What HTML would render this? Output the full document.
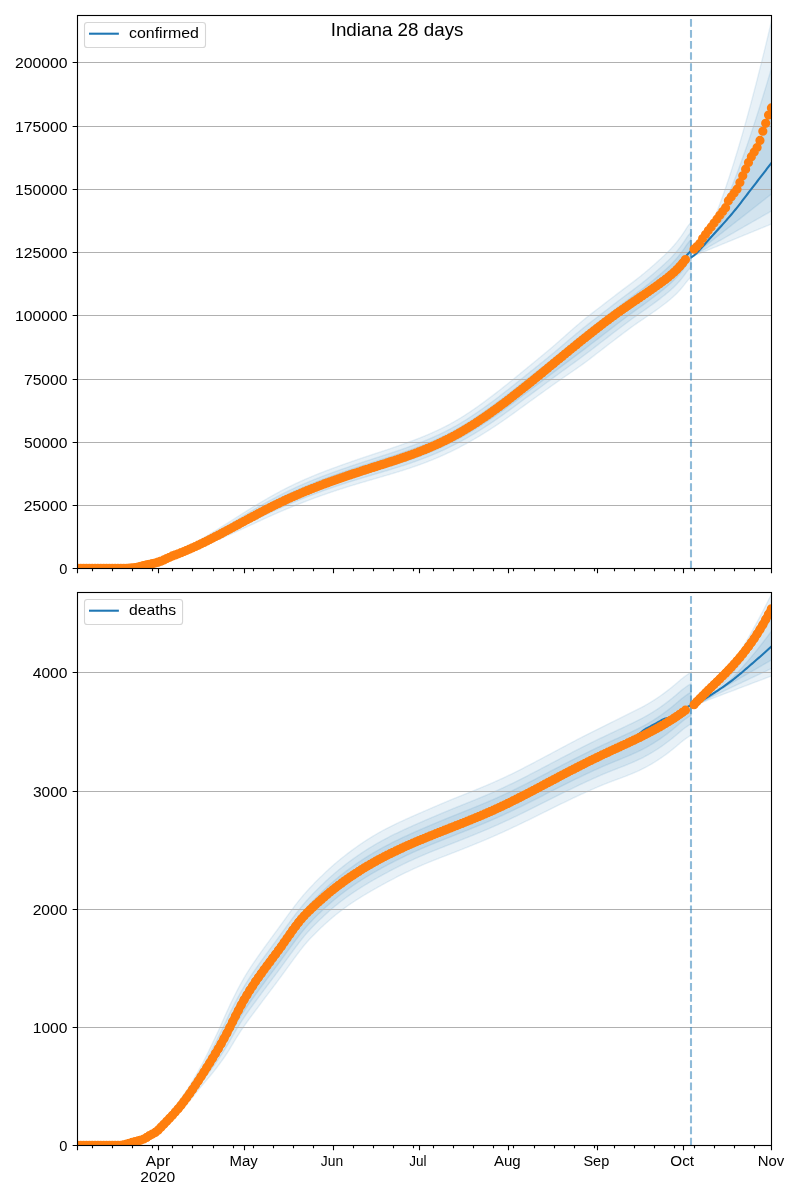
<!DOCTYPE html><html><head><meta charset="utf-8"><title>Indiana 28 days</title><style>html,body{margin:0;padding:0;background:#fff;}svg{display:block;will-change:transform;}text{font-family:"Liberation Sans",sans-serif;}</style></head><body><svg width="800" height="1200" viewBox="0 0 800 1200" font-family="Liberation Sans, sans-serif" fill="#000"><rect width="800" height="1200" fill="#fff"/><clipPath id="c0"><rect x="77.5" y="15.5" width="694.0" height="552.9"/></clipPath><g clip-path="url(#c0)"><path d="M77.5 568.09 L78.5 568.08 L79.5 568.07 L80.5 568.06 L81.5 568.05 L82.5 568.04 L83.5 568.03 L84.5 568.02 L85.5 568.01 L86.5 567.99 L87.5 567.98 L88.5 567.97 L89.5 567.96 L90.5 567.95 L91.5 567.94 L92.5 567.93 L93.5 567.92 L94.5 567.91 L95.5 567.9 L96.5 567.88 L97.5 567.87 L98.5 567.86 L99.5 567.85 L100.5 567.84 L101.5 567.83 L102.5 567.82 L103.5 567.81 L104.5 567.8 L105.5 567.78 L106.5 567.77 L107.5 567.76 L108.5 567.75 L109.5 567.74 L110.5 567.73 L111.5 567.72 L112.5 567.71 L113.5 567.7 L114.5 567.68 L115.5 567.67 L116.5 567.66 L117.5 567.65 L118.5 567.64 L119.5 567.63 L120.5 567.62 L121.5 567.6 L122.5 567.59 L123.5 567.56 L124.5 567.53 L125.5 567.5 L126.5 567.45 L127.5 567.4 L128.5 567.33 L129.5 567.26 L130.5 567.17 L131.5 567.06 L132.5 566.94 L133.5 566.8 L134.5 566.65 L135.5 566.47 L136.5 566.27 L137.5 566.07 L138.5 565.85 L139.5 565.61 L140.5 565.37 L141.5 565.12 L142.5 564.86 L143.5 564.6 L144.5 564.35 L145.5 564.1 L146.5 563.86 L147.5 563.63 L148.5 563.39 L149.5 563.16 L150.5 562.93 L151.5 562.69 L152.5 562.44 L153.5 562.19 L154.5 561.92 L155.5 561.63 L156.5 561.33 L157.5 561 L158.5 560.65 L159.5 560.27 L160.5 559.87 L161.5 559.44 L162.5 559 L163.5 558.54 L164.5 558.07 L165.5 557.58 L166.5 557.08 L167.5 556.58 L168.5 556.08 L169.5 555.59 L170.5 555.1 L171.5 554.63 L172.5 554.16 L173.5 553.7 L174.5 553.25 L175.5 552.8 L176.5 552.36 L177.5 551.91 L178.5 551.47 L179.5 551.03 L180.5 550.57 L181.5 550.11 L182.5 549.63 L183.5 549.14 L184.5 548.63 L185.5 548.11 L186.5 547.59 L187.5 547.05 L188.5 546.51 L189.5 545.96 L190.5 545.41 L191.5 544.85 L192.5 544.28 L193.5 543.71 L194.5 543.13 L195.5 542.55 L196.5 541.97 L197.5 541.39 L198.5 540.81 L199.5 540.23 L200.5 539.65 L201.5 539.06 L202.5 538.47 L203.5 537.88 L204.5 537.29 L205.5 536.69 L206.5 536.1 L207.5 535.49 L208.5 534.89 L209.5 534.28 L210.5 533.67 L211.5 533.06 L212.5 532.44 L213.5 531.83 L214.5 531.21 L215.5 530.59 L216.5 529.97 L217.5 529.34 L218.5 528.72 L219.5 528.09 L220.5 527.46 L221.5 526.84 L222.5 526.21 L223.5 525.58 L224.5 524.95 L225.5 524.32 L226.5 523.69 L227.5 523.06 L228.5 522.43 L229.5 521.79 L230.5 521.16 L231.5 520.53 L232.5 519.9 L233.5 519.27 L234.5 518.64 L235.5 518 L236.5 517.37 L237.5 516.73 L238.5 516.1 L239.5 515.47 L240.5 514.83 L241.5 514.2 L242.5 513.57 L243.5 512.94 L244.5 512.31 L245.5 511.68 L246.5 511.05 L247.5 510.43 L248.5 509.8 L249.5 509.18 L250.5 508.56 L251.5 507.94 L252.5 507.32 L253.5 506.71 L254.5 506.1 L255.5 505.49 L256.5 504.89 L257.5 504.29 L258.5 503.69 L259.5 503.09 L260.5 502.5 L261.5 501.91 L262.5 501.33 L263.5 500.74 L264.5 500.16 L265.5 499.58 L266.5 499 L267.5 498.43 L268.5 497.85 L269.5 497.28 L270.5 496.72 L271.5 496.15 L272.5 495.59 L273.5 495.03 L274.5 494.48 L275.5 493.93 L276.5 493.38 L277.5 492.84 L278.5 492.3 L279.5 491.76 L280.5 491.23 L281.5 490.7 L282.5 490.17 L283.5 489.65 L284.5 489.13 L285.5 488.62 L286.5 488.11 L287.5 487.61 L288.5 487.11 L289.5 486.61 L290.5 486.12 L291.5 485.63 L292.5 485.14 L293.5 484.66 L294.5 484.18 L295.5 483.71 L296.5 483.24 L297.5 482.77 L298.5 482.31 L299.5 481.85 L300.5 481.4 L301.5 480.95 L302.5 480.5 L303.5 480.06 L304.5 479.62 L305.5 479.18 L306.5 478.75 L307.5 478.32 L308.5 477.89 L309.5 477.46 L310.5 477.04 L311.5 476.62 L312.5 476.2 L313.5 475.79 L314.5 475.38 L315.5 474.97 L316.5 474.56 L317.5 474.16 L318.5 473.76 L319.5 473.36 L320.5 472.97 L321.5 472.57 L322.5 472.18 L323.5 471.79 L324.5 471.4 L325.5 471.02 L326.5 470.64 L327.5 470.26 L328.5 469.88 L329.5 469.5 L330.5 469.13 L331.5 468.75 L332.5 468.38 L333.5 468.01 L334.5 467.64 L335.5 467.28 L336.5 466.91 L337.5 466.55 L338.5 466.19 L339.5 465.83 L340.5 465.47 L341.5 465.11 L342.5 464.75 L343.5 464.4 L344.5 464.04 L345.5 463.69 L346.5 463.34 L347.5 462.99 L348.5 462.64 L349.5 462.29 L350.5 461.94 L351.5 461.59 L352.5 461.25 L353.5 460.9 L354.5 460.56 L355.5 460.22 L356.5 459.88 L357.5 459.53 L358.5 459.19 L359.5 458.86 L360.5 458.52 L361.5 458.18 L362.5 457.84 L363.5 457.51 L364.5 457.17 L365.5 456.84 L366.5 456.51 L367.5 456.17 L368.5 455.84 L369.5 455.51 L370.5 455.18 L371.5 454.85 L372.5 454.52 L373.5 454.19 L374.5 453.86 L375.5 453.53 L376.5 453.2 L377.5 452.87 L378.5 452.54 L379.5 452.21 L380.5 451.88 L381.5 451.55 L382.5 451.22 L383.5 450.88 L384.5 450.55 L385.5 450.22 L386.5 449.89 L387.5 449.55 L388.5 449.22 L389.5 448.88 L390.5 448.54 L391.5 448.21 L392.5 447.87 L393.5 447.53 L394.5 447.18 L395.5 446.84 L396.5 446.5 L397.5 446.15 L398.5 445.8 L399.5 445.45 L400.5 445.1 L401.5 444.75 L402.5 444.4 L403.5 444.04 L404.5 443.69 L405.5 443.33 L406.5 442.97 L407.5 442.6 L408.5 442.24 L409.5 441.87 L410.5 441.5 L411.5 441.13 L412.5 440.75 L413.5 440.38 L414.5 440 L415.5 439.61 L416.5 439.23 L417.5 438.84 L418.5 438.45 L419.5 438.05 L420.5 437.66 L421.5 437.26 L422.5 436.85 L423.5 436.44 L424.5 436.03 L425.5 435.62 L426.5 435.2 L427.5 434.77 L428.5 434.35 L429.5 433.92 L430.5 433.48 L431.5 433.04 L432.5 432.6 L433.5 432.15 L434.5 431.7 L435.5 431.24 L436.5 430.78 L437.5 430.31 L438.5 429.84 L439.5 429.36 L440.5 428.88 L441.5 428.39 L442.5 427.9 L443.5 427.4 L444.5 426.89 L445.5 426.38 L446.5 425.87 L447.5 425.35 L448.5 424.82 L449.5 424.29 L450.5 423.75 L451.5 423.21 L452.5 422.65 L453.5 422.09 L454.5 421.52 L455.5 420.95 L456.5 420.37 L457.5 419.78 L458.5 419.19 L459.5 418.58 L460.5 417.97 L461.5 417.36 L462.5 416.74 L463.5 416.11 L464.5 415.48 L465.5 414.84 L466.5 414.19 L467.5 413.54 L468.5 412.88 L469.5 412.21 L470.5 411.55 L471.5 410.87 L472.5 410.19 L473.5 409.51 L474.5 408.82 L475.5 408.12 L476.5 407.42 L477.5 406.72 L478.5 406.01 L479.5 405.29 L480.5 404.57 L481.5 403.85 L482.5 403.13 L483.5 402.39 L484.5 401.66 L485.5 400.92 L486.5 400.18 L487.5 399.43 L488.5 398.68 L489.5 397.93 L490.5 397.18 L491.5 396.42 L492.5 395.66 L493.5 394.89 L494.5 394.12 L495.5 393.35 L496.5 392.58 L497.5 391.81 L498.5 391.03 L499.5 390.25 L500.5 389.47 L501.5 388.68 L502.5 387.9 L503.5 387.11 L504.5 386.31 L505.5 385.52 L506.5 384.73 L507.5 383.93 L508.5 383.13 L509.5 382.32 L510.5 381.52 L511.5 380.71 L512.5 379.9 L513.5 379.09 L514.5 378.28 L515.5 377.47 L516.5 376.65 L517.5 375.83 L518.5 375.01 L519.5 374.19 L520.5 373.37 L521.5 372.55 L522.5 371.72 L523.5 370.9 L524.5 370.08 L525.5 369.26 L526.5 368.44 L527.5 367.62 L528.5 366.8 L529.5 365.98 L530.5 365.16 L531.5 364.34 L532.5 363.52 L533.5 362.7 L534.5 361.88 L535.5 361.06 L536.5 360.24 L537.5 359.42 L538.5 358.59 L539.5 357.77 L540.5 356.95 L541.5 356.12 L542.5 355.29 L543.5 354.47 L544.5 353.64 L545.5 352.81 L546.5 351.97 L547.5 351.14 L548.5 350.31 L549.5 349.47 L550.5 348.63 L551.5 347.78 L552.5 346.93 L553.5 346.08 L554.5 345.22 L555.5 344.35 L556.5 343.48 L557.5 342.6 L558.5 341.72 L559.5 340.84 L560.5 339.95 L561.5 339.06 L562.5 338.17 L563.5 337.29 L564.5 336.4 L565.5 335.51 L566.5 334.62 L567.5 333.74 L568.5 332.85 L569.5 331.97 L570.5 331.09 L571.5 330.21 L572.5 329.34 L573.5 328.46 L574.5 327.59 L575.5 326.73 L576.5 325.87 L577.5 325.01 L578.5 324.16 L579.5 323.31 L580.5 322.47 L581.5 321.63 L582.5 320.8 L583.5 319.98 L584.5 319.16 L585.5 318.35 L586.5 317.55 L587.5 316.75 L588.5 315.96 L589.5 315.18 L590.5 314.41 L591.5 313.64 L592.5 312.87 L593.5 312.1 L594.5 311.33 L595.5 310.56 L596.5 309.79 L597.5 309.02 L598.5 308.25 L599.5 307.48 L600.5 306.71 L601.5 305.94 L602.5 305.17 L603.5 304.4 L604.5 303.63 L605.5 302.85 L606.5 302.08 L607.5 301.31 L608.5 300.54 L609.5 299.77 L610.5 299 L611.5 298.24 L612.5 297.47 L613.5 296.7 L614.5 295.94 L615.5 295.17 L616.5 294.41 L617.5 293.65 L618.5 292.89 L619.5 292.13 L620.5 291.38 L621.5 290.63 L622.5 289.87 L623.5 289.12 L624.5 288.37 L625.5 287.63 L626.5 286.88 L627.5 286.14 L628.5 285.4 L629.5 284.65 L630.5 283.91 L631.5 283.16 L632.5 282.41 L633.5 281.65 L634.5 280.89 L635.5 280.11 L636.5 279.34 L637.5 278.55 L638.5 277.77 L639.5 276.97 L640.5 276.18 L641.5 275.37 L642.5 274.56 L643.5 273.74 L644.5 272.91 L645.5 272.08 L646.5 271.24 L647.5 270.39 L648.5 269.54 L649.5 268.68 L650.5 267.82 L651.5 266.95 L652.5 266.07 L653.5 265.19 L654.5 264.31 L655.5 263.42 L656.5 262.53 L657.5 261.63 L658.5 260.73 L659.5 259.83 L660.5 258.92 L661.5 258 L662.5 257.08 L663.5 256.14 L664.5 255.19 L665.5 254.23 L666.5 253.26 L667.5 252.27 L668.5 251.26 L669.5 250.24 L670.5 249.2 L671.5 248.13 L672.5 247.04 L673.5 245.92 L674.5 244.77 L675.5 243.59 L676.5 242.38 L677.5 241.14 L678.5 239.86 L679.5 238.54 L680.5 237.18 L681.5 235.78 L682.5 234.35 L683.5 232.86 L684.5 231.33 L685.5 229.76 L686.5 228.18 L687.5 226.71 L688.5 225.34 L689.5 224.08 L690.5 222.93 L691.18 221.99 L691.18 276.98 L690.5 277.74 L689.5 278.62 L688.5 279.62 L687.5 280.72 L686.5 281.94 L685.5 283.25 L684.5 284.57 L683.5 285.85 L682.5 287.08 L681.5 288.28 L680.5 289.43 L679.5 290.54 L678.5 291.62 L677.5 292.67 L676.5 293.68 L675.5 294.66 L674.5 295.62 L673.5 296.54 L672.5 297.45 L671.5 298.32 L670.5 299.18 L669.5 300.02 L668.5 300.84 L667.5 301.64 L666.5 302.43 L665.5 303.21 L664.5 303.99 L663.5 304.75 L662.5 305.51 L661.5 306.26 L660.5 307 L659.5 307.74 L658.5 308.48 L657.5 309.2 L656.5 309.92 L655.5 310.64 L654.5 311.34 L653.5 312.05 L652.5 312.74 L651.5 313.44 L650.5 314.13 L649.5 314.81 L648.5 315.5 L647.5 316.18 L646.5 316.86 L645.5 317.53 L644.5 318.21 L643.5 318.88 L642.5 319.56 L641.5 320.23 L640.5 320.91 L639.5 321.58 L638.5 322.26 L637.5 322.94 L636.5 323.63 L635.5 324.33 L634.5 325.03 L633.5 325.74 L632.5 326.46 L631.5 327.18 L630.5 327.91 L629.5 328.65 L628.5 329.4 L627.5 330.14 L626.5 330.88 L625.5 331.63 L624.5 332.37 L623.5 333.12 L622.5 333.87 L621.5 334.63 L620.5 335.38 L619.5 336.13 L618.5 336.89 L617.5 337.65 L616.5 338.41 L615.5 339.17 L614.5 339.94 L613.5 340.7 L612.5 341.47 L611.5 342.24 L610.5 343 L609.5 343.77 L608.5 344.54 L607.5 345.31 L606.5 346.08 L605.5 346.85 L604.5 347.63 L603.5 348.4 L602.5 349.17 L601.5 349.94 L600.5 350.71 L599.5 351.48 L598.5 352.25 L597.5 353.02 L596.5 353.79 L595.5 354.56 L594.5 355.33 L593.5 356.1 L592.5 356.87 L591.5 357.64 L590.5 358.41 L589.5 359.18 L588.5 359.95 L587.5 360.7 L586.5 361.45 L585.5 362.2 L584.5 362.93 L583.5 363.66 L582.5 364.39 L581.5 365.11 L580.5 365.82 L579.5 366.54 L578.5 367.24 L577.5 367.94 L576.5 368.64 L575.5 369.34 L574.5 370.03 L573.5 370.73 L572.5 371.42 L571.5 372.1 L570.5 372.79 L569.5 373.48 L568.5 374.16 L567.5 374.85 L566.5 375.53 L565.5 376.22 L564.5 376.9 L563.5 377.59 L562.5 378.28 L561.5 378.97 L560.5 379.66 L559.5 380.36 L558.5 381.06 L557.5 381.75 L556.5 382.45 L555.5 383.15 L554.5 383.86 L553.5 384.56 L552.5 385.27 L551.5 385.98 L550.5 386.69 L549.5 387.41 L548.5 388.13 L547.5 388.84 L546.5 389.56 L545.5 390.28 L544.5 391 L543.5 391.71 L542.5 392.43 L541.5 393.15 L540.5 393.87 L539.5 394.58 L538.5 395.3 L537.5 396.02 L536.5 396.74 L535.5 397.46 L534.5 398.18 L533.5 398.9 L532.5 399.62 L531.5 400.34 L530.5 401.06 L529.5 401.78 L528.5 402.51 L527.5 403.23 L526.5 403.95 L525.5 404.68 L524.5 405.4 L523.5 406.13 L522.5 406.86 L521.5 407.59 L520.5 408.31 L519.5 409.04 L518.5 409.77 L517.5 410.5 L516.5 411.22 L515.5 411.95 L514.5 412.67 L513.5 413.39 L512.5 414.11 L511.5 414.82 L510.5 415.53 L509.5 416.24 L508.5 416.95 L507.5 417.66 L506.5 418.36 L505.5 419.06 L504.5 419.76 L503.5 420.45 L502.5 421.14 L501.5 421.83 L500.5 422.52 L499.5 423.2 L498.5 423.88 L497.5 424.55 L496.5 425.22 L495.5 425.89 L494.5 426.55 L493.5 427.21 L492.5 427.86 L491.5 428.52 L490.5 429.16 L489.5 429.81 L488.5 430.45 L487.5 431.08 L486.5 431.72 L485.5 432.34 L484.5 432.97 L483.5 433.59 L482.5 434.2 L481.5 434.82 L480.5 435.43 L479.5 436.03 L478.5 436.63 L477.5 437.23 L476.5 437.82 L475.5 438.41 L474.5 438.99 L473.5 439.57 L472.5 440.15 L471.5 440.72 L470.5 441.29 L469.5 441.85 L468.5 442.41 L467.5 442.97 L466.5 443.52 L465.5 444.07 L464.5 444.61 L463.5 445.15 L462.5 445.69 L461.5 446.22 L460.5 446.74 L459.5 447.27 L458.5 447.78 L457.5 448.3 L456.5 448.81 L455.5 449.31 L454.5 449.82 L453.5 450.31 L452.5 450.81 L451.5 451.29 L450.5 451.78 L449.5 452.26 L448.5 452.74 L447.5 453.21 L446.5 453.68 L445.5 454.14 L444.5 454.6 L443.5 455.05 L442.5 455.5 L441.5 455.95 L440.5 456.39 L439.5 456.83 L438.5 457.26 L437.5 457.69 L436.5 458.11 L435.5 458.53 L434.5 458.95 L433.5 459.36 L432.5 459.77 L431.5 460.17 L430.5 460.58 L429.5 460.97 L428.5 461.37 L427.5 461.76 L426.5 462.14 L425.5 462.53 L424.5 462.91 L423.5 463.28 L422.5 463.66 L421.5 464.03 L420.5 464.39 L419.5 464.76 L418.5 465.12 L417.5 465.47 L416.5 465.83 L415.5 466.18 L414.5 466.53 L413.5 466.87 L412.5 467.21 L411.5 467.55 L410.5 467.89 L409.5 468.22 L408.5 468.56 L407.5 468.89 L406.5 469.21 L405.5 469.54 L404.5 469.86 L403.5 470.18 L402.5 470.5 L401.5 470.81 L400.5 471.12 L399.5 471.43 L398.5 471.74 L397.5 472.05 L396.5 472.36 L395.5 472.66 L394.5 472.96 L393.5 473.27 L392.5 473.57 L391.5 473.87 L390.5 474.16 L389.5 474.46 L388.5 474.76 L387.5 475.05 L386.5 475.35 L385.5 475.64 L384.5 475.93 L383.5 476.22 L382.5 476.52 L381.5 476.81 L380.5 477.1 L379.5 477.39 L378.5 477.68 L377.5 477.97 L376.5 478.26 L375.5 478.55 L374.5 478.84 L373.5 479.13 L372.5 479.42 L371.5 479.71 L370.5 480 L369.5 480.29 L368.5 480.58 L367.5 480.87 L366.5 481.17 L365.5 481.46 L364.5 481.75 L363.5 482.05 L362.5 482.34 L361.5 482.64 L360.5 482.94 L359.5 483.24 L358.5 483.53 L357.5 483.83 L356.5 484.14 L355.5 484.44 L354.5 484.74 L353.5 485.04 L352.5 485.35 L351.5 485.65 L350.5 485.96 L349.5 486.27 L348.5 486.58 L347.5 486.89 L346.5 487.2 L345.5 487.52 L344.5 487.83 L343.5 488.15 L342.5 488.47 L341.5 488.79 L340.5 489.11 L339.5 489.44 L338.5 489.76 L337.5 490.09 L336.5 490.42 L335.5 490.75 L334.5 491.08 L333.5 491.42 L332.5 491.75 L331.5 492.09 L330.5 492.43 L329.5 492.77 L328.5 493.11 L327.5 493.46 L326.5 493.8 L325.5 494.15 L324.5 494.5 L323.5 494.85 L322.5 495.2 L321.5 495.56 L320.5 495.91 L319.5 496.27 L318.5 496.63 L317.5 496.99 L316.5 497.36 L315.5 497.72 L314.5 498.09 L313.5 498.46 L312.5 498.83 L311.5 499.2 L310.5 499.58 L309.5 499.95 L308.5 500.33 L307.5 500.71 L306.5 501.1 L305.5 501.48 L304.5 501.87 L303.5 502.25 L302.5 502.64 L301.5 503.03 L300.5 503.43 L299.5 503.82 L298.5 504.22 L297.5 504.62 L296.5 505.02 L295.5 505.42 L294.5 505.82 L293.5 506.22 L292.5 506.63 L291.5 507.03 L290.5 507.44 L289.5 507.85 L288.5 508.26 L287.5 508.68 L286.5 509.09 L285.5 509.51 L284.5 509.93 L283.5 510.35 L282.5 510.77 L281.5 511.19 L280.5 511.62 L279.5 512.05 L278.5 512.48 L277.5 512.91 L276.5 513.35 L275.5 513.79 L274.5 514.23 L273.5 514.67 L272.5 515.11 L271.5 515.56 L270.5 516 L269.5 516.45 L268.5 516.9 L267.5 517.36 L266.5 517.81 L265.5 518.27 L264.5 518.72 L263.5 519.18 L262.5 519.64 L261.5 520.1 L260.5 520.57 L259.5 521.03 L258.5 521.49 L257.5 521.96 L256.5 522.42 L255.5 522.88 L254.5 523.34 L253.5 523.81 L252.5 524.27 L251.5 524.73 L250.5 525.18 L249.5 525.64 L248.5 526.1 L247.5 526.56 L246.5 527.02 L245.5 527.47 L244.5 527.93 L243.5 528.38 L242.5 528.84 L241.5 529.29 L240.5 529.75 L239.5 530.2 L238.5 530.65 L237.5 531.1 L236.5 531.56 L235.5 532.01 L234.5 532.46 L233.5 532.91 L232.5 533.36 L231.5 533.81 L230.5 534.26 L229.5 534.7 L228.5 535.15 L227.5 535.59 L226.5 536.04 L225.5 536.48 L224.5 536.91 L223.5 537.35 L222.5 537.78 L221.5 538.21 L220.5 538.64 L219.5 539.07 L218.5 539.5 L217.5 539.92 L216.5 540.34 L215.5 540.76 L214.5 541.17 L213.5 541.59 L212.5 542 L211.5 542.41 L210.5 542.81 L209.5 543.22 L208.5 543.62 L207.5 544.02 L206.5 544.42 L205.5 544.81 L204.5 545.2 L203.5 545.59 L202.5 545.98 L201.5 546.36 L200.5 546.75 L199.5 547.12 L198.5 547.5 L197.5 547.86 L196.5 548.22 L195.5 548.58 L194.5 548.93 L193.5 549.27 L192.5 549.61 L191.5 549.95 L190.5 550.28 L189.5 550.61 L188.5 550.94 L187.5 551.27 L186.5 551.6 L185.5 551.94 L184.5 552.27 L183.5 552.61 L182.5 552.94 L181.5 553.28 L180.5 553.63 L179.5 553.97 L178.5 554.32 L177.5 554.66 L176.5 555 L175.5 555.35 L174.5 555.7 L173.5 556.06 L172.5 556.43 L171.5 556.81 L170.5 557.19 L169.5 557.59 L168.5 558 L167.5 558.42 L166.5 558.85 L165.5 559.27 L164.5 559.69 L163.5 560.09 L162.5 560.49 L161.5 560.87 L160.5 561.23 L159.5 561.58 L158.5 561.91 L157.5 562.22 L156.5 562.5 L155.5 562.77 L154.5 563.02 L153.5 563.25 L152.5 563.48 L151.5 563.71 L150.5 563.93 L149.5 564.15 L148.5 564.38 L147.5 564.6 L146.5 564.82 L145.5 565.05 L144.5 565.29 L143.5 565.53 L142.5 565.78 L141.5 566.03 L140.5 566.27 L139.5 566.5 L138.5 566.73 L137.5 566.94 L136.5 567.14 L135.5 567.32 L134.5 567.49 L133.5 567.64 L132.5 567.77 L131.5 567.88 L130.5 567.98 L129.5 568.06 L128.5 568.13 L127.5 568.18 L126.5 568.23 L125.5 568.27 L124.5 568.3 L123.5 568.32 L122.5 568.34 L121.5 568.35 L120.5 568.35 L119.5 568.36 L118.5 568.36 L117.5 568.37 L116.5 568.37 L115.5 568.38 L114.5 568.39 L113.5 568.39 L112.5 568.4 L111.5 568.4 L110.5 568.4 L109.5 568.4 L108.5 568.4 L107.5 568.4 L106.5 568.4 L105.5 568.4 L104.5 568.4 L103.5 568.4 L102.5 568.4 L101.5 568.4 L100.5 568.4 L99.5 568.4 L98.5 568.4 L97.5 568.4 L96.5 568.4 L95.5 568.4 L94.5 568.4 L93.5 568.4 L92.5 568.4 L91.5 568.4 L90.5 568.4 L89.5 568.4 L88.5 568.4 L87.5 568.4 L86.5 568.4 L85.5 568.4 L84.5 568.4 L83.5 568.4 L82.5 568.4 L81.5 568.4 L80.5 568.4 L79.5 568.4 L78.5 568.4 L77.5 568.4 Z" fill="#1f77b4" fill-opacity="0.1" stroke="#1f77b4" stroke-opacity="0.1" stroke-width="1.39"/><path d="M77.5 568.2 L78.5 568.19 L79.5 568.18 L80.5 568.17 L81.5 568.16 L82.5 568.15 L83.5 568.14 L84.5 568.13 L85.5 568.11 L86.5 568.1 L87.5 568.09 L88.5 568.08 L89.5 568.07 L90.5 568.06 L91.5 568.05 L92.5 568.04 L93.5 568.03 L94.5 568.02 L95.5 568.01 L96.5 568 L97.5 567.99 L98.5 567.98 L99.5 567.97 L100.5 567.95 L101.5 567.94 L102.5 567.93 L103.5 567.92 L104.5 567.91 L105.5 567.9 L106.5 567.89 L107.5 567.88 L108.5 567.87 L109.5 567.86 L110.5 567.85 L111.5 567.84 L112.5 567.83 L113.5 567.82 L114.5 567.81 L115.5 567.8 L116.5 567.79 L117.5 567.78 L118.5 567.77 L119.5 567.76 L120.5 567.75 L121.5 567.74 L122.5 567.72 L123.5 567.7 L124.5 567.67 L125.5 567.64 L126.5 567.59 L127.5 567.54 L128.5 567.48 L129.5 567.4 L130.5 567.31 L131.5 567.21 L132.5 567.09 L133.5 566.95 L134.5 566.8 L135.5 566.62 L136.5 566.43 L137.5 566.22 L138.5 566 L139.5 565.77 L140.5 565.53 L141.5 565.28 L142.5 565.03 L143.5 564.77 L144.5 564.52 L145.5 564.27 L146.5 564.03 L147.5 563.8 L148.5 563.57 L149.5 563.34 L150.5 563.11 L151.5 562.87 L152.5 562.63 L153.5 562.38 L154.5 562.12 L155.5 561.84 L156.5 561.54 L157.5 561.22 L158.5 560.87 L159.5 560.5 L160.5 560.11 L161.5 559.7 L162.5 559.27 L163.5 558.82 L164.5 558.36 L165.5 557.89 L166.5 557.4 L167.5 556.91 L168.5 556.43 L169.5 555.95 L170.5 555.48 L171.5 555.02 L172.5 554.57 L173.5 554.13 L174.5 553.69 L175.5 553.26 L176.5 552.83 L177.5 552.41 L178.5 551.98 L179.5 551.56 L180.5 551.12 L181.5 550.68 L182.5 550.23 L183.5 549.76 L184.5 549.29 L185.5 548.8 L186.5 548.31 L187.5 547.81 L188.5 547.31 L189.5 546.8 L190.5 546.29 L191.5 545.77 L192.5 545.24 L193.5 544.71 L194.5 544.18 L195.5 543.64 L196.5 543.1 L197.5 542.55 L198.5 542.01 L199.5 541.47 L200.5 540.92 L201.5 540.38 L202.5 539.83 L203.5 539.27 L204.5 538.72 L205.5 538.16 L206.5 537.59 L207.5 537.03 L208.5 536.46 L209.5 535.89 L210.5 535.32 L211.5 534.74 L212.5 534.16 L213.5 533.58 L214.5 533 L215.5 532.42 L216.5 531.83 L217.5 531.25 L218.5 530.66 L219.5 530.07 L220.5 529.48 L221.5 528.88 L222.5 528.29 L223.5 527.7 L224.5 527.1 L225.5 526.51 L226.5 525.91 L227.5 525.31 L228.5 524.72 L229.5 524.12 L230.5 523.52 L231.5 522.92 L232.5 522.32 L233.5 521.72 L234.5 521.12 L235.5 520.52 L236.5 519.92 L237.5 519.32 L238.5 518.72 L239.5 518.12 L240.5 517.52 L241.5 516.92 L242.5 516.32 L243.5 515.72 L244.5 515.12 L245.5 514.52 L246.5 513.92 L247.5 513.33 L248.5 512.74 L249.5 512.14 L250.5 511.55 L251.5 510.96 L252.5 510.37 L253.5 509.79 L254.5 509.2 L255.5 508.62 L256.5 508.04 L257.5 507.47 L258.5 506.89 L259.5 506.32 L260.5 505.75 L261.5 505.19 L262.5 504.62 L263.5 504.06 L264.5 503.5 L265.5 502.94 L266.5 502.39 L267.5 501.83 L268.5 501.28 L269.5 500.73 L270.5 500.19 L271.5 499.64 L272.5 499.1 L273.5 498.57 L274.5 498.03 L275.5 497.5 L276.5 496.97 L277.5 496.45 L278.5 495.93 L279.5 495.41 L280.5 494.9 L281.5 494.39 L282.5 493.88 L283.5 493.38 L284.5 492.88 L285.5 492.38 L286.5 491.89 L287.5 491.4 L288.5 490.91 L289.5 490.43 L290.5 489.95 L291.5 489.48 L292.5 489.01 L293.5 488.54 L294.5 488.08 L295.5 487.62 L296.5 487.16 L297.5 486.71 L298.5 486.25 L299.5 485.81 L300.5 485.36 L301.5 484.92 L302.5 484.49 L303.5 484.05 L304.5 483.62 L305.5 483.19 L306.5 482.77 L307.5 482.35 L308.5 481.93 L309.5 481.51 L310.5 481.1 L311.5 480.68 L312.5 480.28 L313.5 479.87 L314.5 479.47 L315.5 479.07 L316.5 478.67 L317.5 478.27 L318.5 477.88 L319.5 477.49 L320.5 477.1 L321.5 476.71 L322.5 476.32 L323.5 475.94 L324.5 475.56 L325.5 475.18 L326.5 474.81 L327.5 474.43 L328.5 474.06 L329.5 473.69 L330.5 473.32 L331.5 472.95 L332.5 472.59 L333.5 472.22 L334.5 471.86 L335.5 471.5 L336.5 471.14 L337.5 470.79 L338.5 470.43 L339.5 470.08 L340.5 469.72 L341.5 469.37 L342.5 469.02 L343.5 468.67 L344.5 468.33 L345.5 467.98 L346.5 467.64 L347.5 467.29 L348.5 466.95 L349.5 466.61 L350.5 466.27 L351.5 465.93 L352.5 465.59 L353.5 465.25 L354.5 464.91 L355.5 464.58 L356.5 464.24 L357.5 463.91 L358.5 463.58 L359.5 463.24 L360.5 462.91 L361.5 462.58 L362.5 462.25 L363.5 461.93 L364.5 461.6 L365.5 461.27 L366.5 460.95 L367.5 460.62 L368.5 460.29 L369.5 459.97 L370.5 459.65 L371.5 459.32 L372.5 459 L373.5 458.68 L374.5 458.35 L375.5 458.03 L376.5 457.71 L377.5 457.39 L378.5 457.06 L379.5 456.74 L380.5 456.42 L381.5 456.09 L382.5 455.77 L383.5 455.45 L384.5 455.12 L385.5 454.79 L386.5 454.47 L387.5 454.14 L388.5 453.81 L389.5 453.49 L390.5 453.16 L391.5 452.82 L392.5 452.49 L393.5 452.16 L394.5 451.83 L395.5 451.49 L396.5 451.15 L397.5 450.81 L398.5 450.47 L399.5 450.13 L400.5 449.79 L401.5 449.44 L402.5 449.1 L403.5 448.75 L404.5 448.4 L405.5 448.04 L406.5 447.69 L407.5 447.33 L408.5 446.97 L409.5 446.61 L410.5 446.25 L411.5 445.88 L412.5 445.52 L413.5 445.15 L414.5 444.77 L415.5 444.4 L416.5 444.02 L417.5 443.63 L418.5 443.25 L419.5 442.86 L420.5 442.47 L421.5 442.07 L422.5 441.68 L423.5 441.27 L424.5 440.87 L425.5 440.46 L426.5 440.05 L427.5 439.63 L428.5 439.21 L429.5 438.79 L430.5 438.36 L431.5 437.92 L432.5 437.49 L433.5 437.05 L434.5 436.6 L435.5 436.15 L436.5 435.7 L437.5 435.24 L438.5 434.77 L439.5 434.3 L440.5 433.83 L441.5 433.35 L442.5 432.87 L443.5 432.38 L444.5 431.88 L445.5 431.38 L446.5 430.88 L447.5 430.36 L448.5 429.85 L449.5 429.32 L450.5 428.8 L451.5 428.26 L452.5 427.72 L453.5 427.17 L454.5 426.62 L455.5 426.06 L456.5 425.49 L457.5 424.91 L458.5 424.33 L459.5 423.75 L460.5 423.15 L461.5 422.55 L462.5 421.95 L463.5 421.34 L464.5 420.72 L465.5 420.1 L466.5 419.47 L467.5 418.83 L468.5 418.19 L469.5 417.55 L470.5 416.9 L471.5 416.24 L472.5 415.58 L473.5 414.92 L474.5 414.25 L475.5 413.57 L476.5 412.89 L477.5 412.21 L478.5 411.52 L479.5 410.83 L480.5 410.13 L481.5 409.43 L482.5 408.72 L483.5 408.01 L484.5 407.3 L485.5 406.58 L486.5 405.86 L487.5 405.13 L488.5 404.4 L489.5 403.67 L490.5 402.93 L491.5 402.2 L492.5 401.45 L493.5 400.71 L494.5 399.96 L495.5 399.21 L496.5 398.46 L497.5 397.7 L498.5 396.94 L499.5 396.18 L500.5 395.42 L501.5 394.65 L502.5 393.88 L503.5 393.11 L504.5 392.33 L505.5 391.56 L506.5 390.78 L507.5 390 L508.5 389.22 L509.5 388.43 L510.5 387.64 L511.5 386.85 L512.5 386.06 L513.5 385.27 L514.5 384.47 L515.5 383.67 L516.5 382.87 L517.5 382.07 L518.5 381.27 L519.5 380.46 L520.5 379.66 L521.5 378.85 L522.5 378.05 L523.5 377.24 L524.5 376.44 L525.5 375.64 L526.5 374.83 L527.5 374.03 L528.5 373.23 L529.5 372.43 L530.5 371.62 L531.5 370.82 L532.5 370.02 L533.5 369.22 L534.5 368.42 L535.5 367.61 L536.5 366.81 L537.5 366.01 L538.5 365.2 L539.5 364.4 L540.5 363.59 L541.5 362.79 L542.5 361.98 L543.5 361.17 L544.5 360.36 L545.5 359.55 L546.5 358.74 L547.5 357.93 L548.5 357.11 L549.5 356.3 L550.5 355.48 L551.5 354.66 L552.5 353.83 L553.5 353 L554.5 352.17 L555.5 351.33 L556.5 350.49 L557.5 349.65 L558.5 348.8 L559.5 347.95 L560.5 347.1 L561.5 346.25 L562.5 345.39 L563.5 344.54 L564.5 343.69 L565.5 342.84 L566.5 341.99 L567.5 341.14 L568.5 340.29 L569.5 339.44 L570.5 338.59 L571.5 337.75 L572.5 336.91 L573.5 336.07 L574.5 335.23 L575.5 334.4 L576.5 333.57 L577.5 332.74 L578.5 331.91 L579.5 331.09 L580.5 330.27 L581.5 329.46 L582.5 328.65 L583.5 327.84 L584.5 327.04 L585.5 326.24 L586.5 325.45 L587.5 324.66 L588.5 323.88 L589.5 323.1 L590.5 322.33 L591.5 321.56 L592.5 320.79 L593.5 320.02 L594.5 319.25 L595.5 318.48 L596.5 317.71 L597.5 316.94 L598.5 316.17 L599.5 315.4 L600.5 314.63 L601.5 313.86 L602.5 313.09 L603.5 312.32 L604.5 311.55 L605.5 310.77 L606.5 310 L607.5 309.23 L608.5 308.46 L609.5 307.69 L610.5 306.92 L611.5 306.16 L612.5 305.39 L613.5 304.62 L614.5 303.86 L615.5 303.09 L616.5 302.33 L617.5 301.57 L618.5 300.81 L619.5 300.05 L620.5 299.3 L621.5 298.55 L622.5 297.79 L623.5 297.04 L624.5 296.29 L625.5 295.55 L626.5 294.8 L627.5 294.06 L628.5 293.32 L629.5 292.57 L630.5 291.83 L631.5 291.09 L632.5 290.34 L633.5 289.59 L634.5 288.83 L635.5 288.07 L636.5 287.31 L637.5 286.54 L638.5 285.78 L639.5 285 L640.5 284.23 L641.5 283.45 L642.5 282.66 L643.5 281.87 L644.5 281.07 L645.5 280.26 L646.5 279.45 L647.5 278.64 L648.5 277.81 L649.5 276.99 L650.5 276.15 L651.5 275.32 L652.5 274.47 L653.5 273.63 L654.5 272.78 L655.5 271.92 L656.5 271.06 L657.5 270.19 L658.5 269.33 L659.5 268.45 L660.5 267.57 L661.5 266.69 L662.5 265.79 L663.5 264.89 L664.5 263.97 L665.5 263.05 L666.5 262.11 L667.5 261.16 L668.5 260.19 L669.5 259.2 L670.5 258.19 L671.5 257.17 L672.5 256.11 L673.5 255.03 L674.5 253.92 L675.5 252.78 L676.5 251.61 L677.5 250.41 L678.5 249.17 L679.5 247.9 L680.5 246.59 L681.5 245.23 L682.5 243.84 L683.5 242.4 L684.5 240.92 L685.5 239.39 L686.5 237.86 L687.5 236.43 L688.5 235.11 L689.5 233.9 L690.5 232.8 L691.18 231.89 L691.18 267.08 L690.5 267.88 L689.5 268.8 L688.5 269.85 L687.5 271 L686.5 272.26 L685.5 273.63 L684.5 274.99 L683.5 276.31 L682.5 277.59 L681.5 278.83 L680.5 280.02 L679.5 281.18 L678.5 282.3 L677.5 283.39 L676.5 284.45 L675.5 285.47 L674.5 286.47 L673.5 287.43 L672.5 288.37 L671.5 289.29 L670.5 290.18 L669.5 291.06 L668.5 291.91 L667.5 292.75 L666.5 293.58 L665.5 294.4 L664.5 295.2 L663.5 296 L662.5 296.79 L661.5 297.57 L660.5 298.35 L659.5 299.12 L658.5 299.88 L657.5 300.64 L656.5 301.39 L655.5 302.14 L654.5 302.88 L653.5 303.61 L652.5 304.34 L651.5 305.07 L650.5 305.79 L649.5 306.51 L648.5 307.23 L647.5 307.94 L646.5 308.65 L645.5 309.35 L644.5 310.06 L643.5 310.76 L642.5 311.46 L641.5 312.16 L640.5 312.85 L639.5 313.55 L638.5 314.25 L637.5 314.95 L636.5 315.66 L635.5 316.37 L634.5 317.09 L633.5 317.81 L632.5 318.53 L631.5 319.26 L630.5 319.99 L629.5 320.73 L628.5 321.48 L627.5 322.22 L626.5 322.96 L625.5 323.71 L624.5 324.45 L623.5 325.2 L622.5 325.95 L621.5 326.71 L620.5 327.46 L619.5 328.21 L618.5 328.97 L617.5 329.73 L616.5 330.49 L615.5 331.25 L614.5 332.02 L613.5 332.78 L612.5 333.55 L611.5 334.32 L610.5 335.08 L609.5 335.85 L608.5 336.62 L607.5 337.39 L606.5 338.16 L605.5 338.93 L604.5 339.71 L603.5 340.48 L602.5 341.25 L601.5 342.02 L600.5 342.79 L599.5 343.56 L598.5 344.33 L597.5 345.1 L596.5 345.87 L595.5 346.64 L594.5 347.41 L593.5 348.18 L592.5 348.95 L591.5 349.72 L590.5 350.49 L589.5 351.26 L588.5 352.03 L587.5 352.79 L586.5 353.55 L585.5 354.3 L584.5 355.05 L583.5 355.8 L582.5 356.54 L581.5 357.28 L580.5 358.02 L579.5 358.76 L578.5 359.49 L577.5 360.22 L576.5 360.94 L575.5 361.67 L574.5 362.4 L573.5 363.12 L572.5 363.84 L571.5 364.56 L570.5 365.28 L569.5 366 L568.5 366.72 L567.5 367.45 L566.5 368.17 L565.5 368.89 L564.5 369.61 L563.5 370.34 L562.5 371.06 L561.5 371.79 L560.5 372.52 L559.5 373.25 L558.5 373.98 L557.5 374.71 L556.5 375.44 L555.5 376.17 L554.5 376.9 L553.5 377.63 L552.5 378.37 L551.5 379.1 L550.5 379.84 L549.5 380.58 L548.5 381.32 L547.5 382.06 L546.5 382.8 L545.5 383.53 L544.5 384.27 L543.5 385.01 L542.5 385.75 L541.5 386.48 L540.5 387.22 L539.5 387.96 L538.5 388.69 L537.5 389.43 L536.5 390.17 L535.5 390.91 L534.5 391.64 L533.5 392.38 L532.5 393.12 L531.5 393.86 L530.5 394.6 L529.5 395.34 L528.5 396.08 L527.5 396.82 L526.5 397.56 L525.5 398.3 L524.5 399.05 L523.5 399.79 L522.5 400.53 L521.5 401.28 L520.5 402.02 L519.5 402.77 L518.5 403.52 L517.5 404.26 L516.5 405 L515.5 405.74 L514.5 406.48 L513.5 407.22 L512.5 407.95 L511.5 408.68 L510.5 409.41 L509.5 410.14 L508.5 410.86 L507.5 411.59 L506.5 412.31 L505.5 413.02 L504.5 413.74 L503.5 414.45 L502.5 415.16 L501.5 415.86 L500.5 416.57 L499.5 417.27 L498.5 417.96 L497.5 418.66 L496.5 419.35 L495.5 420.03 L494.5 420.71 L493.5 421.39 L492.5 422.07 L491.5 422.74 L490.5 423.41 L489.5 424.07 L488.5 424.73 L487.5 425.39 L486.5 426.04 L485.5 426.69 L484.5 427.33 L483.5 427.97 L482.5 428.61 L481.5 429.24 L480.5 429.87 L479.5 430.5 L478.5 431.12 L477.5 431.74 L476.5 432.35 L475.5 432.96 L474.5 433.56 L473.5 434.16 L472.5 434.76 L471.5 435.35 L470.5 435.94 L469.5 436.52 L468.5 437.1 L467.5 437.67 L466.5 438.24 L465.5 438.81 L464.5 439.37 L463.5 439.92 L462.5 440.48 L461.5 441.02 L460.5 441.57 L459.5 442.1 L458.5 442.64 L457.5 443.17 L456.5 443.69 L455.5 444.21 L454.5 444.72 L453.5 445.23 L452.5 445.74 L451.5 446.24 L450.5 446.73 L449.5 447.23 L448.5 447.71 L447.5 448.2 L446.5 448.67 L445.5 449.14 L444.5 449.61 L443.5 450.08 L442.5 450.53 L441.5 450.99 L440.5 451.44 L439.5 451.88 L438.5 452.32 L437.5 452.76 L436.5 453.19 L435.5 453.62 L434.5 454.04 L433.5 454.46 L432.5 454.88 L431.5 455.29 L430.5 455.7 L429.5 456.1 L428.5 456.5 L427.5 456.9 L426.5 457.29 L425.5 457.68 L424.5 458.07 L423.5 458.45 L422.5 458.83 L421.5 459.21 L420.5 459.58 L419.5 459.95 L418.5 460.32 L417.5 460.68 L416.5 461.04 L415.5 461.4 L414.5 461.75 L413.5 462.1 L412.5 462.45 L411.5 462.8 L410.5 463.14 L409.5 463.48 L408.5 463.82 L407.5 464.15 L406.5 464.49 L405.5 464.82 L404.5 465.15 L403.5 465.47 L402.5 465.8 L401.5 466.12 L400.5 466.44 L399.5 466.76 L398.5 467.07 L397.5 467.39 L396.5 467.7 L395.5 468.01 L394.5 468.32 L393.5 468.63 L392.5 468.94 L391.5 469.25 L390.5 469.55 L389.5 469.86 L388.5 470.16 L387.5 470.46 L386.5 470.76 L385.5 471.06 L384.5 471.36 L383.5 471.66 L382.5 471.96 L381.5 472.26 L380.5 472.56 L379.5 472.86 L378.5 473.15 L377.5 473.45 L376.5 473.75 L375.5 474.04 L374.5 474.34 L373.5 474.64 L372.5 474.94 L371.5 475.23 L370.5 475.53 L369.5 475.83 L368.5 476.13 L367.5 476.43 L366.5 476.73 L365.5 477.03 L364.5 477.33 L363.5 477.63 L362.5 477.93 L361.5 478.24 L360.5 478.54 L359.5 478.85 L358.5 479.15 L357.5 479.46 L356.5 479.77 L355.5 480.08 L354.5 480.39 L353.5 480.7 L352.5 481.01 L351.5 481.32 L350.5 481.64 L349.5 481.95 L348.5 482.27 L347.5 482.59 L346.5 482.91 L345.5 483.23 L344.5 483.55 L343.5 483.88 L342.5 484.2 L341.5 484.53 L340.5 484.86 L339.5 485.19 L338.5 485.52 L337.5 485.85 L336.5 486.19 L335.5 486.53 L334.5 486.86 L333.5 487.2 L332.5 487.55 L331.5 487.89 L330.5 488.23 L329.5 488.58 L328.5 488.93 L327.5 489.28 L326.5 489.63 L325.5 489.99 L324.5 490.34 L323.5 490.7 L322.5 491.06 L321.5 491.42 L320.5 491.78 L319.5 492.15 L318.5 492.52 L317.5 492.88 L316.5 493.25 L315.5 493.63 L314.5 494 L313.5 494.38 L312.5 494.76 L311.5 495.14 L310.5 495.52 L309.5 495.91 L308.5 496.29 L307.5 496.68 L306.5 497.07 L305.5 497.47 L304.5 497.86 L303.5 498.26 L302.5 498.66 L301.5 499.06 L300.5 499.46 L299.5 499.87 L298.5 500.28 L297.5 500.69 L296.5 501.1 L295.5 501.51 L294.5 501.93 L293.5 502.34 L292.5 502.76 L291.5 503.18 L290.5 503.6 L289.5 504.03 L288.5 504.45 L287.5 504.88 L286.5 505.31 L285.5 505.75 L284.5 506.18 L283.5 506.62 L282.5 507.06 L281.5 507.5 L280.5 507.95 L279.5 508.4 L278.5 508.85 L277.5 509.3 L276.5 509.75 L275.5 510.21 L274.5 510.67 L273.5 511.13 L272.5 511.6 L271.5 512.06 L270.5 512.53 L269.5 513 L268.5 513.47 L267.5 513.95 L266.5 514.42 L265.5 514.9 L264.5 515.38 L263.5 515.86 L262.5 516.35 L261.5 516.83 L260.5 517.32 L259.5 517.8 L258.5 518.29 L257.5 518.78 L256.5 519.27 L255.5 519.75 L254.5 520.24 L253.5 520.73 L252.5 521.22 L251.5 521.7 L250.5 522.19 L249.5 522.68 L248.5 523.17 L247.5 523.65 L246.5 524.14 L245.5 524.63 L244.5 525.12 L243.5 525.6 L242.5 526.09 L241.5 526.58 L240.5 527.06 L239.5 527.55 L238.5 528.03 L237.5 528.52 L236.5 529 L235.5 529.49 L234.5 529.97 L233.5 530.45 L232.5 530.94 L231.5 531.42 L230.5 531.9 L229.5 532.38 L228.5 532.86 L227.5 533.34 L226.5 533.81 L225.5 534.29 L224.5 534.76 L223.5 535.23 L222.5 535.7 L221.5 536.17 L220.5 536.63 L219.5 537.09 L218.5 537.56 L217.5 538.01 L216.5 538.47 L215.5 538.93 L214.5 539.38 L213.5 539.83 L212.5 540.28 L211.5 540.72 L210.5 541.17 L209.5 541.61 L208.5 542.05 L207.5 542.48 L206.5 542.92 L205.5 543.35 L204.5 543.78 L203.5 544.2 L202.5 544.63 L201.5 545.05 L200.5 545.47 L199.5 545.88 L198.5 546.29 L197.5 546.7 L196.5 547.1 L195.5 547.49 L194.5 547.88 L193.5 548.27 L192.5 548.65 L191.5 549.03 L190.5 549.4 L189.5 549.77 L188.5 550.14 L187.5 550.51 L186.5 550.88 L185.5 551.25 L184.5 551.61 L183.5 551.98 L182.5 552.35 L181.5 552.71 L180.5 553.08 L179.5 553.44 L178.5 553.81 L177.5 554.17 L176.5 554.53 L175.5 554.89 L174.5 555.26 L173.5 555.64 L172.5 556.02 L171.5 556.41 L170.5 556.82 L169.5 557.23 L168.5 557.66 L167.5 558.09 L166.5 558.53 L165.5 558.97 L164.5 559.4 L163.5 559.82 L162.5 560.22 L161.5 560.61 L160.5 560.99 L159.5 561.34 L158.5 561.68 L157.5 562 L156.5 562.29 L155.5 562.56 L154.5 562.82 L153.5 563.06 L152.5 563.3 L151.5 563.53 L150.5 563.75 L149.5 563.98 L148.5 564.2 L147.5 564.42 L146.5 564.65 L145.5 564.88 L144.5 565.12 L143.5 565.37 L142.5 565.61 L141.5 565.86 L140.5 566.11 L139.5 566.34 L138.5 566.57 L137.5 566.78 L136.5 566.98 L135.5 567.17 L134.5 567.34 L133.5 567.49 L132.5 567.62 L131.5 567.73 L130.5 567.83 L129.5 567.92 L128.5 567.99 L127.5 568.04 L126.5 568.09 L125.5 568.13 L124.5 568.16 L123.5 568.18 L122.5 568.2 L121.5 568.21 L120.5 568.22 L119.5 568.23 L118.5 568.23 L117.5 568.24 L116.5 568.25 L115.5 568.25 L114.5 568.26 L113.5 568.27 L112.5 568.27 L111.5 568.28 L110.5 568.29 L109.5 568.29 L108.5 568.3 L107.5 568.31 L106.5 568.32 L105.5 568.32 L104.5 568.33 L103.5 568.34 L102.5 568.35 L101.5 568.36 L100.5 568.36 L99.5 568.37 L98.5 568.38 L97.5 568.39 L96.5 568.4 L95.5 568.4 L94.5 568.4 L93.5 568.4 L92.5 568.4 L91.5 568.4 L90.5 568.4 L89.5 568.4 L88.5 568.4 L87.5 568.4 L86.5 568.4 L85.5 568.4 L84.5 568.4 L83.5 568.4 L82.5 568.4 L81.5 568.4 L80.5 568.4 L79.5 568.4 L78.5 568.4 L77.5 568.4 Z" fill="#1f77b4" fill-opacity="0.1" stroke="#1f77b4" stroke-opacity="0.1" stroke-width="1.39"/><path d="M77.5 568.28 L78.5 568.27 L79.5 568.26 L80.5 568.25 L81.5 568.24 L82.5 568.23 L83.5 568.22 L84.5 568.21 L85.5 568.2 L86.5 568.19 L87.5 568.17 L88.5 568.16 L89.5 568.15 L90.5 568.14 L91.5 568.13 L92.5 568.12 L93.5 568.11 L94.5 568.1 L95.5 568.09 L96.5 568.08 L97.5 568.07 L98.5 568.06 L99.5 568.05 L100.5 568.04 L101.5 568.03 L102.5 568.02 L103.5 568.01 L104.5 568 L105.5 567.99 L106.5 567.98 L107.5 567.97 L108.5 567.96 L109.5 567.95 L110.5 567.94 L111.5 567.93 L112.5 567.92 L113.5 567.92 L114.5 567.91 L115.5 567.9 L116.5 567.89 L117.5 567.88 L118.5 567.87 L119.5 567.86 L120.5 567.85 L121.5 567.84 L122.5 567.82 L123.5 567.8 L124.5 567.77 L125.5 567.74 L126.5 567.7 L127.5 567.65 L128.5 567.58 L129.5 567.51 L130.5 567.42 L131.5 567.32 L132.5 567.2 L133.5 567.07 L134.5 566.91 L135.5 566.74 L136.5 566.55 L137.5 566.34 L138.5 566.12 L139.5 565.89 L140.5 565.65 L141.5 565.41 L142.5 565.15 L143.5 564.9 L144.5 564.65 L145.5 564.4 L146.5 564.16 L147.5 563.93 L148.5 563.7 L149.5 563.47 L150.5 563.24 L151.5 563.01 L152.5 562.77 L153.5 562.52 L154.5 562.26 L155.5 561.99 L156.5 561.7 L157.5 561.38 L158.5 561.04 L159.5 560.68 L160.5 560.3 L161.5 559.89 L162.5 559.47 L163.5 559.03 L164.5 558.58 L165.5 558.11 L166.5 557.64 L167.5 557.16 L168.5 556.69 L169.5 556.22 L170.5 555.76 L171.5 555.31 L172.5 554.88 L173.5 554.45 L174.5 554.02 L175.5 553.6 L176.5 553.19 L177.5 552.78 L178.5 552.37 L179.5 551.95 L180.5 551.54 L181.5 551.11 L182.5 550.67 L183.5 550.23 L184.5 549.78 L185.5 549.32 L186.5 548.85 L187.5 548.38 L188.5 547.91 L189.5 547.43 L190.5 546.94 L191.5 546.45 L192.5 545.96 L193.5 545.46 L194.5 544.96 L195.5 544.45 L196.5 543.94 L197.5 543.43 L198.5 542.91 L199.5 542.4 L200.5 541.88 L201.5 541.36 L202.5 540.84 L203.5 540.31 L204.5 539.78 L205.5 539.25 L206.5 538.72 L207.5 538.18 L208.5 537.64 L209.5 537.1 L210.5 536.55 L211.5 536 L212.5 535.45 L213.5 534.9 L214.5 534.35 L215.5 533.79 L216.5 533.23 L217.5 532.67 L218.5 532.11 L219.5 531.55 L220.5 530.99 L221.5 530.42 L222.5 529.85 L223.5 529.29 L224.5 528.72 L225.5 528.15 L226.5 527.58 L227.5 527.01 L228.5 526.43 L229.5 525.86 L230.5 525.29 L231.5 524.71 L232.5 524.14 L233.5 523.57 L234.5 522.99 L235.5 522.41 L236.5 521.84 L237.5 521.26 L238.5 520.68 L239.5 520.11 L240.5 519.53 L241.5 518.95 L242.5 518.38 L243.5 517.8 L244.5 517.23 L245.5 516.65 L246.5 516.08 L247.5 515.51 L248.5 514.94 L249.5 514.37 L250.5 513.8 L251.5 513.23 L252.5 512.66 L253.5 512.1 L254.5 511.53 L255.5 510.97 L256.5 510.41 L257.5 509.85 L258.5 509.3 L259.5 508.74 L260.5 508.19 L261.5 507.64 L262.5 507.1 L263.5 506.55 L264.5 506.01 L265.5 505.47 L266.5 504.93 L267.5 504.39 L268.5 503.85 L269.5 503.32 L270.5 502.79 L271.5 502.26 L272.5 501.74 L273.5 501.22 L274.5 500.7 L275.5 500.18 L276.5 499.67 L277.5 499.16 L278.5 498.65 L279.5 498.15 L280.5 497.65 L281.5 497.15 L282.5 496.66 L283.5 496.17 L284.5 495.68 L285.5 495.2 L286.5 494.72 L287.5 494.24 L288.5 493.77 L289.5 493.3 L290.5 492.83 L291.5 492.37 L292.5 491.91 L293.5 491.45 L294.5 491 L295.5 490.55 L296.5 490.1 L297.5 489.65 L298.5 489.21 L299.5 488.77 L300.5 488.34 L301.5 487.91 L302.5 487.48 L303.5 487.05 L304.5 486.63 L305.5 486.2 L306.5 485.79 L307.5 485.37 L308.5 484.96 L309.5 484.55 L310.5 484.14 L311.5 483.73 L312.5 483.33 L313.5 482.93 L314.5 482.53 L315.5 482.14 L316.5 481.74 L317.5 481.35 L318.5 480.96 L319.5 480.58 L320.5 480.19 L321.5 479.81 L322.5 479.43 L323.5 479.05 L324.5 478.68 L325.5 478.31 L326.5 477.93 L327.5 477.56 L328.5 477.2 L329.5 476.83 L330.5 476.47 L331.5 476.1 L332.5 475.74 L333.5 475.38 L334.5 475.03 L335.5 474.67 L336.5 474.32 L337.5 473.97 L338.5 473.61 L339.5 473.26 L340.5 472.92 L341.5 472.57 L342.5 472.22 L343.5 471.88 L344.5 471.54 L345.5 471.2 L346.5 470.86 L347.5 470.52 L348.5 470.18 L349.5 469.84 L350.5 469.51 L351.5 469.17 L352.5 468.84 L353.5 468.51 L354.5 468.18 L355.5 467.85 L356.5 467.52 L357.5 467.19 L358.5 466.86 L359.5 466.54 L360.5 466.21 L361.5 465.89 L362.5 465.56 L363.5 465.24 L364.5 464.92 L365.5 464.6 L366.5 464.27 L367.5 463.95 L368.5 463.63 L369.5 463.32 L370.5 463 L371.5 462.68 L372.5 462.36 L373.5 462.04 L374.5 461.73 L375.5 461.41 L376.5 461.09 L377.5 460.77 L378.5 460.46 L379.5 460.14 L380.5 459.82 L381.5 459.5 L382.5 459.19 L383.5 458.87 L384.5 458.55 L385.5 458.23 L386.5 457.91 L387.5 457.58 L388.5 457.26 L389.5 456.94 L390.5 456.61 L391.5 456.29 L392.5 455.96 L393.5 455.63 L394.5 455.31 L395.5 454.97 L396.5 454.64 L397.5 454.31 L398.5 453.98 L399.5 453.64 L400.5 453.3 L401.5 452.96 L402.5 452.62 L403.5 452.28 L404.5 451.93 L405.5 451.58 L406.5 451.23 L407.5 450.88 L408.5 450.53 L409.5 450.17 L410.5 449.81 L411.5 449.45 L412.5 449.09 L413.5 448.72 L414.5 448.35 L415.5 447.98 L416.5 447.61 L417.5 447.23 L418.5 446.85 L419.5 446.47 L420.5 446.08 L421.5 445.69 L422.5 445.29 L423.5 444.9 L424.5 444.5 L425.5 444.09 L426.5 443.69 L427.5 443.27 L428.5 442.86 L429.5 442.44 L430.5 442.02 L431.5 441.59 L432.5 441.16 L433.5 440.72 L434.5 440.28 L435.5 439.84 L436.5 439.39 L437.5 438.93 L438.5 438.47 L439.5 438.01 L440.5 437.54 L441.5 437.07 L442.5 436.59 L443.5 436.11 L444.5 435.62 L445.5 435.13 L446.5 434.63 L447.5 434.13 L448.5 433.62 L449.5 433.1 L450.5 432.58 L451.5 432.05 L452.5 431.52 L453.5 430.98 L454.5 430.44 L455.5 429.88 L456.5 429.33 L457.5 428.76 L458.5 428.19 L459.5 427.62 L460.5 427.04 L461.5 426.45 L462.5 425.86 L463.5 425.26 L464.5 424.65 L465.5 424.04 L466.5 423.43 L467.5 422.81 L468.5 422.18 L469.5 421.55 L470.5 420.91 L471.5 420.27 L472.5 419.63 L473.5 418.98 L474.5 418.32 L475.5 417.66 L476.5 417 L477.5 416.33 L478.5 415.65 L479.5 414.97 L480.5 414.29 L481.5 413.61 L482.5 412.92 L483.5 412.22 L484.5 411.52 L485.5 410.82 L486.5 410.11 L487.5 409.4 L488.5 408.69 L489.5 407.97 L490.5 407.25 L491.5 406.53 L492.5 405.8 L493.5 405.07 L494.5 404.34 L495.5 403.6 L496.5 402.86 L497.5 402.12 L498.5 401.37 L499.5 400.63 L500.5 399.88 L501.5 399.12 L502.5 398.37 L503.5 397.61 L504.5 396.85 L505.5 396.09 L506.5 395.32 L507.5 394.55 L508.5 393.78 L509.5 393.01 L510.5 392.23 L511.5 391.46 L512.5 390.68 L513.5 389.9 L514.5 389.11 L515.5 388.33 L516.5 387.54 L517.5 386.75 L518.5 385.96 L519.5 385.17 L520.5 384.38 L521.5 383.58 L522.5 382.79 L523.5 382 L524.5 381.21 L525.5 380.42 L526.5 379.63 L527.5 378.84 L528.5 378.05 L529.5 377.26 L530.5 376.47 L531.5 375.68 L532.5 374.89 L533.5 374.1 L534.5 373.32 L535.5 372.53 L536.5 371.74 L537.5 370.95 L538.5 370.16 L539.5 369.37 L540.5 368.58 L541.5 367.78 L542.5 366.99 L543.5 366.2 L544.5 365.4 L545.5 364.61 L546.5 363.81 L547.5 363.02 L548.5 362.22 L549.5 361.42 L550.5 360.62 L551.5 359.82 L552.5 359.01 L553.5 358.2 L554.5 357.39 L555.5 356.57 L556.5 355.76 L557.5 354.94 L558.5 354.11 L559.5 353.29 L560.5 352.46 L561.5 351.63 L562.5 350.81 L563.5 349.98 L564.5 349.16 L565.5 348.33 L566.5 347.51 L567.5 346.69 L568.5 345.86 L569.5 345.04 L570.5 344.22 L571.5 343.41 L572.5 342.59 L573.5 341.78 L574.5 340.96 L575.5 340.15 L576.5 339.34 L577.5 338.54 L578.5 337.73 L579.5 336.93 L580.5 336.13 L581.5 335.33 L582.5 334.53 L583.5 333.74 L584.5 332.95 L585.5 332.16 L586.5 331.38 L587.5 330.6 L588.5 329.82 L589.5 329.04 L590.5 328.27 L591.5 327.5 L592.5 326.73 L593.5 325.96 L594.5 325.19 L595.5 324.42 L596.5 323.65 L597.5 322.88 L598.5 322.11 L599.5 321.34 L600.5 320.57 L601.5 319.8 L602.5 319.03 L603.5 318.26 L604.5 317.49 L605.5 316.71 L606.5 315.94 L607.5 315.17 L608.5 314.4 L609.5 313.63 L610.5 312.86 L611.5 312.1 L612.5 311.33 L613.5 310.56 L614.5 309.8 L615.5 309.03 L616.5 308.27 L617.5 307.51 L618.5 306.75 L619.5 305.99 L620.5 305.24 L621.5 304.49 L622.5 303.73 L623.5 302.98 L624.5 302.23 L625.5 301.49 L626.5 300.74 L627.5 300 L628.5 299.26 L629.5 298.51 L630.5 297.77 L631.5 297.03 L632.5 296.29 L633.5 295.54 L634.5 294.79 L635.5 294.04 L636.5 293.29 L637.5 292.54 L638.5 291.78 L639.5 291.03 L640.5 290.27 L641.5 289.5 L642.5 288.73 L643.5 287.96 L644.5 287.18 L645.5 286.4 L646.5 285.61 L647.5 284.82 L648.5 284.02 L649.5 283.21 L650.5 282.41 L651.5 281.59 L652.5 280.78 L653.5 279.95 L654.5 279.13 L655.5 278.29 L656.5 277.46 L657.5 276.62 L658.5 275.77 L659.5 274.92 L660.5 274.06 L661.5 273.2 L662.5 272.33 L663.5 271.45 L664.5 270.56 L665.5 269.66 L666.5 268.75 L667.5 267.82 L668.5 266.88 L669.5 265.92 L670.5 264.94 L671.5 263.94 L672.5 262.92 L673.5 261.87 L674.5 260.79 L675.5 259.68 L676.5 258.54 L677.5 257.37 L678.5 256.16 L679.5 254.92 L680.5 253.64 L681.5 252.32 L682.5 250.96 L683.5 249.55 L684.5 248.1 L685.5 246.61 L686.5 245.11 L687.5 243.72 L688.5 242.44 L689.5 241.26 L690.5 240.2 L691.18 239.31 L691.18 259.66 L690.5 260.48 L689.5 261.44 L688.5 262.52 L687.5 263.71 L686.5 265 L685.5 266.4 L684.5 267.8 L683.5 269.16 L682.5 270.47 L681.5 271.74 L680.5 272.97 L679.5 274.16 L678.5 275.32 L677.5 276.44 L676.5 277.52 L675.5 278.58 L674.5 279.6 L673.5 280.6 L672.5 281.57 L671.5 282.51 L670.5 283.44 L669.5 284.34 L668.5 285.22 L667.5 286.09 L666.5 286.94 L665.5 287.78 L664.5 288.62 L663.5 289.44 L662.5 290.25 L661.5 291.06 L660.5 291.86 L659.5 292.65 L658.5 293.44 L657.5 294.22 L656.5 294.99 L655.5 295.76 L654.5 296.53 L653.5 297.29 L652.5 298.04 L651.5 298.79 L650.5 299.54 L649.5 300.28 L648.5 301.02 L647.5 301.76 L646.5 302.49 L645.5 303.22 L644.5 303.94 L643.5 304.66 L642.5 305.38 L641.5 306.1 L640.5 306.82 L639.5 307.53 L638.5 308.24 L637.5 308.96 L636.5 309.68 L635.5 310.4 L634.5 311.13 L633.5 311.85 L632.5 312.58 L631.5 313.32 L630.5 314.05 L629.5 314.79 L628.5 315.54 L627.5 316.28 L626.5 317.02 L625.5 317.77 L624.5 318.51 L623.5 319.26 L622.5 320.01 L621.5 320.77 L620.5 321.52 L619.5 322.27 L618.5 323.03 L617.5 323.79 L616.5 324.55 L615.5 325.31 L614.5 326.08 L613.5 326.84 L612.5 327.61 L611.5 328.38 L610.5 329.14 L609.5 329.91 L608.5 330.68 L607.5 331.45 L606.5 332.22 L605.5 332.99 L604.5 333.77 L603.5 334.54 L602.5 335.31 L601.5 336.08 L600.5 336.85 L599.5 337.62 L598.5 338.39 L597.5 339.16 L596.5 339.93 L595.5 340.7 L594.5 341.47 L593.5 342.24 L592.5 343.01 L591.5 343.78 L590.5 344.55 L589.5 345.32 L588.5 346.09 L587.5 346.86 L586.5 347.62 L585.5 348.39 L584.5 349.15 L583.5 349.9 L582.5 350.66 L581.5 351.41 L580.5 352.17 L579.5 352.92 L578.5 353.67 L577.5 354.42 L576.5 355.17 L575.5 355.92 L574.5 356.67 L573.5 357.41 L572.5 358.16 L571.5 358.91 L570.5 359.65 L569.5 360.4 L568.5 361.15 L567.5 361.9 L566.5 362.64 L565.5 363.39 L564.5 364.14 L563.5 364.89 L562.5 365.65 L561.5 366.4 L560.5 367.15 L559.5 367.91 L558.5 368.67 L557.5 369.42 L556.5 370.18 L555.5 370.93 L554.5 371.68 L553.5 372.44 L552.5 373.19 L551.5 373.95 L550.5 374.7 L549.5 375.46 L548.5 376.21 L547.5 376.97 L546.5 377.72 L545.5 378.47 L544.5 379.23 L543.5 379.98 L542.5 380.73 L541.5 381.48 L540.5 382.24 L539.5 382.99 L538.5 383.74 L537.5 384.49 L536.5 385.24 L535.5 385.99 L534.5 386.74 L533.5 387.5 L532.5 388.25 L531.5 389 L530.5 389.75 L529.5 390.51 L528.5 391.26 L527.5 392.01 L526.5 392.77 L525.5 393.52 L524.5 394.28 L523.5 395.03 L522.5 395.79 L521.5 396.55 L520.5 397.31 L519.5 398.07 L518.5 398.82 L517.5 399.58 L516.5 400.33 L515.5 401.09 L514.5 401.84 L513.5 402.59 L512.5 403.33 L511.5 404.08 L510.5 404.82 L509.5 405.56 L508.5 406.3 L507.5 407.03 L506.5 407.77 L505.5 408.5 L504.5 409.22 L503.5 409.95 L502.5 410.67 L501.5 411.39 L500.5 412.11 L499.5 412.82 L498.5 413.53 L497.5 414.24 L496.5 414.94 L495.5 415.64 L494.5 416.34 L493.5 417.03 L492.5 417.72 L491.5 418.4 L490.5 419.09 L489.5 419.77 L488.5 420.44 L487.5 421.11 L486.5 421.78 L485.5 422.45 L484.5 423.11 L483.5 423.76 L482.5 424.41 L481.5 425.06 L480.5 425.71 L479.5 426.35 L478.5 426.98 L477.5 427.62 L476.5 428.24 L475.5 428.87 L474.5 429.49 L473.5 430.1 L472.5 430.71 L471.5 431.32 L470.5 431.92 L469.5 432.52 L468.5 433.11 L467.5 433.7 L466.5 434.28 L465.5 434.86 L464.5 435.43 L463.5 436 L462.5 436.57 L461.5 437.13 L460.5 437.68 L459.5 438.23 L458.5 438.78 L457.5 439.32 L456.5 439.85 L455.5 440.38 L454.5 440.9 L453.5 441.42 L452.5 441.94 L451.5 442.45 L450.5 442.95 L449.5 443.45 L448.5 443.94 L447.5 444.43 L446.5 444.92 L445.5 445.4 L444.5 445.87 L443.5 446.34 L442.5 446.81 L441.5 447.27 L440.5 447.72 L439.5 448.17 L438.5 448.62 L437.5 449.06 L436.5 449.5 L435.5 449.93 L434.5 450.36 L433.5 450.79 L432.5 451.21 L431.5 451.63 L430.5 452.04 L429.5 452.45 L428.5 452.86 L427.5 453.26 L426.5 453.66 L425.5 454.05 L424.5 454.44 L423.5 454.83 L422.5 455.21 L421.5 455.59 L420.5 455.97 L419.5 456.34 L418.5 456.72 L417.5 457.08 L416.5 457.45 L415.5 457.81 L414.5 458.17 L413.5 458.53 L412.5 458.88 L411.5 459.23 L410.5 459.58 L409.5 459.92 L408.5 460.27 L407.5 460.61 L406.5 460.94 L405.5 461.28 L404.5 461.61 L403.5 461.95 L402.5 462.28 L401.5 462.6 L400.5 462.93 L399.5 463.25 L398.5 463.57 L397.5 463.89 L396.5 464.21 L395.5 464.53 L394.5 464.84 L393.5 465.16 L392.5 465.47 L391.5 465.78 L390.5 466.09 L389.5 466.4 L388.5 466.71 L387.5 467.02 L386.5 467.33 L385.5 467.63 L384.5 467.94 L383.5 468.24 L382.5 468.55 L381.5 468.85 L380.5 469.15 L379.5 469.46 L378.5 469.76 L377.5 470.06 L376.5 470.36 L375.5 470.67 L374.5 470.97 L373.5 471.27 L372.5 471.57 L371.5 471.88 L370.5 472.18 L369.5 472.48 L368.5 472.79 L367.5 473.09 L366.5 473.4 L365.5 473.7 L364.5 474.01 L363.5 474.32 L362.5 474.63 L361.5 474.94 L360.5 475.25 L359.5 475.56 L358.5 475.87 L357.5 476.18 L356.5 476.49 L355.5 476.81 L354.5 477.12 L353.5 477.44 L352.5 477.76 L351.5 478.08 L350.5 478.4 L349.5 478.72 L348.5 479.04 L347.5 479.36 L346.5 479.69 L345.5 480.01 L344.5 480.34 L343.5 480.67 L342.5 481 L341.5 481.33 L340.5 481.67 L339.5 482 L338.5 482.34 L337.5 482.68 L336.5 483.02 L335.5 483.36 L334.5 483.7 L333.5 484.04 L332.5 484.39 L331.5 484.74 L330.5 485.09 L329.5 485.44 L328.5 485.79 L327.5 486.15 L326.5 486.51 L325.5 486.86 L324.5 487.22 L323.5 487.59 L322.5 487.95 L321.5 488.32 L320.5 488.69 L319.5 489.06 L318.5 489.43 L317.5 489.8 L316.5 490.18 L315.5 490.56 L314.5 490.94 L313.5 491.32 L312.5 491.7 L311.5 492.09 L310.5 492.48 L309.5 492.87 L308.5 493.26 L307.5 493.66 L306.5 494.06 L305.5 494.46 L304.5 494.86 L303.5 495.26 L302.5 495.67 L301.5 496.08 L300.5 496.49 L299.5 496.9 L298.5 497.32 L297.5 497.74 L296.5 498.16 L295.5 498.58 L294.5 499 L293.5 499.43 L292.5 499.86 L291.5 500.29 L290.5 500.72 L289.5 501.16 L288.5 501.6 L287.5 502.04 L286.5 502.48 L285.5 502.93 L284.5 503.38 L283.5 503.83 L282.5 504.28 L281.5 504.74 L280.5 505.2 L279.5 505.66 L278.5 506.12 L277.5 506.59 L276.5 507.06 L275.5 507.53 L274.5 508.01 L273.5 508.48 L272.5 508.96 L271.5 509.44 L270.5 509.93 L269.5 510.41 L268.5 510.9 L267.5 511.39 L266.5 511.88 L265.5 512.38 L264.5 512.88 L263.5 513.37 L262.5 513.87 L261.5 514.37 L260.5 514.88 L259.5 515.38 L258.5 515.89 L257.5 516.39 L256.5 516.9 L255.5 517.41 L254.5 517.91 L253.5 518.42 L252.5 518.93 L251.5 519.44 L250.5 519.95 L249.5 520.46 L248.5 520.97 L247.5 521.48 L246.5 521.99 L245.5 522.5 L244.5 523.01 L243.5 523.52 L242.5 524.03 L241.5 524.54 L240.5 525.05 L239.5 525.56 L238.5 526.07 L237.5 526.58 L236.5 527.09 L235.5 527.6 L234.5 528.1 L233.5 528.61 L232.5 529.12 L231.5 529.63 L230.5 530.13 L229.5 530.64 L228.5 531.14 L227.5 531.64 L226.5 532.15 L225.5 532.65 L224.5 533.14 L223.5 533.64 L222.5 534.14 L221.5 534.63 L220.5 535.12 L219.5 535.61 L218.5 536.1 L217.5 536.59 L216.5 537.07 L215.5 537.55 L214.5 538.03 L213.5 538.51 L212.5 538.99 L211.5 539.46 L210.5 539.93 L209.5 540.4 L208.5 540.87 L207.5 541.33 L206.5 541.79 L205.5 542.25 L204.5 542.71 L203.5 543.16 L202.5 543.61 L201.5 544.06 L200.5 544.51 L199.5 544.95 L198.5 545.39 L197.5 545.82 L196.5 546.25 L195.5 546.68 L194.5 547.1 L193.5 547.52 L192.5 547.93 L191.5 548.34 L190.5 548.75 L189.5 549.15 L188.5 549.55 L187.5 549.94 L186.5 550.34 L185.5 550.73 L184.5 551.12 L183.5 551.51 L182.5 551.9 L181.5 552.28 L180.5 552.67 L179.5 553.04 L178.5 553.42 L177.5 553.8 L176.5 554.17 L175.5 554.55 L174.5 554.93 L173.5 555.32 L172.5 555.72 L171.5 556.12 L170.5 556.54 L169.5 556.96 L168.5 557.4 L167.5 557.84 L166.5 558.29 L165.5 558.74 L164.5 559.18 L163.5 559.61 L162.5 560.02 L161.5 560.42 L160.5 560.8 L159.5 561.17 L158.5 561.51 L157.5 561.83 L156.5 562.13 L155.5 562.41 L154.5 562.67 L153.5 562.92 L152.5 563.16 L151.5 563.39 L150.5 563.62 L149.5 563.84 L148.5 564.07 L147.5 564.29 L146.5 564.52 L145.5 564.75 L144.5 564.99 L143.5 565.24 L142.5 565.49 L141.5 565.74 L140.5 565.99 L139.5 566.22 L138.5 566.45 L137.5 566.66 L136.5 566.86 L135.5 567.05 L134.5 567.22 L133.5 567.37 L132.5 567.51 L131.5 567.62 L130.5 567.72 L129.5 567.81 L128.5 567.88 L127.5 567.94 L126.5 567.99 L125.5 568.02 L124.5 568.06 L123.5 568.08 L122.5 568.1 L121.5 568.11 L120.5 568.12 L119.5 568.13 L118.5 568.14 L117.5 568.14 L116.5 568.15 L115.5 568.16 L114.5 568.16 L113.5 568.17 L112.5 568.18 L111.5 568.19 L110.5 568.2 L109.5 568.2 L108.5 568.21 L107.5 568.22 L106.5 568.23 L105.5 568.24 L104.5 568.24 L103.5 568.25 L102.5 568.26 L101.5 568.27 L100.5 568.28 L99.5 568.29 L98.5 568.3 L97.5 568.3 L96.5 568.31 L95.5 568.32 L94.5 568.33 L93.5 568.34 L92.5 568.35 L91.5 568.36 L90.5 568.37 L89.5 568.38 L88.5 568.39 L87.5 568.4 L86.5 568.4 L85.5 568.4 L84.5 568.4 L83.5 568.4 L82.5 568.4 L81.5 568.4 L80.5 568.4 L79.5 568.4 L78.5 568.4 L77.5 568.4 Z" fill="#1f77b4" fill-opacity="0.1" stroke="#1f77b4" stroke-opacity="0.1" stroke-width="1.39"/><path d="M691.18 257 L692.55 256.35 L693.93 255.22 L695.31 253.8 L696.69 252.15 L698.07 250.29 L699.45 248.26 L700.82 246.08 L702.2 243.74 L703.58 241.27 L704.96 238.68 L706.34 235.96 L707.72 233.13 L709.09 230.2 L710.47 227.16 L711.85 224.02 L713.23 220.78 L714.61 217.45 L715.99 214.04 L717.37 210.53 L718.74 206.94 L720.12 203.27 L721.5 199.52 L722.88 195.7 L724.26 191.8 L725.64 187.82 L727.01 183.77 L728.39 179.65 L729.77 175.46 L731.15 171.21 L732.53 166.89 L733.91 162.5 L735.28 158.05 L736.66 153.53 L738.04 148.95 L739.42 144.31 L740.8 139.62 L742.18 134.86 L743.55 130.04 L744.93 125.17 L746.31 120.24 L747.69 115.26 L749.07 110.22 L750.45 105.12 L751.82 99.97 L753.2 94.77 L754.58 89.52 L755.96 84.21 L757.34 78.86 L758.72 73.45 L760.09 67.99 L761.47 62.49 L762.85 56.93 L764.23 51.33 L765.61 45.68 L766.99 39.98 L768.36 34.24 L769.74 28.45 L771.12 22.61 L772.5 16.73 L772.5 223.59 L771.12 224.16 L769.74 224.72 L768.36 225.29 L766.99 225.85 L765.61 226.42 L764.23 226.99 L762.85 227.55 L761.47 228.12 L760.09 228.69 L758.72 229.25 L757.34 229.82 L755.96 230.38 L754.58 230.95 L753.2 231.52 L751.82 232.08 L750.45 232.65 L749.07 233.22 L747.69 233.78 L746.31 234.35 L744.93 234.91 L743.55 235.48 L742.18 236.05 L740.8 236.61 L739.42 237.18 L738.04 237.75 L736.66 238.31 L735.28 238.88 L733.91 239.45 L732.53 240.01 L731.15 240.58 L729.77 241.14 L728.39 241.71 L727.01 242.28 L725.64 242.84 L724.26 243.41 L722.88 243.98 L721.5 244.54 L720.12 245.11 L718.74 245.67 L717.37 246.24 L715.99 246.81 L714.61 247.37 L713.23 247.94 L711.85 248.51 L710.47 249.07 L709.09 249.64 L707.72 250.2 L706.34 250.77 L704.96 251.34 L703.58 251.9 L702.2 252.47 L700.82 253.04 L699.45 253.6 L698.07 254.17 L696.69 254.73 L695.31 255.3 L693.93 255.87 L692.55 256.43 L691.18 257 Z" fill="#1f77b4" fill-opacity="0.1" stroke="#1f77b4" stroke-opacity="0.1" stroke-width="1.39"/><path d="M691.18 257 L692.55 256.48 L693.93 255.58 L695.31 254.44 L696.69 253.11 L698.07 251.63 L699.45 250 L700.82 248.25 L702.2 246.38 L703.58 244.41 L704.96 242.33 L706.34 240.15 L707.72 237.89 L709.09 235.53 L710.47 233.1 L711.85 230.59 L713.23 227.99 L714.61 225.33 L715.99 222.59 L717.37 219.79 L718.74 216.91 L720.12 213.97 L721.5 210.97 L722.88 207.91 L724.26 204.78 L725.64 201.6 L727.01 198.36 L728.39 195.06 L729.77 191.7 L731.15 188.29 L732.53 184.83 L733.91 181.32 L735.28 177.75 L736.66 174.14 L738.04 170.47 L739.42 166.76 L740.8 162.99 L742.18 159.18 L743.55 155.33 L744.93 151.42 L746.31 147.48 L747.69 143.48 L749.07 139.45 L750.45 135.37 L751.82 131.25 L753.2 127.08 L754.58 122.87 L755.96 118.62 L757.34 114.33 L758.72 110.01 L760.09 105.64 L761.47 101.23 L762.85 96.78 L764.23 92.29 L765.61 87.77 L766.99 83.2 L768.36 78.6 L769.74 73.96 L771.12 69.29 L772.5 64.58 L772.5 210.43 L771.12 211.22 L769.74 212.01 L768.36 212.8 L766.99 213.58 L765.61 214.37 L764.23 215.16 L762.85 215.95 L761.47 216.74 L760.09 217.53 L758.72 218.32 L757.34 219.11 L755.96 219.9 L754.58 220.69 L753.2 221.48 L751.82 222.27 L750.45 223.06 L749.07 223.85 L747.69 224.64 L746.31 225.43 L744.93 226.21 L743.55 227 L742.18 227.79 L740.8 228.58 L739.42 229.37 L738.04 230.16 L736.66 230.95 L735.28 231.74 L733.91 232.53 L732.53 233.32 L731.15 234.11 L729.77 234.9 L728.39 235.69 L727.01 236.48 L725.64 237.27 L724.26 238.06 L722.88 238.84 L721.5 239.63 L720.12 240.42 L718.74 241.21 L717.37 242 L715.99 242.79 L714.61 243.58 L713.23 244.37 L711.85 245.16 L710.47 245.95 L709.09 246.74 L707.72 247.53 L706.34 248.32 L704.96 249.11 L703.58 249.9 L702.2 250.69 L700.82 251.47 L699.45 252.26 L698.07 253.05 L696.69 253.84 L695.31 254.63 L693.93 255.42 L692.55 256.21 L691.18 257 Z" fill="#1f77b4" fill-opacity="0.1" stroke="#1f77b4" stroke-opacity="0.1" stroke-width="1.39"/><path d="M691.18 257 L692.55 256.6 L693.93 255.89 L695.31 255.01 L696.69 253.98 L698.07 252.82 L699.45 251.56 L700.82 250.2 L702.2 248.74 L703.58 247.2 L704.96 245.59 L706.34 243.9 L707.72 242.13 L709.09 240.3 L710.47 238.41 L711.85 236.46 L713.23 234.44 L714.61 232.37 L715.99 230.24 L717.37 228.06 L718.74 225.82 L720.12 223.53 L721.5 221.2 L722.88 218.82 L724.26 216.39 L725.64 213.91 L727.01 211.39 L728.39 208.82 L729.77 206.21 L731.15 203.56 L732.53 200.87 L733.91 198.14 L735.28 195.36 L736.66 192.55 L738.04 189.7 L739.42 186.81 L740.8 183.88 L742.18 180.92 L743.55 177.92 L744.93 174.89 L746.31 171.82 L747.69 168.71 L749.07 165.57 L750.45 162.4 L751.82 159.19 L753.2 155.95 L754.58 152.68 L755.96 149.37 L757.34 146.04 L758.72 142.67 L760.09 139.27 L761.47 135.84 L762.85 132.38 L764.23 128.89 L765.61 125.37 L766.99 121.82 L768.36 118.25 L769.74 114.64 L771.12 111 L772.5 107.34 L772.5 193.22 L771.12 194.3 L769.74 195.38 L768.36 196.46 L766.99 197.54 L765.61 198.62 L764.23 199.7 L762.85 200.78 L761.47 201.86 L760.09 202.95 L758.72 204.03 L757.34 205.11 L755.96 206.19 L754.58 207.27 L753.2 208.35 L751.82 209.43 L750.45 210.51 L749.07 211.59 L747.69 212.68 L746.31 213.76 L744.93 214.84 L743.55 215.92 L742.18 217 L740.8 218.08 L739.42 219.16 L738.04 220.24 L736.66 221.32 L735.28 222.41 L733.91 223.49 L732.53 224.57 L731.15 225.65 L729.77 226.73 L728.39 227.81 L727.01 228.89 L725.64 229.97 L724.26 231.05 L722.88 232.13 L721.5 233.22 L720.12 234.3 L718.74 235.38 L717.37 236.46 L715.99 237.54 L714.61 238.62 L713.23 239.7 L711.85 240.78 L710.47 241.86 L709.09 242.95 L707.72 244.03 L706.34 245.11 L704.96 246.19 L703.58 247.27 L702.2 248.35 L700.82 249.43 L699.45 250.51 L698.07 251.59 L696.69 252.68 L695.31 253.76 L693.93 254.84 L692.55 255.92 L691.18 257 Z" fill="#1f77b4" fill-opacity="0.1" stroke="#1f77b4" stroke-opacity="0.1" stroke-width="1.39"/></g><path d="M77.5 568.5 H771.5" stroke="#b0b0b0" stroke-width="1.11"/><path d="M77.5 505.5 H771.5" stroke="#b0b0b0" stroke-width="1.11"/><path d="M77.5 442.5 H771.5" stroke="#b0b0b0" stroke-width="1.11"/><path d="M77.5 379.5 H771.5" stroke="#b0b0b0" stroke-width="1.11"/><path d="M77.5 315.5 H771.5" stroke="#b0b0b0" stroke-width="1.11"/><path d="M77.5 252.5 H771.5" stroke="#b0b0b0" stroke-width="1.11"/><path d="M77.5 189.5 H771.5" stroke="#b0b0b0" stroke-width="1.11"/><path d="M77.5 126.5 H771.5" stroke="#b0b0b0" stroke-width="1.11"/><path d="M77.5 62.5 H771.5" stroke="#b0b0b0" stroke-width="1.11"/><g clip-path="url(#c0)"><path d="M77.5 568.39 L78.5 568.38 L79.5 568.37 L80.5 568.36 L81.5 568.35 L82.5 568.34 L83.5 568.33 L84.5 568.32 L85.5 568.31 L86.5 568.3 L87.5 568.29 L88.5 568.28 L89.5 568.27 L90.5 568.26 L91.5 568.25 L92.5 568.24 L93.5 568.23 L94.5 568.22 L95.5 568.21 L96.5 568.2 L97.5 568.19 L98.5 568.18 L99.5 568.17 L100.5 568.16 L101.5 568.15 L102.5 568.14 L103.5 568.13 L104.5 568.12 L105.5 568.11 L106.5 568.1 L107.5 568.1 L108.5 568.09 L109.5 568.08 L110.5 568.07 L111.5 568.06 L112.5 568.05 L113.5 568.04 L114.5 568.04 L115.5 568.03 L116.5 568.02 L117.5 568.01 L118.5 568 L119.5 567.99 L120.5 567.99 L121.5 567.98 L122.5 567.96 L123.5 567.94 L124.5 567.91 L125.5 567.88 L126.5 567.84 L127.5 567.79 L128.5 567.73 L129.5 567.66 L130.5 567.57 L131.5 567.47 L132.5 567.36 L133.5 567.22 L134.5 567.07 L135.5 566.89 L136.5 566.71 L137.5 566.5 L138.5 566.29 L139.5 566.06 L140.5 565.82 L141.5 565.57 L142.5 565.32 L143.5 565.07 L144.5 564.82 L145.5 564.58 L146.5 564.34 L147.5 564.11 L148.5 563.88 L149.5 563.66 L150.5 563.43 L151.5 563.2 L152.5 562.96 L153.5 562.72 L154.5 562.47 L155.5 562.2 L156.5 561.91 L157.5 561.61 L158.5 561.28 L159.5 560.92 L160.5 560.55 L161.5 560.16 L162.5 559.75 L163.5 559.32 L164.5 558.88 L165.5 558.43 L166.5 557.97 L167.5 557.5 L168.5 557.04 L169.5 556.59 L170.5 556.15 L171.5 555.72 L172.5 555.3 L173.5 554.88 L174.5 554.48 L175.5 554.08 L176.5 553.68 L177.5 553.29 L178.5 552.89 L179.5 552.5 L180.5 552.1 L181.5 551.7 L182.5 551.29 L183.5 550.87 L184.5 550.45 L185.5 550.02 L186.5 549.6 L187.5 549.16 L188.5 548.73 L189.5 548.29 L190.5 547.84 L191.5 547.4 L192.5 546.95 L193.5 546.49 L194.5 546.03 L195.5 545.57 L196.5 545.1 L197.5 544.63 L198.5 544.15 L199.5 543.68 L200.5 543.2 L201.5 542.71 L202.5 542.23 L203.5 541.74 L204.5 541.25 L205.5 540.75 L206.5 540.26 L207.5 539.76 L208.5 539.25 L209.5 538.75 L210.5 538.24 L211.5 537.73 L212.5 537.22 L213.5 536.71 L214.5 536.19 L215.5 535.67 L216.5 535.15 L217.5 534.63 L218.5 534.11 L219.5 533.58 L220.5 533.05 L221.5 532.53 L222.5 532 L223.5 531.46 L224.5 530.93 L225.5 530.4 L226.5 529.86 L227.5 529.33 L228.5 528.79 L229.5 528.25 L230.5 527.71 L231.5 527.17 L232.5 526.63 L233.5 526.09 L234.5 525.55 L235.5 525 L236.5 524.46 L237.5 523.92 L238.5 523.38 L239.5 522.83 L240.5 522.29 L241.5 521.75 L242.5 521.2 L243.5 520.66 L244.5 520.12 L245.5 519.58 L246.5 519.03 L247.5 518.49 L248.5 517.95 L249.5 517.41 L250.5 516.87 L251.5 516.33 L252.5 515.8 L253.5 515.26 L254.5 514.72 L255.5 514.19 L256.5 513.65 L257.5 513.12 L258.5 512.59 L259.5 512.06 L260.5 511.54 L261.5 511.01 L262.5 510.48 L263.5 509.96 L264.5 509.44 L265.5 508.92 L266.5 508.41 L267.5 507.89 L268.5 507.38 L269.5 506.87 L270.5 506.36 L271.5 505.85 L272.5 505.35 L273.5 504.85 L274.5 504.35 L275.5 503.86 L276.5 503.36 L277.5 502.88 L278.5 502.39 L279.5 501.9 L280.5 501.42 L281.5 500.95 L282.5 500.47 L283.5 500 L284.5 499.53 L285.5 499.06 L286.5 498.6 L287.5 498.14 L288.5 497.68 L289.5 497.23 L290.5 496.78 L291.5 496.33 L292.5 495.88 L293.5 495.44 L294.5 495 L295.5 494.56 L296.5 494.13 L297.5 493.7 L298.5 493.27 L299.5 492.84 L300.5 492.41 L301.5 491.99 L302.5 491.57 L303.5 491.16 L304.5 490.74 L305.5 490.33 L306.5 489.92 L307.5 489.51 L308.5 489.11 L309.5 488.71 L310.5 488.31 L311.5 487.91 L312.5 487.52 L313.5 487.12 L314.5 486.73 L315.5 486.35 L316.5 485.96 L317.5 485.58 L318.5 485.2 L319.5 484.82 L320.5 484.44 L321.5 484.06 L322.5 483.69 L323.5 483.32 L324.5 482.95 L325.5 482.58 L326.5 482.22 L327.5 481.86 L328.5 481.49 L329.5 481.14 L330.5 480.78 L331.5 480.42 L332.5 480.07 L333.5 479.71 L334.5 479.36 L335.5 479.01 L336.5 478.67 L337.5 478.32 L338.5 477.98 L339.5 477.63 L340.5 477.29 L341.5 476.95 L342.5 476.61 L343.5 476.28 L344.5 475.94 L345.5 475.6 L346.5 475.27 L347.5 474.94 L348.5 474.61 L349.5 474.28 L350.5 473.95 L351.5 473.62 L352.5 473.3 L353.5 472.97 L354.5 472.65 L355.5 472.33 L356.5 472.01 L357.5 471.68 L358.5 471.36 L359.5 471.05 L360.5 470.73 L361.5 470.41 L362.5 470.09 L363.5 469.78 L364.5 469.46 L365.5 469.15 L366.5 468.84 L367.5 468.52 L368.5 468.21 L369.5 467.9 L370.5 467.59 L371.5 467.28 L372.5 466.97 L373.5 466.66 L374.5 466.35 L375.5 466.04 L376.5 465.73 L377.5 465.42 L378.5 465.11 L379.5 464.8 L380.5 464.49 L381.5 464.18 L382.5 463.87 L383.5 463.55 L384.5 463.24 L385.5 462.93 L386.5 462.62 L387.5 462.3 L388.5 461.99 L389.5 461.67 L390.5 461.35 L391.5 461.04 L392.5 460.72 L393.5 460.4 L394.5 460.07 L395.5 459.75 L396.5 459.43 L397.5 459.1 L398.5 458.77 L399.5 458.44 L400.5 458.11 L401.5 457.78 L402.5 457.45 L403.5 457.11 L404.5 456.77 L405.5 456.43 L406.5 456.09 L407.5 455.74 L408.5 455.4 L409.5 455.05 L410.5 454.7 L411.5 454.34 L412.5 453.98 L413.5 453.62 L414.5 453.26 L415.5 452.9 L416.5 452.53 L417.5 452.16 L418.5 451.78 L419.5 451.41 L420.5 451.02 L421.5 450.64 L422.5 450.25 L423.5 449.86 L424.5 449.47 L425.5 449.07 L426.5 448.67 L427.5 448.27 L428.5 447.86 L429.5 447.44 L430.5 447.03 L431.5 446.61 L432.5 446.18 L433.5 445.75 L434.5 445.32 L435.5 444.88 L436.5 444.44 L437.5 444 L438.5 443.55 L439.5 443.09 L440.5 442.63 L441.5 442.17 L442.5 441.7 L443.5 441.23 L444.5 440.75 L445.5 440.26 L446.5 439.77 L447.5 439.28 L448.5 438.78 L449.5 438.28 L450.5 437.77 L451.5 437.25 L452.5 436.73 L453.5 436.2 L454.5 435.67 L455.5 435.13 L456.5 434.59 L457.5 434.04 L458.5 433.48 L459.5 432.92 L460.5 432.36 L461.5 431.79 L462.5 431.21 L463.5 430.63 L464.5 430.04 L465.5 429.45 L466.5 428.85 L467.5 428.25 L468.5 427.65 L469.5 427.03 L470.5 426.42 L471.5 425.8 L472.5 425.17 L473.5 424.54 L474.5 423.9 L475.5 423.26 L476.5 422.62 L477.5 421.97 L478.5 421.32 L479.5 420.66 L480.5 420 L481.5 419.33 L482.5 418.66 L483.5 417.99 L484.5 417.31 L485.5 416.63 L486.5 415.95 L487.5 415.26 L488.5 414.57 L489.5 413.87 L490.5 413.17 L491.5 412.47 L492.5 411.76 L493.5 411.05 L494.5 410.34 L495.5 409.62 L496.5 408.9 L497.5 408.18 L498.5 407.45 L499.5 406.72 L500.5 405.99 L501.5 405.26 L502.5 404.52 L503.5 403.78 L504.5 403.04 L505.5 402.29 L506.5 401.54 L507.5 400.79 L508.5 400.04 L509.5 399.28 L510.5 398.53 L511.5 397.77 L512.5 397.01 L513.5 396.24 L514.5 395.48 L515.5 394.71 L516.5 393.94 L517.5 393.17 L518.5 392.39 L519.5 391.62 L520.5 390.84 L521.5 390.07 L522.5 389.29 L523.5 388.52 L524.5 387.75 L525.5 386.98 L526.5 386.21 L527.5 385.44 L528.5 384.67 L529.5 383.9 L530.5 383.13 L531.5 382.37 L532.5 381.6 L533.5 380.83 L534.5 380.07 L535.5 379.3 L536.5 378.53 L537.5 377.77 L538.5 377 L539.5 376.23 L540.5 375.46 L541.5 374.69 L542.5 373.92 L543.5 373.15 L544.5 372.38 L545.5 371.61 L546.5 370.83 L547.5 370.06 L548.5 369.28 L549.5 368.5 L550.5 367.72 L551.5 366.94 L552.5 366.16 L553.5 365.37 L554.5 364.58 L555.5 363.79 L556.5 363 L557.5 362.2 L558.5 361.41 L559.5 360.61 L560.5 359.8 L561.5 359 L562.5 358.2 L563.5 357.39 L564.5 356.59 L565.5 355.79 L566.5 354.99 L567.5 354.19 L568.5 353.39 L569.5 352.59 L570.5 351.79 L571.5 350.99 L572.5 350.19 L573.5 349.4 L574.5 348.6 L575.5 347.8 L576.5 347.01 L577.5 346.21 L578.5 345.42 L579.5 344.63 L580.5 343.83 L581.5 343.04 L582.5 342.25 L583.5 341.46 L584.5 340.67 L585.5 339.89 L586.5 339.1 L587.5 338.31 L588.5 337.53 L589.5 336.75 L590.5 335.96 L591.5 335.18 L592.5 334.4 L593.5 333.62 L594.5 332.85 L595.5 332.07 L596.5 331.29 L597.5 330.52 L598.5 329.75 L599.5 328.98 L600.5 328.21 L601.5 327.44 L602.5 326.67 L603.5 325.9 L604.5 325.12 L605.5 324.35 L606.5 323.58 L607.5 322.81 L608.5 322.04 L609.5 321.27 L610.5 320.5 L611.5 319.73 L612.5 318.96 L613.5 318.19 L614.5 317.42 L615.5 316.66 L616.5 315.9 L617.5 315.13 L618.5 314.37 L619.5 313.62 L620.5 312.86 L621.5 312.1 L622.5 311.35 L623.5 310.6 L624.5 309.85 L625.5 309.1 L626.5 308.36 L627.5 307.61 L628.5 306.87 L629.5 306.13 L630.5 305.39 L631.5 304.65 L632.5 303.91 L633.5 303.18 L634.5 302.44 L635.5 301.71 L636.5 300.97 L637.5 300.24 L638.5 299.51 L639.5 298.78 L640.5 298.04 L641.5 297.31 L642.5 296.58 L643.5 295.84 L644.5 295.11 L645.5 294.37 L646.5 293.63 L647.5 292.88 L648.5 292.13 L649.5 291.39 L650.5 290.63 L651.5 289.88 L652.5 289.11 L653.5 288.35 L654.5 287.58 L655.5 286.81 L656.5 286.03 L657.5 285.24 L658.5 284.45 L659.5 283.65 L660.5 282.85 L661.5 282.04 L662.5 281.22 L663.5 280.39 L664.5 279.55 L665.5 278.7 L666.5 277.83 L667.5 276.95 L668.5 276.05 L669.5 275.13 L670.5 274.19 L671.5 273.21 L672.5 272.19 L673.5 271.13 L674.5 270.05 L675.5 268.92 L676.5 267.77 L677.5 266.59 L678.5 265.38 L679.5 264.14 L680.5 262.88 L681.5 261.59 L682.5 260.25 L683.5 258.88 L684.5 257.79 L685.5 256.7 L686.5 255.61 L687.5 254.51 L688.5 253.42 L689.5 252.33 L690.5 251.24 L691.18 250.5" fill="none" stroke="#1f77b4" stroke-width="2.08" stroke-linejoin="round" stroke-linecap="butt"/><path d="M691.18 257.52 L692.55 256.53 L693.93 255.47 L695.31 254.27 L696.69 252.97 L698.07 251.59 L699.45 250.14 L700.82 248.65 L702.2 247.11 L703.58 245.54 L704.96 243.97 L706.34 242.39 L707.72 240.83 L709.09 239.31 L710.47 237.8 L711.85 236.29 L713.23 234.79 L714.61 233.28 L715.99 231.77 L717.37 230.26 L718.74 228.75 L720.12 227.23 L721.5 225.7 L722.88 224.17 L724.26 222.62 L725.64 221.07 L727.01 219.5 L728.39 217.92 L729.77 216.32 L731.15 214.71 L732.53 213.08 L733.91 211.44 L735.28 209.77 L736.66 208.07 L738.04 206.33 L739.42 204.57 L740.8 202.79 L742.18 200.99 L743.55 199.18 L744.93 197.37 L746.31 195.56 L747.69 193.75 L749.07 191.96 L750.45 190.18 L751.82 188.39 L753.2 186.61 L754.58 184.83 L755.96 183.04 L757.34 181.25 L758.72 179.47 L760.09 177.68 L761.47 175.89 L762.85 174.1 L764.23 172.31 L765.61 170.52 L766.99 168.73 L768.36 166.93 L769.74 165.14 L771.12 163.34 L772.5 161.55" fill="none" stroke="#1f77b4" stroke-width="2.08" stroke-linejoin="round"/><path d="M691 568.4 V17.7" stroke="#1f77b4" stroke-opacity="0.5" stroke-width="2.08" stroke-dasharray="7.74 3.315"/><path d="M74.99 568.4 L77.85 568.4 L80.72 568.4 L83.58 568.4 L86.45 568.4 L89.32 568.4 L92.18 568.4 L95.05 568.4 L97.91 568.4 L100.78 568.4 L103.65 568.4 L106.51 568.4 L109.38 568.4 L112.24 568.4 L115.11 568.4 L117.98 568.4 L120.84 568.4 L123.71 568.4 L126.57 568.37 L129.44 568.2 L132.31 567.96 L135.17 567.59 L138.04 567.03 L140.9 566.28 L143.77 565.57 L146.64 564.86 L149.5 564.25 L152.37 563.69 L155.23 563.01 L158.1 562.19 L160.97 561.2 L163.83 559.93 L166.7 558.58 L169.56 557.24 L172.43 555.97 L175.3 554.89 L178.16 553.84 L181.03 552.7 L183.89 551.5 L186.76 550.3 L189.63 549.08 L192.49 547.8 L195.36 546.48 L198.22 545.15 L201.09 543.78 L203.96 542.39 L206.82 540.98 L209.69 539.55 L212.55 538.1 L215.42 536.62 L218.29 535.13 L221.15 533.63 L224.02 532.12 L226.88 530.59 L229.75 529.05 L232.62 527.51 L235.48 525.96 L238.35 524.41 L241.21 522.86 L244.08 521.3 L246.95 519.75 L249.81 518.21 L252.68 516.67 L255.54 515.13 L258.41 513.61 L261.28 512.1 L264.14 510.6 L267.01 509.12 L269.87 507.66 L272.74 506.21 L275.61 504.78 L278.47 503.38 L281.34 502 L284.2 500.65 L287.07 499.32 L289.94 498.02 L292.8 496.74 L295.67 495.48 L298.53 494.24 L301.4 493.02 L304.27 491.82 L307.13 490.65 L310 489.49 L312.86 488.35 L315.73 487.23 L318.6 486.12 L321.46 485.03 L324.33 483.96 L327.19 482.9 L330.06 481.86 L332.93 480.82 L335.79 479.81 L338.66 478.8 L341.52 477.81 L344.39 476.82 L347.26 475.85 L350.12 474.89 L352.99 473.93 L355.85 472.99 L358.72 472.05 L361.59 471.12 L364.45 470.19 L367.32 469.27 L370.18 468.35 L373.05 467.44 L375.92 466.53 L378.78 465.62 L381.65 464.71 L384.51 463.79 L387.38 462.87 L390.25 461.94 L393.11 461 L395.98 460.05 L398.84 459.09 L401.71 458.12 L404.58 457.13 L407.44 456.12 L410.31 455.1 L413.17 454.05 L416.04 452.98 L418.91 451.89 L421.77 450.77 L424.64 449.63 L427.5 448.46 L430.37 447.25 L433.24 446.02 L436.1 444.74 L438.97 443.44 L441.83 442.1 L444.7 440.71 L447.57 439.29 L450.43 437.82 L453.3 436.31 L456.16 434.76 L459.03 433.16 L461.9 431.51 L464.76 429.83 L467.63 428.1 L470.49 426.32 L473.36 424.52 L476.23 422.67 L479.09 420.79 L481.96 418.87 L484.82 416.92 L487.69 414.93 L490.56 412.92 L493.42 410.87 L496.29 408.8 L499.15 406.7 L502.02 404.57 L504.89 402.42 L507.75 400.25 L510.62 398.06 L513.48 395.84 L516.35 393.61 L519.22 391.36 L522.08 389.09 L524.95 386.81 L527.81 384.51 L530.68 382.2 L533.55 379.89 L536.41 377.56 L539.28 375.22 L542.14 372.88 L545.01 370.53 L547.88 368.18 L550.74 365.82 L553.61 363.46 L556.47 361.1 L559.34 358.75 L562.21 356.39 L565.07 354.04 L567.94 351.69 L570.8 349.34 L573.67 347.01 L576.54 344.68 L579.4 342.36 L582.27 340.05 L585.13 337.76 L588 335.47 L590.87 333.2 L593.73 330.95 L596.6 328.71 L599.46 326.49 L602.33 324.29 L605.2 322.11 L608.06 319.96 L610.93 317.82 L613.79 315.71 L616.66 313.62 L619.53 311.57 L622.39 309.53 L625.26 307.53 L628.12 305.54 L630.99 303.57 L633.86 301.6 L636.72 299.65 L639.59 297.69 L642.45 295.74 L645.32 293.77 L648.19 291.8 L651.05 289.8 L653.92 287.79 L656.78 285.75 L659.65 283.68 L662.52 281.58 L665.38 279.43 L668.25 277.19 L671.11 274.82 L673.98 272.28 L676.85 269.52 L679.71 266.52 L682.58 263.22 L685.44 259.58 " stroke="#ff7f0e" stroke-width="8.2" stroke-linejoin="round" fill="none"/><path d="M74.99 568.4h0M77.85 568.4h0M80.72 568.4h0M83.58 568.4h0M86.45 568.4h0M89.32 568.4h0M92.18 568.4h0M95.05 568.4h0M97.91 568.4h0M100.78 568.4h0M103.65 568.4h0M106.51 568.4h0M109.38 568.4h0M112.24 568.4h0M115.11 568.4h0M117.98 568.4h0M120.84 568.4h0M123.71 568.4h0M126.57 568.37h0M129.44 568.2h0M132.31 567.96h0M135.17 567.59h0M138.04 567.03h0M140.9 566.28h0M143.77 565.57h0M146.64 564.86h0M149.5 564.25h0M152.37 563.69h0M155.23 563.01h0M158.1 562.19h0M160.97 561.2h0M163.83 559.93h0M166.7 558.58h0M169.56 557.24h0M172.43 555.97h0M175.3 554.89h0M178.16 553.84h0M181.03 552.7h0M183.89 551.5h0M186.76 550.3h0M189.63 549.08h0M192.49 547.8h0M195.36 546.48h0M198.22 545.15h0M201.09 543.78h0M203.96 542.39h0M206.82 540.98h0M209.69 539.55h0M212.55 538.1h0M215.42 536.62h0M218.29 535.13h0M221.15 533.63h0M224.02 532.12h0M226.88 530.59h0M229.75 529.05h0M232.62 527.51h0M235.48 525.96h0M238.35 524.41h0M241.21 522.86h0M244.08 521.3h0M246.95 519.75h0M249.81 518.21h0M252.68 516.67h0M255.54 515.13h0M258.41 513.61h0M261.28 512.1h0M264.14 510.6h0M267.01 509.12h0M269.87 507.66h0M272.74 506.21h0M275.61 504.78h0M278.47 503.38h0M281.34 502h0M284.2 500.65h0M287.07 499.32h0M289.94 498.02h0M292.8 496.74h0M295.67 495.48h0M298.53 494.24h0M301.4 493.02h0M304.27 491.82h0M307.13 490.65h0M310 489.49h0M312.86 488.35h0M315.73 487.23h0M318.6 486.12h0M321.46 485.03h0M324.33 483.96h0M327.19 482.9h0M330.06 481.86h0M332.93 480.82h0M335.79 479.81h0M338.66 478.8h0M341.52 477.81h0M344.39 476.82h0M347.26 475.85h0M350.12 474.89h0M352.99 473.93h0M355.85 472.99h0M358.72 472.05h0M361.59 471.12h0M364.45 470.19h0M367.32 469.27h0M370.18 468.35h0M373.05 467.44h0M375.92 466.53h0M378.78 465.62h0M381.65 464.71h0M384.51 463.79h0M387.38 462.87h0M390.25 461.94h0M393.11 461h0M395.98 460.05h0M398.84 459.09h0M401.71 458.12h0M404.58 457.13h0M407.44 456.12h0M410.31 455.1h0M413.17 454.05h0M416.04 452.98h0M418.91 451.89h0M421.77 450.77h0M424.64 449.63h0M427.5 448.46h0M430.37 447.25h0M433.24 446.02h0M436.1 444.74h0M438.97 443.44h0M441.83 442.1h0M444.7 440.71h0M447.57 439.29h0M450.43 437.82h0M453.3 436.31h0M456.16 434.76h0M459.03 433.16h0M461.9 431.51h0M464.76 429.83h0M467.63 428.1h0M470.49 426.32h0M473.36 424.52h0M476.23 422.67h0M479.09 420.79h0M481.96 418.87h0M484.82 416.92h0M487.69 414.93h0M490.56 412.92h0M493.42 410.87h0M496.29 408.8h0M499.15 406.7h0M502.02 404.57h0M504.89 402.42h0M507.75 400.25h0M510.62 398.06h0M513.48 395.84h0M516.35 393.61h0M519.22 391.36h0M522.08 389.09h0M524.95 386.81h0M527.81 384.51h0M530.68 382.2h0M533.55 379.89h0M536.41 377.56h0M539.28 375.22h0M542.14 372.88h0M545.01 370.53h0M547.88 368.18h0M550.74 365.82h0M553.61 363.46h0M556.47 361.1h0M559.34 358.75h0M562.21 356.39h0M565.07 354.04h0M567.94 351.69h0M570.8 349.34h0M573.67 347.01h0M576.54 344.68h0M579.4 342.36h0M582.27 340.05h0M585.13 337.76h0M588 335.47h0M590.87 333.2h0M593.73 330.95h0M596.6 328.71h0M599.46 326.49h0M602.33 324.29h0M605.2 322.11h0M608.06 319.96h0M610.93 317.82h0M613.79 315.71h0M616.66 313.62h0M619.53 311.57h0M622.39 309.53h0M625.26 307.53h0M628.12 305.54h0M630.99 303.57h0M633.86 301.6h0M636.72 299.65h0M639.59 297.69h0M642.45 295.74h0M645.32 293.77h0M648.19 291.8h0M651.05 289.8h0M653.92 287.79h0M656.78 285.75h0M659.65 283.68h0M662.52 281.58h0M665.38 279.43h0M668.25 277.19h0M671.11 274.82h0M673.98 272.28h0M676.85 269.52h0M679.71 266.52h0M682.58 263.22h0M685.44 259.58h0M694.04 249.2h0M696.91 246.5h0M699.77 243.5h0M702.64 238.5h0M705.51 234.5h0M708.37 230.6h0M711.24 226.9h0M714.1 223h0M716.97 219.2h0M719.84 215.3h0M722.7 211.5h0M725.57 207.7h0M728.43 200.7h0M731.3 196.8h0M734.17 192.9h0M737.03 189.2h0M739.9 182.5h0M742.76 175.8h0M745.63 169.2h0M748.5 162.5h0M751.36 156.7h0M754.23 152h0M757.09 147.5h0M759.96 140.4h0M762.83 131.25h0M765.69 123.3h0M768.56 115h0M771.42 107.9h0" stroke="#ff7f0e" stroke-width="9.2" stroke-linecap="round" fill="none"/></g><rect x="77.5" y="15.5" width="694" height="553" fill="none" stroke="#000" stroke-width="1.11" stroke-linejoin="miter"/><path d="M72.64 568.5H77.5M72.64 505.5H77.5M72.64 442.5H77.5M72.64 379.5H77.5M72.64 315.5H77.5M72.64 252.5H77.5M72.64 189.5H77.5M72.64 126.5H77.5M72.64 62.5H77.5M158.5 568.5v4.86M244.5 568.5v4.86M333.5 568.5v4.86M419.5 568.5v4.86M508.5 568.5v4.86M597.5 568.5v4.86M683.5 568.5v4.86M771.5 568.5v4.86M77.5 568.5v4.86M92.5 568.5v2.78M112.5 568.5v2.78M132.5 568.5v2.78M152.5 568.5v2.78M172.5 568.5v2.78M192.5 568.5v2.78M213.5 568.5v2.78M233.5 568.5v2.78M253.5 568.5v2.78M273.5 568.5v2.78M293.5 568.5v2.78M313.5 568.5v2.78M333.5 568.5v2.78M353.5 568.5v2.78M373.5 568.5v2.78M393.5 568.5v2.78M413.5 568.5v2.78M433.5 568.5v2.78M453.5 568.5v2.78M473.5 568.5v2.78M493.5 568.5v2.78M513.5 568.5v2.78M534.5 568.5v2.78M554.5 568.5v2.78M574.5 568.5v2.78M594.5 568.5v2.78M614.5 568.5v2.78M634.5 568.5v2.78M654.5 568.5v2.78M674.5 568.5v2.78M694.5 568.5v2.78M714.5 568.5v2.78M734.5 568.5v2.78M754.5 568.5v2.78" stroke="#000" stroke-width="1.11" fill="none"/><text x="59.29" y="573.8" font-size="14.65" textLength="8.14" lengthAdjust="spacingAndGlyphs">0</text><text x="23.82" y="510.8" font-size="14.65" textLength="43.65" lengthAdjust="spacingAndGlyphs">25000</text><text x="24.04" y="447.8" font-size="14.65" textLength="43.42" lengthAdjust="spacingAndGlyphs">50000</text><text x="23.93" y="384.8" font-size="14.65" textLength="43.54" lengthAdjust="spacingAndGlyphs">75000</text><text x="15.09" y="320.8" font-size="14.65" textLength="52.38" lengthAdjust="spacingAndGlyphs">100000</text><text x="15.09" y="257.8" font-size="14.65" textLength="52.38" lengthAdjust="spacingAndGlyphs">125000</text><text x="15.09" y="194.8" font-size="14.65" textLength="52.38" lengthAdjust="spacingAndGlyphs">150000</text><text x="15.09" y="131.8" font-size="14.65" textLength="52.38" lengthAdjust="spacingAndGlyphs">175000</text><text x="14.99" y="67.8" font-size="14.65" textLength="52.49" lengthAdjust="spacingAndGlyphs">200000</text><rect x="84.5" y="22.5" width="121" height="25" rx="2.8" ry="2.8" fill="#fff" fill-opacity="0.8" stroke="#cccccc" stroke-opacity="0.8" stroke-width="1.11"/><path d="M90.06 33.7H117.84" stroke="#1f77b4" stroke-width="2.08" stroke-linecap="square"/><text x="128.99" y="37.9" font-size="14.65" textLength="69.96" lengthAdjust="spacingAndGlyphs">confirmed</text><clipPath id="c1"><rect x="77.5" y="592.5" width="694.0" height="552.9000000000001"/></clipPath><g clip-path="url(#c1)"><path d="M77.5 1145.2 L78.5 1145.2 L79.5 1145.2 L80.5 1145.2 L81.5 1145.2 L82.5 1145.2 L83.5 1145.2 L84.5 1145.19 L85.5 1145.19 L86.5 1145.19 L87.5 1145.19 L88.5 1145.19 L89.5 1145.19 L90.5 1145.18 L91.5 1145.18 L92.5 1145.18 L93.5 1145.17 L94.5 1145.17 L95.5 1145.17 L96.5 1145.16 L97.5 1145.16 L98.5 1145.15 L99.5 1145.15 L100.5 1145.15 L101.5 1145.14 L102.5 1145.14 L103.5 1145.13 L104.5 1145.12 L105.5 1145.12 L106.5 1145.11 L107.5 1145.11 L108.5 1145.1 L109.5 1145.09 L110.5 1145.07 L111.5 1145.04 L112.5 1145.01 L113.5 1144.96 L114.5 1144.91 L115.5 1144.84 L116.5 1144.76 L117.5 1144.67 L118.5 1144.56 L119.5 1144.44 L120.5 1144.31 L121.5 1144.17 L122.5 1144.02 L123.5 1143.85 L124.5 1143.68 L125.5 1143.5 L126.5 1143.31 L127.5 1143.1 L128.5 1142.88 L129.5 1142.65 L130.5 1142.4 L131.5 1142.12 L132.5 1141.82 L133.5 1141.49 L134.5 1141.12 L135.5 1140.74 L136.5 1140.32 L137.5 1139.89 L138.5 1139.43 L139.5 1138.96 L140.5 1138.47 L141.5 1137.98 L142.5 1137.47 L143.5 1136.95 L144.5 1136.41 L145.5 1135.84 L146.5 1135.25 L147.5 1134.63 L148.5 1133.97 L149.5 1133.29 L150.5 1132.58 L151.5 1131.84 L152.5 1131.06 L153.5 1130.26 L154.5 1129.43 L155.5 1128.56 L156.5 1127.67 L157.5 1126.75 L158.5 1125.81 L159.5 1124.85 L160.5 1123.87 L161.5 1122.87 L162.5 1121.84 L163.5 1120.79 L164.5 1119.72 L165.5 1118.62 L166.5 1117.49 L167.5 1116.33 L168.5 1115.14 L169.5 1113.93 L170.5 1112.7 L171.5 1111.46 L172.5 1110.2 L173.5 1108.92 L174.5 1107.63 L175.5 1106.32 L176.5 1105 L177.5 1103.65 L178.5 1102.29 L179.5 1100.91 L180.5 1099.51 L181.5 1098.09 L182.5 1096.65 L183.5 1095.19 L184.5 1093.7 L185.5 1092.2 L186.5 1090.67 L187.5 1089.12 L188.5 1087.55 L189.5 1085.96 L190.5 1084.35 L191.5 1082.72 L192.5 1081.06 L193.5 1079.38 L194.5 1077.69 L195.5 1075.97 L196.5 1074.24 L197.5 1072.48 L198.5 1070.71 L199.5 1068.92 L200.5 1067.11 L201.5 1065.26 L202.5 1063.38 L203.5 1061.45 L204.5 1059.5 L205.5 1057.52 L206.5 1055.51 L207.5 1053.48 L208.5 1051.43 L209.5 1049.37 L210.5 1047.3 L211.5 1045.22 L212.5 1043.14 L213.5 1041.05 L214.5 1038.96 L215.5 1036.87 L216.5 1034.76 L217.5 1032.61 L218.5 1030.44 L219.5 1028.24 L220.5 1026.03 L221.5 1023.8 L222.5 1021.56 L223.5 1019.32 L224.5 1017.08 L225.5 1014.84 L226.5 1012.61 L227.5 1010.4 L228.5 1008.21 L229.5 1006.05 L230.5 1003.92 L231.5 1001.82 L232.5 999.76 L233.5 997.71 L234.5 995.7 L235.5 993.71 L236.5 991.75 L237.5 989.82 L238.5 987.91 L239.5 986.04 L240.5 984.2 L241.5 982.39 L242.5 980.61 L243.5 978.86 L244.5 977.15 L245.5 975.46 L246.5 973.81 L247.5 972.18 L248.5 970.59 L249.5 969.01 L250.5 967.47 L251.5 965.94 L252.5 964.44 L253.5 962.96 L254.5 961.49 L255.5 960.04 L256.5 958.59 L257.5 957.16 L258.5 955.73 L259.5 954.3 L260.5 952.87 L261.5 951.46 L262.5 950.05 L263.5 948.66 L264.5 947.27 L265.5 945.89 L266.5 944.52 L267.5 943.15 L268.5 941.79 L269.5 940.42 L270.5 939.06 L271.5 937.7 L272.5 936.34 L273.5 934.98 L274.5 933.61 L275.5 932.25 L276.5 930.88 L277.5 929.5 L278.5 928.13 L279.5 926.75 L280.5 925.37 L281.5 923.99 L282.5 922.6 L283.5 921.21 L284.5 919.83 L285.5 918.44 L286.5 917.06 L287.5 915.68 L288.5 914.3 L289.5 912.93 L290.5 911.57 L291.5 910.22 L292.5 908.88 L293.5 907.55 L294.5 906.23 L295.5 904.92 L296.5 903.63 L297.5 902.36 L298.5 901.1 L299.5 899.86 L300.5 898.63 L301.5 897.42 L302.5 896.23 L303.5 895.05 L304.5 893.89 L305.5 892.75 L306.5 891.62 L307.5 890.51 L308.5 889.41 L309.5 888.33 L310.5 887.27 L311.5 886.21 L312.5 885.16 L313.5 884.13 L314.5 883.1 L315.5 882.09 L316.5 881.08 L317.5 880.08 L318.5 879.08 L319.5 878.1 L320.5 877.11 L321.5 876.14 L322.5 875.17 L323.5 874.21 L324.5 873.25 L325.5 872.3 L326.5 871.36 L327.5 870.42 L328.5 869.5 L329.5 868.58 L330.5 867.67 L331.5 866.77 L332.5 865.88 L333.5 865 L334.5 864.12 L335.5 863.26 L336.5 862.41 L337.5 861.57 L338.5 860.74 L339.5 859.92 L340.5 859.11 L341.5 858.31 L342.5 857.52 L343.5 856.73 L344.5 855.94 L345.5 855.16 L346.5 854.39 L347.5 853.62 L348.5 852.86 L349.5 852.11 L350.5 851.36 L351.5 850.61 L352.5 849.88 L353.5 849.14 L354.5 848.42 L355.5 847.7 L356.5 846.99 L357.5 846.28 L358.5 845.58 L359.5 844.88 L360.5 844.19 L361.5 843.51 L362.5 842.84 L363.5 842.17 L364.5 841.5 L365.5 840.85 L366.5 840.2 L367.5 839.55 L368.5 838.92 L369.5 838.29 L370.5 837.66 L371.5 837.04 L372.5 836.43 L373.5 835.83 L374.5 835.23 L375.5 834.64 L376.5 834.06 L377.5 833.48 L378.5 832.91 L379.5 832.35 L380.5 831.8 L381.5 831.25 L382.5 830.7 L383.5 830.16 L384.5 829.63 L385.5 829.1 L386.5 828.58 L387.5 828.06 L388.5 827.55 L389.5 827.04 L390.5 826.54 L391.5 826.04 L392.5 825.55 L393.5 825.05 L394.5 824.57 L395.5 824.08 L396.5 823.6 L397.5 823.13 L398.5 822.66 L399.5 822.19 L400.5 821.72 L401.5 821.26 L402.5 820.8 L403.5 820.34 L404.5 819.88 L405.5 819.43 L406.5 818.98 L407.5 818.53 L408.5 818.08 L409.5 817.64 L410.5 817.19 L411.5 816.75 L412.5 816.31 L413.5 815.87 L414.5 815.43 L415.5 815 L416.5 814.56 L417.5 814.12 L418.5 813.69 L419.5 813.25 L420.5 812.82 L421.5 812.38 L422.5 811.95 L423.5 811.51 L424.5 811.08 L425.5 810.64 L426.5 810.21 L427.5 809.77 L428.5 809.34 L429.5 808.91 L430.5 808.47 L431.5 808.04 L432.5 807.61 L433.5 807.18 L434.5 806.75 L435.5 806.32 L436.5 805.89 L437.5 805.46 L438.5 805.04 L439.5 804.61 L440.5 804.19 L441.5 803.76 L442.5 803.34 L443.5 802.92 L444.5 802.49 L445.5 802.07 L446.5 801.66 L447.5 801.24 L448.5 800.82 L449.5 800.41 L450.5 799.99 L451.5 799.58 L452.5 799.17 L453.5 798.76 L454.5 798.35 L455.5 797.94 L456.5 797.54 L457.5 797.13 L458.5 796.73 L459.5 796.33 L460.5 795.93 L461.5 795.54 L462.5 795.14 L463.5 794.74 L464.5 794.34 L465.5 793.94 L466.5 793.54 L467.5 793.14 L468.5 792.74 L469.5 792.34 L470.5 791.93 L471.5 791.53 L472.5 791.13 L473.5 790.72 L474.5 790.32 L475.5 789.91 L476.5 789.5 L477.5 789.09 L478.5 788.68 L479.5 788.27 L480.5 787.86 L481.5 787.44 L482.5 787.03 L483.5 786.61 L484.5 786.19 L485.5 785.77 L486.5 785.35 L487.5 784.92 L488.5 784.5 L489.5 784.07 L490.5 783.64 L491.5 783.2 L492.5 782.77 L493.5 782.33 L494.5 781.89 L495.5 781.45 L496.5 781.01 L497.5 780.56 L498.5 780.11 L499.5 779.66 L500.5 779.21 L501.5 778.75 L502.5 778.3 L503.5 777.83 L504.5 777.37 L505.5 776.9 L506.5 776.43 L507.5 775.95 L508.5 775.47 L509.5 774.99 L510.5 774.51 L511.5 774.02 L512.5 773.53 L513.5 773.04 L514.5 772.55 L515.5 772.05 L516.5 771.55 L517.5 771.05 L518.5 770.55 L519.5 770.05 L520.5 769.54 L521.5 769.03 L522.5 768.52 L523.5 768.01 L524.5 767.49 L525.5 766.98 L526.5 766.46 L527.5 765.94 L528.5 765.42 L529.5 764.9 L530.5 764.37 L531.5 763.85 L532.5 763.33 L533.5 762.8 L534.5 762.27 L535.5 761.75 L536.5 761.22 L537.5 760.69 L538.5 760.16 L539.5 759.63 L540.5 759.1 L541.5 758.57 L542.5 758.04 L543.5 757.5 L544.5 756.97 L545.5 756.44 L546.5 755.91 L547.5 755.37 L548.5 754.84 L549.5 754.3 L550.5 753.77 L551.5 753.24 L552.5 752.7 L553.5 752.17 L554.5 751.64 L555.5 751.1 L556.5 750.57 L557.5 750.03 L558.5 749.5 L559.5 748.97 L560.5 748.44 L561.5 747.9 L562.5 747.37 L563.5 746.84 L564.5 746.31 L565.5 745.78 L566.5 745.25 L567.5 744.72 L568.5 744.19 L569.5 743.66 L570.5 743.14 L571.5 742.61 L572.5 742.08 L573.5 741.56 L574.5 741.04 L575.5 740.51 L576.5 739.99 L577.5 739.47 L578.5 738.95 L579.5 738.43 L580.5 737.91 L581.5 737.39 L582.5 736.87 L583.5 736.36 L584.5 735.84 L585.5 735.33 L586.5 734.82 L587.5 734.31 L588.5 733.8 L589.5 733.29 L590.5 732.78 L591.5 732.27 L592.5 731.77 L593.5 731.27 L594.5 730.76 L595.5 730.26 L596.5 729.77 L597.5 729.27 L598.5 728.77 L599.5 728.28 L600.5 727.78 L601.5 727.29 L602.5 726.8 L603.5 726.3 L604.5 725.81 L605.5 725.32 L606.5 724.82 L607.5 724.33 L608.5 723.84 L609.5 723.35 L610.5 722.85 L611.5 722.36 L612.5 721.87 L613.5 721.38 L614.5 720.88 L615.5 720.39 L616.5 719.9 L617.5 719.4 L618.5 718.91 L619.5 718.42 L620.5 717.92 L621.5 717.43 L622.5 716.94 L623.5 716.44 L624.5 715.95 L625.5 715.45 L626.5 714.95 L627.5 714.46 L628.5 713.96 L629.5 713.46 L630.5 712.96 L631.5 712.46 L632.5 711.96 L633.5 711.46 L634.5 710.95 L635.5 710.45 L636.5 709.94 L637.5 709.44 L638.5 708.93 L639.5 708.42 L640.5 707.91 L641.5 707.39 L642.5 706.86 L643.5 706.32 L644.5 705.77 L645.5 705.22 L646.5 704.65 L647.5 704.08 L648.5 703.49 L649.5 702.9 L650.5 702.3 L651.5 701.68 L652.5 701.06 L653.5 700.43 L654.5 699.79 L655.5 699.14 L656.5 698.48 L657.5 697.81 L658.5 697.14 L659.5 696.45 L660.5 695.75 L661.5 695.04 L662.5 694.33 L663.5 693.6 L664.5 692.86 L665.5 692.12 L666.5 691.36 L667.5 690.6 L668.5 689.83 L669.5 689.04 L670.5 688.25 L671.5 687.44 L672.5 686.63 L673.5 685.81 L674.5 684.97 L675.5 684.13 L676.5 683.28 L677.5 682.41 L678.5 681.54 L679.5 680.67 L680.5 679.82 L681.5 678.99 L682.5 678.18 L683.5 677.4 L684.5 676.64 L685.5 675.91 L686.5 675.2 L687.5 674.51 L688.5 673.85 L689.5 673.21 L690.5 672.6 L691.18 672.08 L691.18 735.08 L690.5 735.6 L689.5 736.21 L688.5 736.84 L687.5 737.5 L686.5 738.18 L685.5 738.89 L684.5 739.62 L683.5 740.37 L682.5 741.15 L681.5 741.95 L680.5 742.77 L679.5 743.61 L678.5 744.47 L677.5 745.33 L676.5 746.18 L675.5 747.02 L674.5 747.85 L673.5 748.66 L672.5 749.47 L671.5 750.27 L670.5 751.06 L669.5 751.83 L668.5 752.6 L667.5 753.35 L666.5 754.1 L665.5 754.83 L664.5 755.56 L663.5 756.27 L662.5 756.97 L661.5 757.67 L660.5 758.35 L659.5 759.02 L658.5 759.69 L657.5 760.34 L656.5 760.98 L655.5 761.61 L654.5 762.24 L653.5 762.85 L652.5 763.45 L651.5 764.05 L650.5 764.63 L649.5 765.2 L648.5 765.77 L647.5 766.32 L646.5 766.86 L645.5 767.4 L644.5 767.92 L643.5 768.44 L642.5 768.94 L641.5 769.44 L640.5 769.92 L639.5 770.4 L638.5 770.87 L637.5 771.33 L636.5 771.78 L635.5 772.22 L634.5 772.65 L633.5 773.08 L632.5 773.5 L631.5 773.91 L630.5 774.32 L629.5 774.72 L628.5 775.12 L627.5 775.51 L626.5 775.9 L625.5 776.28 L624.5 776.66 L623.5 777.04 L622.5 777.42 L621.5 777.79 L620.5 778.16 L619.5 778.53 L618.5 778.9 L617.5 779.26 L616.5 779.63 L615.5 780 L614.5 780.37 L613.5 780.74 L612.5 781.11 L611.5 781.48 L610.5 781.86 L609.5 782.23 L608.5 782.61 L607.5 783 L606.5 783.39 L605.5 783.78 L604.5 784.18 L603.5 784.58 L602.5 784.99 L601.5 785.4 L600.5 785.82 L599.5 786.24 L598.5 786.67 L597.5 787.1 L596.5 787.53 L595.5 787.96 L594.5 788.4 L593.5 788.84 L592.5 789.28 L591.5 789.72 L590.5 790.16 L589.5 790.61 L588.5 791.05 L587.5 791.5 L586.5 791.95 L585.5 792.41 L584.5 792.86 L583.5 793.32 L582.5 793.78 L581.5 794.24 L580.5 794.7 L579.5 795.16 L578.5 795.62 L577.5 796.09 L576.5 796.56 L575.5 797.03 L574.5 797.5 L573.5 797.97 L572.5 798.44 L571.5 798.92 L570.5 799.4 L569.5 799.87 L568.5 800.35 L567.5 800.83 L566.5 801.31 L565.5 801.8 L564.5 802.28 L563.5 802.76 L562.5 803.25 L561.5 803.74 L560.5 804.22 L559.5 804.71 L558.5 805.2 L557.5 805.69 L556.5 806.18 L555.5 806.67 L554.5 807.17 L553.5 807.66 L552.5 808.15 L551.5 808.65 L550.5 809.14 L549.5 809.64 L548.5 810.14 L547.5 810.63 L546.5 811.13 L545.5 811.63 L544.5 812.12 L543.5 812.62 L542.5 813.12 L541.5 813.62 L540.5 814.11 L539.5 814.61 L538.5 815.11 L537.5 815.6 L536.5 816.1 L535.5 816.59 L534.5 817.09 L533.5 817.58 L532.5 818.07 L531.5 818.56 L530.5 819.05 L529.5 819.54 L528.5 820.03 L527.5 820.51 L526.5 821 L525.5 821.48 L524.5 821.97 L523.5 822.45 L522.5 822.93 L521.5 823.41 L520.5 823.89 L519.5 824.37 L518.5 824.84 L517.5 825.32 L516.5 825.79 L515.5 826.27 L514.5 826.74 L513.5 827.21 L512.5 827.68 L511.5 828.15 L510.5 828.61 L509.5 829.08 L508.5 829.54 L507.5 830.01 L506.5 830.47 L505.5 830.93 L504.5 831.39 L503.5 831.85 L502.5 832.3 L501.5 832.76 L500.5 833.21 L499.5 833.66 L498.5 834.11 L497.5 834.56 L496.5 835.01 L495.5 835.45 L494.5 835.89 L493.5 836.33 L492.5 836.77 L491.5 837.2 L490.5 837.64 L489.5 838.07 L488.5 838.5 L487.5 838.92 L486.5 839.35 L485.5 839.77 L484.5 840.19 L483.5 840.61 L482.5 841.03 L481.5 841.44 L480.5 841.86 L479.5 842.27 L478.5 842.68 L477.5 843.09 L476.5 843.5 L475.5 843.91 L474.5 844.32 L473.5 844.72 L472.5 845.13 L471.5 845.53 L470.5 845.93 L469.5 846.34 L468.5 846.74 L467.5 847.14 L466.5 847.54 L465.5 847.94 L464.5 848.34 L463.5 848.74 L462.5 849.14 L461.5 849.54 L460.5 849.93 L459.5 850.33 L458.5 850.73 L457.5 851.12 L456.5 851.52 L455.5 851.91 L454.5 852.3 L453.5 852.69 L452.5 853.08 L451.5 853.46 L450.5 853.85 L449.5 854.23 L448.5 854.62 L447.5 855.01 L446.5 855.39 L445.5 855.78 L444.5 856.16 L443.5 856.55 L442.5 856.93 L441.5 857.32 L440.5 857.7 L439.5 858.09 L438.5 858.48 L437.5 858.87 L436.5 859.26 L435.5 859.65 L434.5 860.05 L433.5 860.45 L432.5 860.84 L431.5 861.24 L430.5 861.64 L429.5 862.05 L428.5 862.46 L427.5 862.87 L426.5 863.28 L425.5 863.69 L424.5 864.11 L423.5 864.53 L422.5 864.96 L421.5 865.38 L420.5 865.82 L419.5 866.25 L418.5 866.69 L417.5 867.13 L416.5 867.58 L415.5 868.03 L414.5 868.48 L413.5 868.94 L412.5 869.4 L411.5 869.87 L410.5 870.34 L409.5 870.81 L408.5 871.28 L407.5 871.76 L406.5 872.24 L405.5 872.73 L404.5 873.22 L403.5 873.71 L402.5 874.2 L401.5 874.7 L400.5 875.2 L399.5 875.71 L398.5 876.21 L397.5 876.72 L396.5 877.23 L395.5 877.75 L394.5 878.27 L393.5 878.79 L392.5 879.31 L391.5 879.84 L390.5 880.37 L389.5 880.9 L388.5 881.43 L387.5 881.97 L386.5 882.51 L385.5 883.05 L384.5 883.6 L383.5 884.14 L382.5 884.69 L381.5 885.24 L380.5 885.8 L379.5 886.35 L378.5 886.91 L377.5 887.47 L376.5 888.03 L375.5 888.59 L374.5 889.16 L373.5 889.72 L372.5 890.29 L371.5 890.87 L370.5 891.45 L369.5 892.03 L368.5 892.61 L367.5 893.2 L366.5 893.79 L365.5 894.38 L364.5 894.98 L363.5 895.59 L362.5 896.19 L361.5 896.81 L360.5 897.43 L359.5 898.05 L358.5 898.68 L357.5 899.31 L356.5 899.95 L355.5 900.6 L354.5 901.25 L353.5 901.91 L352.5 902.57 L351.5 903.25 L350.5 903.93 L349.5 904.61 L348.5 905.3 L347.5 906 L346.5 906.71 L345.5 907.43 L344.5 908.15 L343.5 908.89 L342.5 909.63 L341.5 910.38 L340.5 911.13 L339.5 911.9 L338.5 912.68 L337.5 913.47 L336.5 914.26 L335.5 915.07 L334.5 915.89 L333.5 916.72 L332.5 917.55 L331.5 918.4 L330.5 919.26 L329.5 920.12 L328.5 921 L327.5 921.88 L326.5 922.77 L325.5 923.67 L324.5 924.58 L323.5 925.5 L322.5 926.42 L321.5 927.36 L320.5 928.3 L319.5 929.25 L318.5 930.21 L317.5 931.18 L316.5 932.16 L315.5 933.14 L314.5 934.14 L313.5 935.15 L312.5 936.18 L311.5 937.21 L310.5 938.27 L309.5 939.33 L308.5 940.43 L307.5 941.55 L306.5 942.7 L305.5 943.88 L304.5 945.07 L303.5 946.3 L302.5 947.54 L301.5 948.81 L300.5 950.09 L299.5 951.39 L298.5 952.71 L297.5 954.04 L296.5 955.38 L295.5 956.74 L294.5 958.1 L293.5 959.46 L292.5 960.83 L291.5 962.2 L290.5 963.57 L289.5 964.93 L288.5 966.3 L287.5 967.67 L286.5 969.04 L285.5 970.41 L284.5 971.79 L283.5 973.16 L282.5 974.53 L281.5 975.89 L280.5 977.25 L279.5 978.61 L278.5 979.96 L277.5 981.31 L276.5 982.65 L275.5 983.98 L274.5 985.32 L273.5 986.64 L272.5 987.97 L271.5 989.29 L270.5 990.61 L269.5 991.92 L268.5 993.24 L267.5 994.56 L266.5 995.88 L265.5 997.2 L264.5 998.53 L263.5 999.86 L262.5 1001.2 L261.5 1002.55 L260.5 1003.9 L259.5 1005.27 L258.5 1006.62 L257.5 1007.96 L256.5 1009.29 L255.5 1010.62 L254.5 1011.94 L253.5 1013.26 L252.5 1014.59 L251.5 1015.92 L250.5 1017.26 L249.5 1018.61 L248.5 1019.97 L247.5 1021.34 L246.5 1022.73 L245.5 1024.14 L244.5 1025.57 L243.5 1027.02 L242.5 1028.49 L241.5 1029.98 L240.5 1031.49 L239.5 1033.02 L238.5 1034.57 L237.5 1036.15 L236.5 1037.75 L235.5 1039.36 L234.5 1041 L233.5 1042.65 L232.5 1044.32 L231.5 1046.02 L230.5 1047.72 L229.5 1049.38 L228.5 1051 L227.5 1052.57 L226.5 1054.11 L225.5 1055.61 L224.5 1057.08 L223.5 1058.51 L222.5 1059.92 L221.5 1061.3 L220.5 1062.66 L219.5 1064 L218.5 1065.33 L217.5 1066.65 L216.5 1067.96 L215.5 1069.27 L214.5 1070.57 L213.5 1071.85 L212.5 1073.1 L211.5 1074.32 L210.5 1075.52 L209.5 1076.71 L208.5 1077.89 L207.5 1079.06 L206.5 1080.22 L205.5 1081.39 L204.5 1082.57 L203.5 1083.75 L202.5 1084.95 L201.5 1086.16 L200.5 1087.4 L199.5 1088.65 L198.5 1089.91 L197.5 1091.16 L196.5 1092.41 L195.5 1093.66 L194.5 1094.9 L193.5 1096.13 L192.5 1097.36 L191.5 1098.57 L190.5 1099.78 L189.5 1100.98 L188.5 1102.17 L187.5 1103.35 L186.5 1104.51 L185.5 1105.67 L184.5 1106.81 L183.5 1107.93 L182.5 1109.05 L181.5 1110.15 L180.5 1111.23 L179.5 1112.31 L178.5 1113.37 L177.5 1114.42 L176.5 1115.45 L175.5 1116.47 L174.5 1117.48 L173.5 1118.48 L172.5 1119.46 L171.5 1120.44 L170.5 1121.41 L169.5 1122.36 L168.5 1123.3 L167.5 1124.22 L166.5 1125.12 L165.5 1125.99 L164.5 1126.84 L163.5 1127.67 L162.5 1128.48 L161.5 1129.26 L160.5 1130.03 L159.5 1130.79 L158.5 1131.53 L157.5 1132.25 L156.5 1132.95 L155.5 1133.64 L154.5 1134.29 L153.5 1134.93 L152.5 1135.54 L151.5 1136.12 L150.5 1136.67 L149.5 1137.2 L148.5 1137.69 L147.5 1138.16 L146.5 1138.58 L145.5 1138.98 L144.5 1139.35 L143.5 1139.7 L142.5 1140.03 L141.5 1140.35 L140.5 1140.67 L139.5 1140.98 L138.5 1141.28 L137.5 1141.58 L136.5 1141.88 L135.5 1142.16 L134.5 1142.43 L133.5 1142.7 L132.5 1142.94 L131.5 1143.18 L130.5 1143.41 L129.5 1143.63 L128.5 1143.84 L127.5 1144.04 L126.5 1144.22 L125.5 1144.4 L124.5 1144.56 L123.5 1144.71 L122.5 1144.85 L121.5 1144.98 L120.5 1145.1 L119.5 1145.21 L118.5 1145.31 L117.5 1145.4 L116.5 1145.4 L115.5 1145.4 L114.5 1145.4 L113.5 1145.4 L112.5 1145.4 L111.5 1145.4 L110.5 1145.4 L109.5 1145.4 L108.5 1145.4 L107.5 1145.4 L106.5 1145.4 L105.5 1145.4 L104.5 1145.4 L103.5 1145.4 L102.5 1145.4 L101.5 1145.4 L100.5 1145.4 L99.5 1145.4 L98.5 1145.4 L97.5 1145.4 L96.5 1145.4 L95.5 1145.4 L94.5 1145.4 L93.5 1145.4 L92.5 1145.4 L91.5 1145.4 L90.5 1145.4 L89.5 1145.4 L88.5 1145.4 L87.5 1145.4 L86.5 1145.4 L85.5 1145.4 L84.5 1145.4 L83.5 1145.4 L82.5 1145.4 L81.5 1145.4 L80.5 1145.4 L79.5 1145.4 L78.5 1145.4 L77.5 1145.4 Z" fill="#1f77b4" fill-opacity="0.1" stroke="#1f77b4" stroke-opacity="0.1" stroke-width="1.39"/><path d="M77.5 1145.27 L78.5 1145.27 L79.5 1145.27 L80.5 1145.27 L81.5 1145.27 L82.5 1145.27 L83.5 1145.27 L84.5 1145.27 L85.5 1145.27 L86.5 1145.27 L87.5 1145.27 L88.5 1145.26 L89.5 1145.26 L90.5 1145.26 L91.5 1145.26 L92.5 1145.26 L93.5 1145.26 L94.5 1145.25 L95.5 1145.25 L96.5 1145.25 L97.5 1145.25 L98.5 1145.24 L99.5 1145.24 L100.5 1145.24 L101.5 1145.23 L102.5 1145.23 L103.5 1145.23 L104.5 1145.22 L105.5 1145.22 L106.5 1145.22 L107.5 1145.21 L108.5 1145.21 L109.5 1145.2 L110.5 1145.18 L111.5 1145.16 L112.5 1145.13 L113.5 1145.09 L114.5 1145.03 L115.5 1144.97 L116.5 1144.89 L117.5 1144.8 L118.5 1144.69 L119.5 1144.58 L120.5 1144.45 L121.5 1144.31 L122.5 1144.17 L123.5 1144.01 L124.5 1143.84 L125.5 1143.66 L126.5 1143.47 L127.5 1143.27 L128.5 1143.05 L129.5 1142.82 L130.5 1142.58 L131.5 1142.31 L132.5 1142.02 L133.5 1141.7 L134.5 1141.36 L135.5 1140.99 L136.5 1140.6 L137.5 1140.19 L138.5 1139.76 L139.5 1139.32 L140.5 1138.87 L141.5 1138.41 L142.5 1137.93 L143.5 1137.44 L144.5 1136.94 L145.5 1136.41 L146.5 1135.85 L147.5 1135.26 L148.5 1134.64 L149.5 1133.99 L150.5 1133.32 L151.5 1132.61 L152.5 1131.87 L153.5 1131.1 L154.5 1130.3 L155.5 1129.48 L156.5 1128.62 L157.5 1127.74 L158.5 1126.84 L159.5 1125.92 L160.5 1124.98 L161.5 1124.02 L162.5 1123.04 L163.5 1122.03 L164.5 1121 L165.5 1119.94 L166.5 1118.86 L167.5 1117.75 L168.5 1116.61 L169.5 1115.45 L170.5 1114.27 L171.5 1113.08 L172.5 1111.87 L173.5 1110.64 L174.5 1109.4 L175.5 1108.15 L176.5 1106.88 L177.5 1105.59 L178.5 1104.28 L179.5 1102.96 L180.5 1101.62 L181.5 1100.26 L182.5 1098.88 L183.5 1097.48 L184.5 1096.06 L185.5 1094.62 L186.5 1093.16 L187.5 1091.68 L188.5 1090.19 L189.5 1088.67 L190.5 1087.13 L191.5 1085.57 L192.5 1083.99 L193.5 1082.4 L194.5 1080.78 L195.5 1079.15 L196.5 1077.51 L197.5 1075.85 L198.5 1074.17 L199.5 1072.48 L200.5 1070.77 L201.5 1069.03 L202.5 1067.26 L203.5 1065.47 L204.5 1063.65 L205.5 1061.81 L206.5 1059.96 L207.5 1058.08 L208.5 1056.2 L209.5 1054.3 L210.5 1052.38 L211.5 1050.46 L212.5 1048.53 L213.5 1046.59 L214.5 1044.65 L215.5 1042.71 L216.5 1040.73 L217.5 1038.74 L218.5 1036.72 L219.5 1034.68 L220.5 1032.62 L221.5 1030.55 L222.5 1028.47 L223.5 1026.37 L224.5 1024.28 L225.5 1022.18 L226.5 1020.08 L227.5 1017.99 L228.5 1015.91 L229.5 1013.85 L230.5 1011.8 L231.5 1009.78 L232.5 1007.78 L233.5 1005.8 L234.5 1003.85 L235.5 1001.93 L236.5 1000.03 L237.5 998.16 L238.5 996.31 L239.5 994.5 L240.5 992.71 L241.5 990.95 L242.5 989.23 L243.5 987.53 L244.5 985.86 L245.5 984.23 L246.5 982.62 L247.5 981.03 L248.5 979.47 L249.5 977.94 L250.5 976.43 L251.5 974.94 L252.5 973.47 L253.5 972.01 L254.5 970.57 L255.5 969.14 L256.5 967.72 L257.5 966.3 L258.5 964.89 L259.5 963.47 L260.5 962.06 L261.5 960.65 L262.5 959.26 L263.5 957.88 L264.5 956.5 L265.5 955.13 L266.5 953.77 L267.5 952.41 L268.5 951.05 L269.5 949.69 L270.5 948.34 L271.5 946.99 L272.5 945.63 L273.5 944.28 L274.5 942.92 L275.5 941.56 L276.5 940.2 L277.5 938.83 L278.5 937.46 L279.5 936.09 L280.5 934.71 L281.5 933.33 L282.5 931.95 L283.5 930.56 L284.5 929.18 L285.5 927.8 L286.5 926.41 L287.5 925.03 L288.5 923.66 L289.5 922.29 L290.5 920.93 L291.5 919.58 L292.5 918.23 L293.5 916.89 L294.5 915.56 L295.5 914.25 L296.5 912.95 L297.5 911.66 L298.5 910.39 L299.5 909.13 L300.5 907.89 L301.5 906.67 L302.5 905.46 L303.5 904.27 L304.5 903.1 L305.5 901.95 L306.5 900.81 L307.5 899.7 L308.5 898.6 L309.5 897.51 L310.5 896.45 L311.5 895.39 L312.5 894.35 L313.5 893.31 L314.5 892.29 L315.5 891.28 L316.5 890.27 L317.5 889.28 L318.5 888.29 L319.5 887.3 L320.5 886.33 L321.5 885.36 L322.5 884.39 L323.5 883.44 L324.5 882.49 L325.5 881.55 L326.5 880.61 L327.5 879.68 L328.5 878.77 L329.5 877.86 L330.5 876.95 L331.5 876.06 L332.5 875.18 L333.5 874.31 L334.5 873.44 L335.5 872.59 L336.5 871.74 L337.5 870.91 L338.5 870.09 L339.5 869.28 L340.5 868.48 L341.5 867.68 L342.5 866.9 L343.5 866.12 L344.5 865.34 L345.5 864.57 L346.5 863.81 L347.5 863.05 L348.5 862.3 L349.5 861.56 L350.5 860.82 L351.5 860.09 L352.5 859.36 L353.5 858.64 L354.5 857.93 L355.5 857.22 L356.5 856.52 L357.5 855.82 L358.5 855.14 L359.5 854.45 L360.5 853.78 L361.5 853.11 L362.5 852.44 L363.5 851.78 L364.5 851.13 L365.5 850.48 L366.5 849.84 L367.5 849.21 L368.5 848.58 L369.5 847.96 L370.5 847.34 L371.5 846.73 L372.5 846.13 L373.5 845.53 L374.5 844.94 L375.5 844.35 L376.5 843.77 L377.5 843.2 L378.5 842.63 L379.5 842.07 L380.5 841.52 L381.5 840.97 L382.5 840.42 L383.5 839.88 L384.5 839.35 L385.5 838.81 L386.5 838.29 L387.5 837.77 L388.5 837.25 L389.5 836.74 L390.5 836.23 L391.5 835.72 L392.5 835.22 L393.5 834.73 L394.5 834.23 L395.5 833.74 L396.5 833.26 L397.5 832.78 L398.5 832.3 L399.5 831.82 L400.5 831.35 L401.5 830.88 L402.5 830.41 L403.5 829.95 L404.5 829.48 L405.5 829.02 L406.5 828.57 L407.5 828.11 L408.5 827.66 L409.5 827.21 L410.5 826.76 L411.5 826.31 L412.5 825.87 L413.5 825.42 L414.5 824.98 L415.5 824.54 L416.5 824.1 L417.5 823.66 L418.5 823.23 L419.5 822.79 L420.5 822.36 L421.5 821.92 L422.5 821.49 L423.5 821.05 L424.5 820.62 L425.5 820.19 L426.5 819.76 L427.5 819.33 L428.5 818.9 L429.5 818.47 L430.5 818.04 L431.5 817.62 L432.5 817.19 L433.5 816.77 L434.5 816.34 L435.5 815.92 L436.5 815.5 L437.5 815.08 L438.5 814.66 L439.5 814.24 L440.5 813.82 L441.5 813.4 L442.5 812.98 L443.5 812.57 L444.5 812.15 L445.5 811.74 L446.5 811.33 L447.5 810.92 L448.5 810.5 L449.5 810.09 L450.5 809.69 L451.5 809.28 L452.5 808.87 L453.5 808.47 L454.5 808.06 L455.5 807.66 L456.5 807.25 L457.5 806.85 L458.5 806.45 L459.5 806.05 L460.5 805.65 L461.5 805.26 L462.5 804.86 L463.5 804.46 L464.5 804.06 L465.5 803.66 L466.5 803.26 L467.5 802.86 L468.5 802.46 L469.5 802.06 L470.5 801.65 L471.5 801.25 L472.5 800.85 L473.5 800.44 L474.5 800.04 L475.5 799.63 L476.5 799.22 L477.5 798.81 L478.5 798.4 L479.5 797.99 L480.5 797.58 L481.5 797.16 L482.5 796.75 L483.5 796.33 L484.5 795.91 L485.5 795.49 L486.5 795.07 L487.5 794.64 L488.5 794.22 L489.5 793.79 L490.5 793.36 L491.5 792.92 L492.5 792.49 L493.5 792.05 L494.5 791.61 L495.5 791.17 L496.5 790.73 L497.5 790.28 L498.5 789.83 L499.5 789.38 L500.5 788.93 L501.5 788.48 L502.5 788.02 L503.5 787.56 L504.5 787.09 L505.5 786.62 L506.5 786.15 L507.5 785.68 L508.5 785.21 L509.5 784.73 L510.5 784.25 L511.5 783.77 L512.5 783.28 L513.5 782.79 L514.5 782.3 L515.5 781.81 L516.5 781.32 L517.5 780.82 L518.5 780.32 L519.5 779.82 L520.5 779.32 L521.5 778.82 L522.5 778.31 L523.5 777.81 L524.5 777.3 L525.5 776.79 L526.5 776.28 L527.5 775.76 L528.5 775.25 L529.5 774.73 L530.5 774.22 L531.5 773.7 L532.5 773.18 L533.5 772.66 L534.5 772.14 L535.5 771.62 L536.5 771.1 L537.5 770.57 L538.5 770.05 L539.5 769.53 L540.5 769 L541.5 768.48 L542.5 767.95 L543.5 767.42 L544.5 766.9 L545.5 766.37 L546.5 765.85 L547.5 765.32 L548.5 764.79 L549.5 764.26 L550.5 763.74 L551.5 763.21 L552.5 762.68 L553.5 762.16 L554.5 761.63 L555.5 761.1 L556.5 760.58 L557.5 760.05 L558.5 759.53 L559.5 759 L560.5 758.48 L561.5 757.95 L562.5 757.43 L563.5 756.91 L564.5 756.38 L565.5 755.86 L566.5 755.34 L567.5 754.82 L568.5 754.3 L569.5 753.78 L570.5 753.26 L571.5 752.75 L572.5 752.23 L573.5 751.71 L574.5 751.2 L575.5 750.68 L576.5 750.17 L577.5 749.66 L578.5 749.15 L579.5 748.64 L580.5 748.13 L581.5 747.62 L582.5 747.12 L583.5 746.61 L584.5 746.11 L585.5 745.6 L586.5 745.1 L587.5 744.6 L588.5 744.1 L589.5 743.6 L590.5 743.11 L591.5 742.61 L592.5 742.12 L593.5 741.63 L594.5 741.14 L595.5 740.65 L596.5 740.16 L597.5 739.68 L598.5 739.19 L599.5 738.71 L600.5 738.23 L601.5 737.75 L602.5 737.27 L603.5 736.79 L604.5 736.32 L605.5 735.84 L606.5 735.37 L607.5 734.89 L608.5 734.42 L609.5 733.95 L610.5 733.47 L611.5 733 L612.5 732.53 L613.5 732.06 L614.5 731.59 L615.5 731.12 L616.5 730.65 L617.5 730.18 L618.5 729.71 L619.5 729.24 L620.5 728.77 L621.5 728.3 L622.5 727.82 L623.5 727.35 L624.5 726.88 L625.5 726.4 L626.5 725.92 L627.5 725.45 L628.5 724.97 L629.5 724.49 L630.5 724.01 L631.5 723.52 L632.5 723.04 L633.5 722.55 L634.5 722.06 L635.5 721.57 L636.5 721.07 L637.5 720.58 L638.5 720.08 L639.5 719.58 L640.5 719.07 L641.5 718.56 L642.5 718.03 L643.5 717.5 L644.5 716.96 L645.5 716.41 L646.5 715.85 L647.5 715.28 L648.5 714.7 L649.5 714.11 L650.5 713.52 L651.5 712.91 L652.5 712.29 L653.5 711.67 L654.5 711.03 L655.5 710.39 L656.5 709.73 L657.5 709.07 L658.5 708.39 L659.5 707.71 L660.5 707.02 L661.5 706.32 L662.5 705.6 L663.5 704.88 L664.5 704.15 L665.5 703.41 L666.5 702.66 L667.5 701.9 L668.5 701.12 L669.5 700.34 L670.5 699.55 L671.5 698.75 L672.5 697.94 L673.5 697.12 L674.5 696.29 L675.5 695.45 L676.5 694.6 L677.5 693.74 L678.5 692.87 L679.5 692 L680.5 691.15 L681.5 690.32 L682.5 689.52 L683.5 688.74 L684.5 687.98 L685.5 687.24 L686.5 686.53 L687.5 685.85 L688.5 685.19 L689.5 684.55 L690.5 683.94 L691.18 683.42 L691.18 723.74 L690.5 724.26 L689.5 724.87 L688.5 725.5 L687.5 726.16 L686.5 726.85 L685.5 727.55 L684.5 728.29 L683.5 729.04 L682.5 729.82 L681.5 730.61 L680.5 731.43 L679.5 732.28 L678.5 733.14 L677.5 734 L676.5 734.86 L675.5 735.7 L674.5 736.53 L673.5 737.35 L672.5 738.16 L671.5 738.96 L670.5 739.75 L669.5 740.53 L668.5 741.3 L667.5 742.06 L666.5 742.81 L665.5 743.54 L664.5 744.27 L663.5 744.99 L662.5 745.7 L661.5 746.4 L660.5 747.08 L659.5 747.76 L658.5 748.43 L657.5 749.08 L656.5 749.73 L655.5 750.37 L654.5 751 L653.5 751.61 L652.5 752.22 L651.5 752.82 L650.5 753.41 L649.5 753.99 L648.5 754.56 L647.5 755.12 L646.5 755.67 L645.5 756.2 L644.5 756.74 L643.5 757.26 L642.5 757.77 L641.5 758.27 L640.5 758.76 L639.5 759.24 L638.5 759.72 L637.5 760.19 L636.5 760.65 L635.5 761.1 L634.5 761.55 L633.5 761.99 L632.5 762.42 L631.5 762.85 L630.5 763.28 L629.5 763.7 L628.5 764.11 L627.5 764.52 L626.5 764.93 L625.5 765.33 L624.5 765.74 L623.5 766.13 L622.5 766.53 L621.5 766.92 L620.5 767.32 L619.5 767.71 L618.5 768.1 L617.5 768.49 L616.5 768.88 L615.5 769.27 L614.5 769.66 L613.5 770.05 L612.5 770.44 L611.5 770.84 L610.5 771.24 L609.5 771.63 L608.5 772.04 L607.5 772.44 L606.5 772.85 L605.5 773.26 L604.5 773.67 L603.5 774.09 L602.5 774.51 L601.5 774.94 L600.5 775.37 L599.5 775.81 L598.5 776.25 L597.5 776.69 L596.5 777.13 L595.5 777.58 L594.5 778.02 L593.5 778.47 L592.5 778.92 L591.5 779.38 L590.5 779.83 L589.5 780.29 L588.5 780.75 L587.5 781.21 L586.5 781.67 L585.5 782.13 L584.5 782.6 L583.5 783.06 L582.5 783.53 L581.5 784 L580.5 784.47 L579.5 784.95 L578.5 785.42 L577.5 785.9 L576.5 786.38 L575.5 786.85 L574.5 787.34 L573.5 787.82 L572.5 788.3 L571.5 788.78 L570.5 789.27 L569.5 789.76 L568.5 790.24 L567.5 790.73 L566.5 791.22 L565.5 791.71 L564.5 792.2 L563.5 792.7 L562.5 793.19 L561.5 793.69 L560.5 794.18 L559.5 794.68 L558.5 795.18 L557.5 795.67 L556.5 796.17 L555.5 796.67 L554.5 797.17 L553.5 797.67 L552.5 798.17 L551.5 798.67 L550.5 799.18 L549.5 799.68 L548.5 800.18 L547.5 800.69 L546.5 801.19 L545.5 801.69 L544.5 802.2 L543.5 802.7 L542.5 803.2 L541.5 803.71 L540.5 804.21 L539.5 804.71 L538.5 805.22 L537.5 805.72 L536.5 806.22 L535.5 806.72 L534.5 807.22 L533.5 807.72 L532.5 808.22 L531.5 808.71 L530.5 809.21 L529.5 809.7 L528.5 810.2 L527.5 810.69 L526.5 811.18 L525.5 811.67 L524.5 812.16 L523.5 812.65 L522.5 813.14 L521.5 813.62 L520.5 814.11 L519.5 814.59 L518.5 815.07 L517.5 815.55 L516.5 816.03 L515.5 816.51 L514.5 816.99 L513.5 817.46 L512.5 817.93 L511.5 818.41 L510.5 818.88 L509.5 819.34 L508.5 819.81 L507.5 820.28 L506.5 820.74 L505.5 821.2 L504.5 821.66 L503.5 822.12 L502.5 822.58 L501.5 823.04 L500.5 823.49 L499.5 823.94 L498.5 824.39 L497.5 824.84 L496.5 825.29 L495.5 825.73 L494.5 826.17 L493.5 826.61 L492.5 827.05 L491.5 827.48 L490.5 827.92 L489.5 828.35 L488.5 828.78 L487.5 829.2 L486.5 829.63 L485.5 830.05 L484.5 830.47 L483.5 830.89 L482.5 831.31 L481.5 831.72 L480.5 832.14 L479.5 832.55 L478.5 832.96 L477.5 833.37 L476.5 833.78 L475.5 834.19 L474.5 834.6 L473.5 835 L472.5 835.41 L471.5 835.81 L470.5 836.21 L469.5 836.62 L468.5 837.02 L467.5 837.42 L466.5 837.82 L465.5 838.22 L464.5 838.62 L463.5 839.02 L462.5 839.42 L461.5 839.82 L460.5 840.21 L459.5 840.61 L458.5 841.01 L457.5 841.41 L456.5 841.8 L455.5 842.19 L454.5 842.59 L453.5 842.98 L452.5 843.37 L451.5 843.76 L450.5 844.15 L449.5 844.55 L448.5 844.94 L447.5 845.33 L446.5 845.72 L445.5 846.11 L444.5 846.5 L443.5 846.89 L442.5 847.28 L441.5 847.68 L440.5 848.07 L439.5 848.47 L438.5 848.86 L437.5 849.26 L436.5 849.66 L435.5 850.05 L434.5 850.46 L433.5 850.86 L432.5 851.26 L431.5 851.67 L430.5 852.07 L429.5 852.48 L428.5 852.89 L427.5 853.31 L426.5 853.72 L425.5 854.14 L424.5 854.56 L423.5 854.99 L422.5 855.41 L421.5 855.84 L420.5 856.28 L419.5 856.71 L418.5 857.15 L417.5 857.59 L416.5 858.04 L415.5 858.48 L414.5 858.94 L413.5 859.39 L412.5 859.85 L411.5 860.31 L410.5 860.77 L409.5 861.24 L408.5 861.71 L407.5 862.18 L406.5 862.66 L405.5 863.14 L404.5 863.62 L403.5 864.1 L402.5 864.59 L401.5 865.08 L400.5 865.58 L399.5 866.07 L398.5 866.57 L397.5 867.08 L396.5 867.58 L395.5 868.09 L394.5 868.6 L393.5 869.12 L392.5 869.63 L391.5 870.16 L390.5 870.68 L389.5 871.21 L388.5 871.74 L387.5 872.27 L386.5 872.8 L385.5 873.34 L384.5 873.88 L383.5 874.43 L382.5 874.97 L381.5 875.52 L380.5 876.08 L379.5 876.63 L378.5 877.19 L377.5 877.75 L376.5 878.31 L375.5 878.88 L374.5 879.45 L373.5 880.02 L372.5 880.6 L371.5 881.18 L370.5 881.76 L369.5 882.35 L368.5 882.94 L367.5 883.54 L366.5 884.14 L365.5 884.75 L364.5 885.36 L363.5 885.97 L362.5 886.59 L361.5 887.21 L360.5 887.84 L359.5 888.48 L358.5 889.12 L357.5 889.77 L356.5 890.42 L355.5 891.08 L354.5 891.74 L353.5 892.41 L352.5 893.09 L351.5 893.77 L350.5 894.46 L349.5 895.16 L348.5 895.86 L347.5 896.58 L346.5 897.29 L345.5 898.02 L344.5 898.76 L343.5 899.5 L342.5 900.25 L341.5 901 L340.5 901.77 L339.5 902.54 L338.5 903.33 L337.5 904.12 L336.5 904.93 L335.5 905.75 L334.5 906.57 L333.5 907.41 L332.5 908.25 L331.5 909.11 L330.5 909.97 L329.5 910.84 L328.5 911.73 L327.5 912.62 L326.5 913.52 L325.5 914.42 L324.5 915.34 L323.5 916.27 L322.5 917.2 L321.5 918.14 L320.5 919.09 L319.5 920.04 L318.5 921.01 L317.5 921.98 L316.5 922.96 L315.5 923.95 L314.5 924.96 L313.5 925.97 L312.5 926.99 L311.5 928.03 L310.5 929.09 L309.5 930.15 L308.5 931.25 L307.5 932.36 L306.5 933.51 L305.5 934.67 L304.5 935.86 L303.5 937.07 L302.5 938.31 L301.5 939.56 L300.5 940.83 L299.5 942.12 L298.5 943.42 L297.5 944.74 L296.5 946.07 L295.5 947.41 L294.5 948.76 L293.5 950.12 L292.5 951.48 L291.5 952.85 L290.5 954.21 L289.5 955.57 L288.5 956.94 L287.5 958.31 L286.5 959.68 L285.5 961.06 L284.5 962.43 L283.5 963.81 L282.5 965.18 L281.5 966.55 L280.5 967.91 L279.5 969.27 L278.5 970.63 L277.5 971.98 L276.5 973.33 L275.5 974.67 L274.5 976.01 L273.5 977.34 L272.5 978.67 L271.5 980 L270.5 981.33 L269.5 982.65 L268.5 983.98 L267.5 985.3 L266.5 986.63 L265.5 987.96 L264.5 989.3 L263.5 990.64 L262.5 991.99 L261.5 993.35 L260.5 994.72 L259.5 996.09 L258.5 997.46 L257.5 998.82 L256.5 1000.17 L255.5 1001.51 L254.5 1002.86 L253.5 1004.21 L252.5 1005.56 L251.5 1006.92 L250.5 1008.3 L249.5 1009.68 L248.5 1011.08 L247.5 1012.49 L246.5 1013.93 L245.5 1015.38 L244.5 1016.85 L243.5 1018.35 L242.5 1019.87 L241.5 1021.41 L240.5 1022.98 L239.5 1024.56 L238.5 1026.18 L237.5 1027.81 L236.5 1029.47 L235.5 1031.15 L234.5 1032.84 L233.5 1034.56 L232.5 1036.3 L231.5 1038.06 L230.5 1039.83 L229.5 1041.58 L228.5 1043.3 L227.5 1044.98 L226.5 1046.64 L225.5 1048.27 L224.5 1049.88 L223.5 1051.46 L222.5 1053.02 L221.5 1054.55 L220.5 1056.07 L219.5 1057.57 L218.5 1059.05 L217.5 1060.52 L216.5 1061.98 L215.5 1063.44 L214.5 1064.88 L213.5 1066.3 L212.5 1067.7 L211.5 1069.08 L210.5 1070.44 L209.5 1071.79 L208.5 1073.13 L207.5 1074.45 L206.5 1075.78 L205.5 1077.1 L204.5 1078.42 L203.5 1079.74 L202.5 1081.07 L201.5 1082.4 L200.5 1083.75 L199.5 1085.1 L198.5 1086.45 L197.5 1087.8 L196.5 1089.14 L195.5 1090.47 L194.5 1091.8 L193.5 1093.11 L192.5 1094.42 L191.5 1095.72 L190.5 1097.01 L189.5 1098.28 L188.5 1099.54 L187.5 1100.79 L186.5 1102.02 L185.5 1103.24 L184.5 1104.45 L183.5 1105.64 L182.5 1106.81 L181.5 1107.98 L180.5 1109.12 L179.5 1110.26 L178.5 1111.37 L177.5 1112.48 L176.5 1113.57 L175.5 1114.65 L174.5 1115.71 L173.5 1116.76 L172.5 1117.8 L171.5 1118.82 L170.5 1119.84 L169.5 1120.84 L168.5 1121.83 L167.5 1122.8 L166.5 1123.74 L165.5 1124.66 L164.5 1125.56 L163.5 1126.43 L162.5 1127.28 L161.5 1128.11 L160.5 1128.92 L159.5 1129.72 L158.5 1130.5 L157.5 1131.26 L156.5 1132 L155.5 1132.72 L154.5 1133.42 L153.5 1134.09 L152.5 1134.73 L151.5 1135.35 L150.5 1135.93 L149.5 1136.49 L148.5 1137.02 L147.5 1137.52 L146.5 1137.98 L145.5 1138.42 L144.5 1138.82 L143.5 1139.2 L142.5 1139.57 L141.5 1139.92 L140.5 1140.27 L139.5 1140.61 L138.5 1140.95 L137.5 1141.28 L136.5 1141.6 L135.5 1141.9 L134.5 1142.2 L133.5 1142.48 L132.5 1142.74 L131.5 1142.99 L130.5 1143.23 L129.5 1143.46 L128.5 1143.67 L127.5 1143.87 L126.5 1144.06 L125.5 1144.24 L124.5 1144.4 L123.5 1144.55 L122.5 1144.7 L121.5 1144.83 L120.5 1144.96 L119.5 1145.07 L118.5 1145.18 L117.5 1145.27 L116.5 1145.35 L115.5 1145.4 L114.5 1145.4 L113.5 1145.4 L112.5 1145.4 L111.5 1145.4 L110.5 1145.4 L109.5 1145.4 L108.5 1145.4 L107.5 1145.4 L106.5 1145.4 L105.5 1145.4 L104.5 1145.4 L103.5 1145.4 L102.5 1145.4 L101.5 1145.4 L100.5 1145.4 L99.5 1145.4 L98.5 1145.4 L97.5 1145.4 L96.5 1145.4 L95.5 1145.4 L94.5 1145.4 L93.5 1145.4 L92.5 1145.4 L91.5 1145.4 L90.5 1145.4 L89.5 1145.4 L88.5 1145.4 L87.5 1145.4 L86.5 1145.4 L85.5 1145.4 L84.5 1145.4 L83.5 1145.4 L82.5 1145.4 L81.5 1145.4 L80.5 1145.4 L79.5 1145.4 L78.5 1145.4 L77.5 1145.4 Z" fill="#1f77b4" fill-opacity="0.1" stroke="#1f77b4" stroke-opacity="0.1" stroke-width="1.39"/><path d="M77.5 1145.33 L78.5 1145.33 L79.5 1145.33 L80.5 1145.33 L81.5 1145.33 L82.5 1145.32 L83.5 1145.32 L84.5 1145.32 L85.5 1145.32 L86.5 1145.32 L87.5 1145.32 L88.5 1145.32 L89.5 1145.32 L90.5 1145.32 L91.5 1145.32 L92.5 1145.32 L93.5 1145.32 L94.5 1145.32 L95.5 1145.31 L96.5 1145.31 L97.5 1145.31 L98.5 1145.31 L99.5 1145.31 L100.5 1145.31 L101.5 1145.3 L102.5 1145.3 L103.5 1145.3 L104.5 1145.3 L105.5 1145.3 L106.5 1145.29 L107.5 1145.29 L108.5 1145.29 L109.5 1145.28 L110.5 1145.27 L111.5 1145.25 L112.5 1145.22 L113.5 1145.18 L114.5 1145.13 L115.5 1145.06 L116.5 1144.99 L117.5 1144.9 L118.5 1144.8 L119.5 1144.68 L120.5 1144.56 L121.5 1144.42 L122.5 1144.28 L123.5 1144.12 L124.5 1143.96 L125.5 1143.78 L126.5 1143.6 L127.5 1143.4 L128.5 1143.18 L129.5 1142.96 L130.5 1142.72 L131.5 1142.46 L132.5 1142.17 L133.5 1141.87 L134.5 1141.54 L135.5 1141.18 L136.5 1140.81 L137.5 1140.42 L138.5 1140.01 L139.5 1139.59 L140.5 1139.16 L141.5 1138.73 L142.5 1138.28 L143.5 1137.82 L144.5 1137.34 L145.5 1136.83 L146.5 1136.3 L147.5 1135.74 L148.5 1135.15 L149.5 1134.52 L150.5 1133.87 L151.5 1133.19 L152.5 1132.47 L153.5 1131.73 L154.5 1130.96 L155.5 1130.16 L156.5 1129.33 L157.5 1128.48 L158.5 1127.61 L159.5 1126.72 L160.5 1125.81 L161.5 1124.88 L162.5 1123.93 L163.5 1122.96 L164.5 1121.96 L165.5 1120.94 L166.5 1119.89 L167.5 1118.81 L168.5 1117.71 L169.5 1116.59 L170.5 1115.45 L171.5 1114.29 L172.5 1113.12 L173.5 1111.93 L174.5 1110.73 L175.5 1109.52 L176.5 1108.29 L177.5 1107.04 L178.5 1105.78 L179.5 1104.5 L180.5 1103.2 L181.5 1101.89 L182.5 1100.55 L183.5 1099.2 L184.5 1097.83 L185.5 1096.44 L186.5 1095.03 L187.5 1093.6 L188.5 1092.16 L189.5 1090.69 L190.5 1089.21 L191.5 1087.71 L192.5 1086.19 L193.5 1084.66 L194.5 1083.11 L195.5 1081.54 L196.5 1079.96 L197.5 1078.37 L198.5 1076.76 L199.5 1075.14 L200.5 1073.5 L201.5 1071.85 L202.5 1070.17 L203.5 1068.48 L204.5 1066.77 L205.5 1065.04 L206.5 1063.29 L207.5 1061.54 L208.5 1059.77 L209.5 1057.99 L210.5 1056.19 L211.5 1054.39 L212.5 1052.58 L213.5 1050.75 L214.5 1048.92 L215.5 1047.08 L216.5 1045.22 L217.5 1043.33 L218.5 1041.43 L219.5 1039.51 L220.5 1037.57 L221.5 1035.61 L222.5 1033.64 L223.5 1031.67 L224.5 1029.68 L225.5 1027.68 L226.5 1025.69 L227.5 1023.69 L228.5 1021.69 L229.5 1019.7 L230.5 1017.71 L231.5 1015.74 L232.5 1013.8 L233.5 1011.87 L234.5 1009.97 L235.5 1008.09 L236.5 1006.24 L237.5 1004.41 L238.5 1002.61 L239.5 1000.84 L240.5 999.09 L241.5 997.38 L242.5 995.69 L243.5 994.03 L244.5 992.4 L245.5 990.8 L246.5 989.22 L247.5 987.67 L248.5 986.14 L249.5 984.64 L250.5 983.15 L251.5 981.69 L252.5 980.24 L253.5 978.8 L254.5 977.38 L255.5 975.97 L256.5 974.56 L257.5 973.16 L258.5 971.76 L259.5 970.35 L260.5 968.95 L261.5 967.55 L262.5 966.16 L263.5 964.79 L264.5 963.42 L265.5 962.06 L266.5 960.7 L267.5 959.34 L268.5 957.99 L269.5 956.65 L270.5 955.3 L271.5 953.95 L272.5 952.6 L273.5 951.25 L274.5 949.9 L275.5 948.54 L276.5 947.18 L277.5 945.82 L278.5 944.46 L279.5 943.09 L280.5 941.71 L281.5 940.34 L282.5 938.96 L283.5 937.58 L284.5 936.19 L285.5 934.81 L286.5 933.43 L287.5 932.05 L288.5 930.68 L289.5 929.31 L290.5 927.95 L291.5 926.59 L292.5 925.24 L293.5 923.9 L294.5 922.57 L295.5 921.24 L296.5 919.93 L297.5 918.64 L298.5 917.36 L299.5 916.09 L300.5 914.84 L301.5 913.61 L302.5 912.39 L303.5 911.19 L304.5 910.01 L305.5 908.85 L306.5 907.71 L307.5 906.59 L308.5 905.48 L309.5 904.4 L310.5 903.33 L311.5 902.28 L312.5 901.23 L313.5 900.2 L314.5 899.18 L315.5 898.17 L316.5 897.17 L317.5 896.18 L318.5 895.19 L319.5 894.21 L320.5 893.24 L321.5 892.27 L322.5 891.31 L323.5 890.36 L324.5 889.42 L325.5 888.48 L326.5 887.55 L327.5 886.63 L328.5 885.72 L329.5 884.81 L330.5 883.92 L331.5 883.03 L332.5 882.16 L333.5 881.29 L334.5 880.43 L335.5 879.58 L336.5 878.74 L337.5 877.92 L338.5 877.1 L339.5 876.29 L340.5 875.5 L341.5 874.71 L342.5 873.93 L343.5 873.16 L344.5 872.39 L345.5 871.63 L346.5 870.87 L347.5 870.12 L348.5 869.38 L349.5 868.65 L350.5 867.92 L351.5 867.19 L352.5 866.48 L353.5 865.77 L354.5 865.06 L355.5 864.36 L356.5 863.67 L357.5 862.98 L358.5 862.3 L359.5 861.63 L360.5 860.96 L361.5 860.3 L362.5 859.64 L363.5 858.99 L364.5 858.35 L365.5 857.71 L366.5 857.08 L367.5 856.45 L368.5 855.83 L369.5 855.21 L370.5 854.6 L371.5 854 L372.5 853.4 L373.5 852.81 L374.5 852.22 L375.5 851.64 L376.5 851.06 L377.5 850.49 L378.5 849.92 L379.5 849.36 L380.5 848.81 L381.5 848.26 L382.5 847.71 L383.5 847.17 L384.5 846.63 L385.5 846.1 L386.5 845.57 L387.5 845.04 L388.5 844.52 L389.5 844.01 L390.5 843.5 L391.5 842.99 L392.5 842.48 L393.5 841.98 L394.5 841.48 L395.5 840.99 L396.5 840.5 L397.5 840.01 L398.5 839.53 L399.5 839.05 L400.5 838.57 L401.5 838.09 L402.5 837.62 L403.5 837.15 L404.5 836.68 L405.5 836.22 L406.5 835.76 L407.5 835.3 L408.5 834.84 L409.5 834.39 L410.5 833.93 L411.5 833.48 L412.5 833.04 L413.5 832.59 L414.5 832.14 L415.5 831.7 L416.5 831.26 L417.5 830.82 L418.5 830.38 L419.5 829.95 L420.5 829.51 L421.5 829.08 L422.5 828.64 L423.5 828.21 L424.5 827.78 L425.5 827.35 L426.5 826.92 L427.5 826.5 L428.5 826.07 L429.5 825.65 L430.5 825.22 L431.5 824.8 L432.5 824.38 L433.5 823.96 L434.5 823.54 L435.5 823.12 L436.5 822.7 L437.5 822.29 L438.5 821.87 L439.5 821.46 L440.5 821.04 L441.5 820.63 L442.5 820.22 L443.5 819.81 L444.5 819.4 L445.5 818.99 L446.5 818.58 L447.5 818.17 L448.5 817.77 L449.5 817.36 L450.5 816.96 L451.5 816.55 L452.5 816.15 L453.5 815.75 L454.5 815.34 L455.5 814.94 L456.5 814.54 L457.5 814.14 L458.5 813.74 L459.5 813.34 L460.5 812.94 L461.5 812.55 L462.5 812.15 L463.5 811.75 L464.5 811.35 L465.5 810.95 L466.5 810.55 L467.5 810.15 L468.5 809.75 L469.5 809.35 L470.5 808.94 L471.5 808.54 L472.5 808.14 L473.5 807.73 L474.5 807.33 L475.5 806.92 L476.5 806.51 L477.5 806.1 L478.5 805.69 L479.5 805.28 L480.5 804.87 L481.5 804.45 L482.5 804.04 L483.5 803.62 L484.5 803.2 L485.5 802.78 L486.5 802.36 L487.5 801.93 L488.5 801.51 L489.5 801.08 L490.5 800.65 L491.5 800.21 L492.5 799.78 L493.5 799.34 L494.5 798.9 L495.5 798.46 L496.5 798.02 L497.5 797.57 L498.5 797.12 L499.5 796.67 L500.5 796.22 L501.5 795.77 L502.5 795.31 L503.5 794.85 L504.5 794.38 L505.5 793.92 L506.5 793.45 L507.5 792.98 L508.5 792.51 L509.5 792.03 L510.5 791.55 L511.5 791.07 L512.5 790.59 L513.5 790.11 L514.5 789.62 L515.5 789.13 L516.5 788.64 L517.5 788.15 L518.5 787.65 L519.5 787.16 L520.5 786.66 L521.5 786.16 L522.5 785.66 L523.5 785.16 L524.5 784.65 L525.5 784.15 L526.5 783.64 L527.5 783.13 L528.5 782.62 L529.5 782.11 L530.5 781.6 L531.5 781.08 L532.5 780.57 L533.5 780.06 L534.5 779.54 L535.5 779.02 L536.5 778.5 L537.5 777.99 L538.5 777.47 L539.5 776.95 L540.5 776.43 L541.5 775.91 L542.5 775.39 L543.5 774.87 L544.5 774.34 L545.5 773.82 L546.5 773.3 L547.5 772.78 L548.5 772.26 L549.5 771.74 L550.5 771.21 L551.5 770.69 L552.5 770.17 L553.5 769.65 L554.5 769.13 L555.5 768.61 L556.5 768.09 L557.5 767.57 L558.5 767.05 L559.5 766.53 L560.5 766.01 L561.5 765.49 L562.5 764.97 L563.5 764.46 L564.5 763.94 L565.5 763.42 L566.5 762.91 L567.5 762.4 L568.5 761.88 L569.5 761.37 L570.5 760.86 L571.5 760.35 L572.5 759.84 L573.5 759.33 L574.5 758.82 L575.5 758.31 L576.5 757.81 L577.5 757.3 L578.5 756.8 L579.5 756.3 L580.5 755.8 L581.5 755.3 L582.5 754.8 L583.5 754.3 L584.5 753.8 L585.5 753.31 L586.5 752.81 L587.5 752.32 L588.5 751.83 L589.5 751.34 L590.5 750.85 L591.5 750.37 L592.5 749.88 L593.5 749.4 L594.5 748.92 L595.5 748.44 L596.5 747.96 L597.5 747.48 L598.5 747.01 L599.5 746.54 L600.5 746.06 L601.5 745.59 L602.5 745.13 L603.5 744.66 L604.5 744.2 L605.5 743.73 L606.5 743.27 L607.5 742.81 L608.5 742.35 L609.5 741.9 L610.5 741.44 L611.5 740.98 L612.5 740.53 L613.5 740.07 L614.5 739.62 L615.5 739.17 L616.5 738.71 L617.5 738.26 L618.5 737.81 L619.5 737.35 L620.5 736.9 L621.5 736.44 L622.5 735.99 L623.5 735.53 L624.5 735.07 L625.5 734.61 L626.5 734.15 L627.5 733.69 L628.5 733.22 L629.5 732.76 L630.5 732.29 L631.5 731.82 L632.5 731.34 L633.5 730.87 L634.5 730.39 L635.5 729.91 L636.5 729.42 L637.5 728.93 L638.5 728.44 L639.5 727.94 L640.5 727.44 L641.5 726.93 L642.5 726.42 L643.5 725.89 L644.5 725.35 L645.5 724.8 L646.5 724.25 L647.5 723.68 L648.5 723.11 L649.5 722.52 L650.5 721.93 L651.5 721.33 L652.5 720.72 L653.5 720.09 L654.5 719.46 L655.5 718.82 L656.5 718.17 L657.5 717.51 L658.5 716.84 L659.5 716.16 L660.5 715.47 L661.5 714.77 L662.5 714.06 L663.5 713.34 L664.5 712.61 L665.5 711.87 L666.5 711.13 L667.5 710.37 L668.5 709.6 L669.5 708.82 L670.5 708.03 L671.5 707.23 L672.5 706.43 L673.5 705.61 L674.5 704.78 L675.5 703.94 L676.5 703.09 L677.5 702.23 L678.5 701.36 L679.5 700.49 L680.5 699.65 L681.5 698.82 L682.5 698.02 L683.5 697.24 L684.5 696.48 L685.5 695.75 L686.5 695.04 L687.5 694.35 L688.5 693.69 L689.5 693.05 L690.5 692.44 L691.18 691.93 L691.18 715.24 L690.5 715.75 L689.5 716.36 L688.5 717 L687.5 717.66 L686.5 718.34 L685.5 719.05 L684.5 719.78 L683.5 720.54 L682.5 721.32 L681.5 722.11 L680.5 722.94 L679.5 723.78 L678.5 724.65 L677.5 725.51 L676.5 726.36 L675.5 727.21 L674.5 728.04 L673.5 728.86 L672.5 729.68 L671.5 730.48 L670.5 731.27 L669.5 732.05 L668.5 732.82 L667.5 733.59 L666.5 734.34 L665.5 735.08 L664.5 735.81 L663.5 736.53 L662.5 737.24 L661.5 737.94 L660.5 738.63 L659.5 739.31 L658.5 739.98 L657.5 740.64 L656.5 741.29 L655.5 741.94 L654.5 742.57 L653.5 743.19 L652.5 743.8 L651.5 744.4 L650.5 744.99 L649.5 745.58 L648.5 746.15 L647.5 746.71 L646.5 747.27 L645.5 747.81 L644.5 748.35 L643.5 748.87 L642.5 749.39 L641.5 749.89 L640.5 750.39 L639.5 750.88 L638.5 751.36 L637.5 751.83 L636.5 752.3 L635.5 752.76 L634.5 753.22 L633.5 753.67 L632.5 754.11 L631.5 754.56 L630.5 754.99 L629.5 755.43 L628.5 755.85 L627.5 756.28 L626.5 756.7 L625.5 757.12 L624.5 757.54 L623.5 757.95 L622.5 758.37 L621.5 758.78 L620.5 759.19 L619.5 759.59 L618.5 760 L617.5 760.41 L616.5 760.82 L615.5 761.22 L614.5 761.63 L613.5 762.04 L612.5 762.45 L611.5 762.86 L610.5 763.27 L609.5 763.68 L608.5 764.1 L607.5 764.52 L606.5 764.94 L605.5 765.36 L604.5 765.79 L603.5 766.22 L602.5 766.66 L601.5 767.09 L600.5 767.54 L599.5 767.98 L598.5 768.43 L597.5 768.88 L596.5 769.33 L595.5 769.79 L594.5 770.24 L593.5 770.7 L592.5 771.16 L591.5 771.62 L590.5 772.09 L589.5 772.55 L588.5 773.02 L587.5 773.49 L586.5 773.96 L585.5 774.43 L584.5 774.9 L583.5 775.37 L582.5 775.85 L581.5 776.33 L580.5 776.81 L579.5 777.29 L578.5 777.77 L577.5 778.25 L576.5 778.74 L575.5 779.23 L574.5 779.71 L573.5 780.2 L572.5 780.69 L571.5 781.18 L570.5 781.67 L569.5 782.17 L568.5 782.66 L567.5 783.16 L566.5 783.65 L565.5 784.15 L564.5 784.65 L563.5 785.15 L562.5 785.65 L561.5 786.15 L560.5 786.65 L559.5 787.15 L558.5 787.66 L557.5 788.16 L556.5 788.66 L555.5 789.17 L554.5 789.67 L553.5 790.18 L552.5 790.69 L551.5 791.19 L550.5 791.7 L549.5 792.21 L548.5 792.72 L547.5 793.23 L546.5 793.73 L545.5 794.24 L544.5 794.75 L543.5 795.26 L542.5 795.77 L541.5 796.28 L540.5 796.78 L539.5 797.29 L538.5 797.8 L537.5 798.31 L536.5 798.81 L535.5 799.32 L534.5 799.82 L533.5 800.32 L532.5 800.83 L531.5 801.33 L530.5 801.83 L529.5 802.33 L528.5 802.83 L527.5 803.32 L526.5 803.82 L525.5 804.31 L524.5 804.81 L523.5 805.3 L522.5 805.79 L521.5 806.28 L520.5 806.77 L519.5 807.26 L518.5 807.74 L517.5 808.23 L516.5 808.71 L515.5 809.19 L514.5 809.67 L513.5 810.15 L512.5 810.62 L511.5 811.1 L510.5 811.57 L509.5 812.04 L508.5 812.51 L507.5 812.98 L506.5 813.45 L505.5 813.91 L504.5 814.37 L503.5 814.83 L502.5 815.29 L501.5 815.75 L500.5 816.2 L499.5 816.65 L498.5 817.1 L497.5 817.55 L496.5 818 L495.5 818.44 L494.5 818.88 L493.5 819.32 L492.5 819.76 L491.5 820.19 L490.5 820.63 L489.5 821.06 L488.5 821.49 L487.5 821.91 L486.5 822.34 L485.5 822.76 L484.5 823.18 L483.5 823.6 L482.5 824.02 L481.5 824.43 L480.5 824.85 L479.5 825.26 L478.5 825.67 L477.5 826.08 L476.5 826.49 L475.5 826.9 L474.5 827.31 L473.5 827.71 L472.5 828.12 L471.5 828.52 L470.5 828.92 L469.5 829.33 L468.5 829.73 L467.5 830.13 L466.5 830.53 L465.5 830.93 L464.5 831.33 L463.5 831.73 L462.5 832.13 L461.5 832.53 L460.5 832.92 L459.5 833.32 L458.5 833.72 L457.5 834.12 L456.5 834.51 L455.5 834.91 L454.5 835.3 L453.5 835.7 L452.5 836.09 L451.5 836.49 L450.5 836.88 L449.5 837.28 L448.5 837.67 L447.5 838.07 L446.5 838.46 L445.5 838.86 L444.5 839.26 L443.5 839.65 L442.5 840.05 L441.5 840.45 L440.5 840.85 L439.5 841.25 L438.5 841.65 L437.5 842.05 L436.5 842.45 L435.5 842.85 L434.5 843.26 L433.5 843.67 L432.5 844.07 L431.5 844.48 L430.5 844.9 L429.5 845.31 L428.5 845.72 L427.5 846.14 L426.5 846.56 L425.5 846.98 L424.5 847.4 L423.5 847.83 L422.5 848.26 L421.5 848.69 L420.5 849.12 L419.5 849.56 L418.5 849.99 L417.5 850.44 L416.5 850.88 L415.5 851.32 L414.5 851.77 L413.5 852.23 L412.5 852.68 L411.5 853.14 L410.5 853.6 L409.5 854.06 L408.5 854.53 L407.5 854.99 L406.5 855.47 L405.5 855.94 L404.5 856.42 L403.5 856.9 L402.5 857.38 L401.5 857.87 L400.5 858.36 L399.5 858.85 L398.5 859.34 L397.5 859.84 L396.5 860.34 L395.5 860.85 L394.5 861.35 L393.5 861.86 L392.5 862.38 L391.5 862.89 L390.5 863.41 L389.5 863.94 L388.5 864.46 L387.5 864.99 L386.5 865.52 L385.5 866.06 L384.5 866.6 L383.5 867.14 L382.5 867.69 L381.5 868.23 L380.5 868.79 L379.5 869.34 L378.5 869.9 L377.5 870.46 L376.5 871.03 L375.5 871.6 L374.5 872.17 L373.5 872.75 L372.5 873.33 L371.5 873.91 L370.5 874.5 L369.5 875.1 L368.5 875.7 L367.5 876.3 L366.5 876.91 L365.5 877.52 L364.5 878.14 L363.5 878.76 L362.5 879.39 L361.5 880.02 L360.5 880.66 L359.5 881.3 L358.5 881.95 L357.5 882.61 L356.5 883.27 L355.5 883.94 L354.5 884.61 L353.5 885.29 L352.5 885.97 L351.5 886.67 L350.5 887.37 L349.5 888.07 L348.5 888.78 L347.5 889.5 L346.5 890.23 L345.5 890.97 L344.5 891.71 L343.5 892.46 L342.5 893.21 L341.5 893.98 L340.5 894.75 L339.5 895.53 L338.5 896.32 L337.5 897.12 L336.5 897.93 L335.5 898.75 L334.5 899.58 L333.5 900.42 L332.5 901.28 L331.5 902.14 L330.5 903.01 L329.5 903.89 L328.5 904.77 L327.5 905.67 L326.5 906.58 L325.5 907.49 L324.5 908.41 L323.5 909.34 L322.5 910.28 L321.5 911.22 L320.5 912.18 L319.5 913.14 L318.5 914.11 L317.5 915.08 L316.5 916.07 L315.5 917.06 L314.5 918.07 L313.5 919.08 L312.5 920.11 L311.5 921.15 L310.5 922.2 L309.5 923.27 L308.5 924.36 L307.5 925.47 L306.5 926.61 L305.5 927.77 L304.5 928.95 L303.5 930.15 L302.5 931.38 L301.5 932.62 L300.5 933.88 L299.5 935.16 L298.5 936.45 L297.5 937.76 L296.5 939.08 L295.5 940.42 L294.5 941.76 L293.5 943.11 L292.5 944.47 L291.5 945.83 L290.5 947.19 L289.5 948.55 L288.5 949.92 L287.5 951.29 L286.5 952.67 L285.5 954.04 L284.5 955.42 L283.5 956.8 L282.5 958.17 L281.5 959.54 L280.5 960.91 L279.5 962.27 L278.5 963.63 L277.5 964.99 L276.5 966.34 L275.5 967.69 L274.5 969.03 L273.5 970.37 L272.5 971.7 L271.5 973.04 L270.5 974.37 L269.5 975.7 L268.5 977.03 L267.5 978.36 L266.5 979.7 L265.5 981.04 L264.5 982.38 L263.5 983.73 L262.5 985.09 L261.5 986.45 L260.5 987.83 L259.5 989.21 L258.5 990.59 L257.5 991.96 L256.5 993.32 L255.5 994.69 L254.5 996.05 L253.5 997.42 L252.5 998.79 L251.5 1000.18 L250.5 1001.57 L249.5 1002.99 L248.5 1004.41 L247.5 1005.86 L246.5 1007.32 L245.5 1008.81 L244.5 1010.32 L243.5 1011.85 L242.5 1013.41 L241.5 1014.99 L240.5 1016.59 L239.5 1018.22 L238.5 1019.88 L237.5 1021.55 L236.5 1023.26 L235.5 1024.98 L234.5 1026.73 L233.5 1028.5 L232.5 1030.29 L231.5 1032.1 L230.5 1033.92 L229.5 1035.73 L228.5 1037.52 L227.5 1039.29 L226.5 1041.04 L225.5 1042.77 L224.5 1044.48 L223.5 1046.17 L222.5 1047.84 L221.5 1049.49 L220.5 1051.12 L219.5 1052.74 L218.5 1054.34 L217.5 1055.93 L216.5 1057.5 L215.5 1059.06 L214.5 1060.62 L213.5 1062.15 L212.5 1063.66 L211.5 1065.15 L210.5 1066.63 L209.5 1068.1 L208.5 1069.55 L207.5 1071 L206.5 1072.44 L205.5 1073.87 L204.5 1075.3 L203.5 1076.73 L202.5 1078.15 L201.5 1079.58 L200.5 1081.01 L199.5 1082.44 L198.5 1083.86 L197.5 1085.28 L196.5 1086.69 L195.5 1088.08 L194.5 1089.47 L193.5 1090.85 L192.5 1092.22 L191.5 1093.58 L190.5 1094.92 L189.5 1096.25 L188.5 1097.57 L187.5 1098.87 L186.5 1100.15 L185.5 1101.42 L184.5 1102.68 L183.5 1103.92 L182.5 1105.14 L181.5 1106.35 L180.5 1107.54 L179.5 1108.72 L178.5 1109.88 L177.5 1111.03 L176.5 1112.16 L175.5 1113.28 L174.5 1114.38 L173.5 1115.47 L172.5 1116.55 L171.5 1117.61 L170.5 1118.66 L169.5 1119.71 L168.5 1120.73 L167.5 1121.73 L166.5 1122.71 L165.5 1123.67 L164.5 1124.6 L163.5 1125.5 L162.5 1126.39 L161.5 1127.25 L160.5 1128.09 L159.5 1128.92 L158.5 1129.73 L157.5 1130.52 L156.5 1131.29 L155.5 1132.04 L154.5 1132.76 L153.5 1133.46 L152.5 1134.13 L151.5 1134.77 L150.5 1135.38 L149.5 1135.97 L148.5 1136.52 L147.5 1137.04 L146.5 1137.53 L145.5 1137.99 L144.5 1138.42 L143.5 1138.83 L142.5 1139.22 L141.5 1139.6 L140.5 1139.98 L139.5 1140.34 L138.5 1140.7 L137.5 1141.05 L136.5 1141.39 L135.5 1141.71 L134.5 1142.02 L133.5 1142.31 L132.5 1142.59 L131.5 1142.85 L130.5 1143.09 L129.5 1143.32 L128.5 1143.54 L127.5 1143.74 L126.5 1143.93 L125.5 1144.11 L124.5 1144.28 L123.5 1144.44 L122.5 1144.59 L121.5 1144.72 L120.5 1144.85 L119.5 1144.97 L118.5 1145.08 L117.5 1145.17 L116.5 1145.26 L115.5 1145.32 L114.5 1145.38 L113.5 1145.4 L112.5 1145.4 L111.5 1145.4 L110.5 1145.4 L109.5 1145.4 L108.5 1145.4 L107.5 1145.4 L106.5 1145.4 L105.5 1145.4 L104.5 1145.4 L103.5 1145.4 L102.5 1145.4 L101.5 1145.4 L100.5 1145.4 L99.5 1145.4 L98.5 1145.4 L97.5 1145.4 L96.5 1145.4 L95.5 1145.4 L94.5 1145.4 L93.5 1145.4 L92.5 1145.4 L91.5 1145.4 L90.5 1145.4 L89.5 1145.4 L88.5 1145.4 L87.5 1145.4 L86.5 1145.4 L85.5 1145.4 L84.5 1145.4 L83.5 1145.4 L82.5 1145.4 L81.5 1145.4 L80.5 1145.4 L79.5 1145.4 L78.5 1145.4 L77.5 1145.4 Z" fill="#1f77b4" fill-opacity="0.1" stroke="#1f77b4" stroke-opacity="0.1" stroke-width="1.39"/><path d="M691.18 706.5 L692.55 706.19 L693.93 705.65 L695.31 704.98 L696.69 704.19 L698.07 703.3 L699.45 702.34 L700.82 701.29 L702.2 700.18 L703.58 699 L704.96 697.77 L706.34 696.47 L707.72 695.12 L709.09 693.72 L710.47 692.27 L711.85 690.78 L713.23 689.23 L714.61 687.65 L715.99 686.02 L717.37 684.35 L718.74 682.64 L720.12 680.89 L721.5 679.1 L722.88 677.28 L724.26 675.42 L725.64 673.52 L727.01 671.59 L728.39 669.63 L729.77 667.63 L731.15 665.6 L732.53 663.54 L733.91 661.45 L735.28 659.33 L736.66 657.18 L738.04 654.99 L739.42 652.78 L740.8 650.54 L742.18 648.28 L743.55 645.98 L744.93 643.66 L746.31 641.31 L747.69 638.93 L749.07 636.53 L750.45 634.1 L751.82 631.65 L753.2 629.17 L754.58 626.66 L755.96 624.13 L757.34 621.58 L758.72 619 L760.09 616.4 L761.47 613.78 L762.85 611.13 L764.23 608.46 L765.61 605.77 L766.99 603.05 L768.36 600.31 L769.74 597.55 L771.12 594.77 L772.5 591.96 L772.5 675.62 L771.12 676.14 L769.74 676.67 L768.36 677.19 L766.99 677.71 L765.61 678.24 L764.23 678.76 L762.85 679.28 L761.47 679.81 L760.09 680.33 L758.72 680.85 L757.34 681.38 L755.96 681.9 L754.58 682.42 L753.2 682.95 L751.82 683.47 L750.45 683.99 L749.07 684.52 L747.69 685.04 L746.31 685.56 L744.93 686.09 L743.55 686.61 L742.18 687.13 L740.8 687.66 L739.42 688.18 L738.04 688.7 L736.66 689.23 L735.28 689.75 L733.91 690.28 L732.53 690.8 L731.15 691.32 L729.77 691.85 L728.39 692.37 L727.01 692.89 L725.64 693.42 L724.26 693.94 L722.88 694.46 L721.5 694.99 L720.12 695.51 L718.74 696.03 L717.37 696.56 L715.99 697.08 L714.61 697.6 L713.23 698.13 L711.85 698.65 L710.47 699.17 L709.09 699.7 L707.72 700.22 L706.34 700.74 L704.96 701.27 L703.58 701.79 L702.2 702.31 L700.82 702.84 L699.45 703.36 L698.07 703.88 L696.69 704.41 L695.31 704.93 L693.93 705.45 L692.55 705.98 L691.18 706.5 Z" fill="#1f77b4" fill-opacity="0.1" stroke="#1f77b4" stroke-opacity="0.1" stroke-width="1.39"/><path d="M691.18 706.5 L692.55 706.26 L693.93 705.83 L695.31 705.3 L696.69 704.68 L698.07 703.99 L699.45 703.22 L700.82 702.4 L702.2 701.53 L703.58 700.6 L704.96 699.63 L706.34 698.61 L707.72 697.55 L709.09 696.45 L710.47 695.31 L711.85 694.13 L713.23 692.92 L714.61 691.67 L715.99 690.39 L717.37 689.07 L718.74 687.73 L720.12 686.35 L721.5 684.95 L722.88 683.51 L724.26 682.05 L725.64 680.56 L727.01 679.04 L728.39 677.49 L729.77 675.92 L731.15 674.33 L732.53 672.71 L733.91 671.06 L735.28 669.39 L736.66 667.7 L738.04 665.98 L739.42 664.24 L740.8 662.48 L742.18 660.7 L743.55 658.89 L744.93 657.06 L746.31 655.22 L747.69 653.35 L749.07 651.46 L750.45 649.55 L751.82 647.61 L753.2 645.66 L754.58 643.69 L755.96 641.71 L757.34 639.7 L758.72 637.67 L760.09 635.62 L761.47 633.56 L762.85 631.48 L764.23 629.37 L765.61 627.26 L766.99 625.12 L768.36 622.96 L769.74 620.79 L771.12 618.6 L772.5 616.4 L772.5 668.03 L771.12 668.68 L769.74 669.33 L768.36 669.98 L766.99 670.64 L765.61 671.29 L764.23 671.94 L762.85 672.59 L761.47 673.24 L760.09 673.9 L758.72 674.55 L757.34 675.2 L755.96 675.85 L754.58 676.5 L753.2 677.16 L751.82 677.81 L750.45 678.46 L749.07 679.11 L747.69 679.76 L746.31 680.42 L744.93 681.07 L743.55 681.72 L742.18 682.37 L740.8 683.02 L739.42 683.68 L738.04 684.33 L736.66 684.98 L735.28 685.63 L733.91 686.29 L732.53 686.94 L731.15 687.59 L729.77 688.24 L728.39 688.89 L727.01 689.55 L725.64 690.2 L724.26 690.85 L722.88 691.5 L721.5 692.15 L720.12 692.81 L718.74 693.46 L717.37 694.11 L715.99 694.76 L714.61 695.41 L713.23 696.07 L711.85 696.72 L710.47 697.37 L709.09 698.02 L707.72 698.67 L706.34 699.33 L704.96 699.98 L703.58 700.63 L702.2 701.28 L700.82 701.94 L699.45 702.59 L698.07 703.24 L696.69 703.89 L695.31 704.54 L693.93 705.2 L692.55 705.85 L691.18 706.5 Z" fill="#1f77b4" fill-opacity="0.1" stroke="#1f77b4" stroke-opacity="0.1" stroke-width="1.39"/><path d="M691.18 706.5 L692.55 706.29 L693.93 705.93 L695.31 705.48 L696.69 704.95 L698.07 704.35 L699.45 703.71 L700.82 703.01 L702.2 702.26 L703.58 701.47 L704.96 700.64 L706.34 699.77 L707.72 698.86 L709.09 697.93 L710.47 696.95 L711.85 695.95 L713.23 694.91 L714.61 693.85 L715.99 692.75 L717.37 691.63 L718.74 690.49 L720.12 689.31 L721.5 688.11 L722.88 686.89 L724.26 685.64 L725.64 684.37 L727.01 683.07 L728.39 681.76 L729.77 680.42 L731.15 679.05 L732.53 677.67 L733.91 676.27 L735.28 674.84 L736.66 673.4 L738.04 671.93 L739.42 670.45 L740.8 668.95 L742.18 667.43 L743.55 665.88 L744.93 664.33 L746.31 662.75 L747.69 661.15 L749.07 659.54 L750.45 657.91 L751.82 656.26 L753.2 654.6 L754.58 652.92 L755.96 651.22 L757.34 649.51 L758.72 647.78 L760.09 646.03 L761.47 644.27 L762.85 642.5 L764.23 640.7 L765.61 638.9 L766.99 637.07 L768.36 635.24 L769.74 633.38 L771.12 631.52 L772.5 629.63 L772.5 659.42 L771.12 660.22 L769.74 661.02 L768.36 661.81 L766.99 662.61 L765.61 663.41 L764.23 664.21 L762.85 665.01 L761.47 665.8 L760.09 666.6 L758.72 667.4 L757.34 668.2 L755.96 669 L754.58 669.79 L753.2 670.59 L751.82 671.39 L750.45 672.19 L749.07 672.99 L747.69 673.78 L746.31 674.58 L744.93 675.38 L743.55 676.18 L742.18 676.98 L740.8 677.77 L739.42 678.57 L738.04 679.37 L736.66 680.17 L735.28 680.97 L733.91 681.76 L732.53 682.56 L731.15 683.36 L729.77 684.16 L728.39 684.96 L727.01 685.75 L725.64 686.55 L724.26 687.35 L722.88 688.15 L721.5 688.95 L720.12 689.74 L718.74 690.54 L717.37 691.34 L715.99 692.14 L714.61 692.93 L713.23 693.73 L711.85 694.53 L710.47 695.33 L709.09 696.13 L707.72 696.92 L706.34 697.72 L704.96 698.52 L703.58 699.32 L702.2 700.12 L700.82 700.91 L699.45 701.71 L698.07 702.51 L696.69 703.31 L695.31 704.11 L693.93 704.9 L692.55 705.7 L691.18 706.5 Z" fill="#1f77b4" fill-opacity="0.1" stroke="#1f77b4" stroke-opacity="0.1" stroke-width="1.39"/></g><path d="M77.5 1145.5 H771.5" stroke="#b0b0b0" stroke-width="1.11"/><path d="M77.5 1027.5 H771.5" stroke="#b0b0b0" stroke-width="1.11"/><path d="M77.5 909.5 H771.5" stroke="#b0b0b0" stroke-width="1.11"/><path d="M77.5 791.5 H771.5" stroke="#b0b0b0" stroke-width="1.11"/><path d="M77.5 672.5 H771.5" stroke="#b0b0b0" stroke-width="1.11"/><g clip-path="url(#c1)"><path d="M77.5 1145.4 L78.5 1145.4 L79.5 1145.4 L80.5 1145.4 L81.5 1145.4 L82.5 1145.4 L83.5 1145.4 L84.5 1145.4 L85.5 1145.4 L86.5 1145.4 L87.5 1145.4 L88.5 1145.4 L89.5 1145.4 L90.5 1145.4 L91.5 1145.4 L92.5 1145.4 L93.5 1145.4 L94.5 1145.4 L95.5 1145.4 L96.5 1145.4 L97.5 1145.4 L98.5 1145.4 L99.5 1145.4 L100.5 1145.4 L101.5 1145.4 L102.5 1145.4 L103.5 1145.4 L104.5 1145.4 L105.5 1145.4 L106.5 1145.4 L107.5 1145.4 L108.5 1145.4 L109.5 1145.4 L110.5 1145.38 L111.5 1145.37 L112.5 1145.34 L113.5 1145.3 L114.5 1145.25 L115.5 1145.19 L116.5 1145.12 L117.5 1145.04 L118.5 1144.94 L119.5 1144.83 L120.5 1144.7 L121.5 1144.57 L122.5 1144.43 L123.5 1144.28 L124.5 1144.12 L125.5 1143.95 L126.5 1143.76 L127.5 1143.57 L128.5 1143.36 L129.5 1143.14 L130.5 1142.9 L131.5 1142.65 L132.5 1142.38 L133.5 1142.09 L134.5 1141.78 L135.5 1141.45 L136.5 1141.1 L137.5 1140.73 L138.5 1140.36 L139.5 1139.97 L140.5 1139.57 L141.5 1139.16 L142.5 1138.75 L143.5 1138.32 L144.5 1137.88 L145.5 1137.41 L146.5 1136.92 L147.5 1136.39 L148.5 1135.83 L149.5 1135.24 L150.5 1134.63 L151.5 1133.98 L152.5 1133.3 L153.5 1132.59 L154.5 1131.86 L155.5 1131.1 L156.5 1130.31 L157.5 1129.5 L158.5 1128.67 L159.5 1127.82 L160.5 1126.95 L161.5 1126.06 L162.5 1125.16 L163.5 1124.23 L164.5 1123.28 L165.5 1122.3 L166.5 1121.3 L167.5 1120.27 L168.5 1119.22 L169.5 1118.15 L170.5 1117.06 L171.5 1115.95 L172.5 1114.83 L173.5 1113.7 L174.5 1112.56 L175.5 1111.4 L176.5 1110.22 L177.5 1109.03 L178.5 1107.83 L179.5 1106.61 L180.5 1105.37 L181.5 1104.12 L182.5 1102.85 L183.5 1101.56 L184.5 1100.25 L185.5 1098.93 L186.5 1097.59 L187.5 1096.24 L188.5 1094.86 L189.5 1093.47 L190.5 1092.07 L191.5 1090.64 L192.5 1089.21 L193.5 1087.76 L194.5 1086.29 L195.5 1084.81 L196.5 1083.32 L197.5 1081.82 L198.5 1080.31 L199.5 1078.79 L200.5 1077.26 L201.5 1075.71 L202.5 1074.16 L203.5 1072.6 L204.5 1071.03 L205.5 1069.45 L206.5 1067.87 L207.5 1066.27 L208.5 1064.66 L209.5 1063.04 L210.5 1061.41 L211.5 1059.77 L212.5 1058.12 L213.5 1056.45 L214.5 1054.77 L215.5 1053.07 L216.5 1051.36 L217.5 1049.63 L218.5 1047.88 L219.5 1046.12 L220.5 1044.34 L221.5 1042.55 L222.5 1040.74 L223.5 1038.92 L224.5 1037.08 L225.5 1035.23 L226.5 1033.36 L227.5 1031.49 L228.5 1029.6 L229.5 1027.71 L230.5 1025.82 L231.5 1023.92 L232.5 1022.02 L233.5 1020.12 L234.5 1018.22 L235.5 1016.33 L236.5 1014.44 L237.5 1012.57 L238.5 1010.7 L239.5 1008.86 L240.5 1007.02 L241.5 1005.21 L242.5 1003.41 L243.5 1001.64 L244.5 999.89 L245.5 998.16 L246.5 996.45 L247.5 994.77 L248.5 993.11 L249.5 991.48 L250.5 989.87 L251.5 988.28 L252.5 986.72 L253.5 985.18 L254.5 983.65 L255.5 982.15 L256.5 980.66 L257.5 979.19 L258.5 977.74 L259.5 976.3 L260.5 974.87 L261.5 973.46 L262.5 972.05 L263.5 970.66 L264.5 969.27 L265.5 967.89 L266.5 966.52 L267.5 965.15 L268.5 963.79 L269.5 962.42 L270.5 961.06 L271.5 959.7 L272.5 958.34 L273.5 956.98 L274.5 955.61 L275.5 954.25 L276.5 952.88 L277.5 951.5 L278.5 950.13 L279.5 948.75 L280.5 947.37 L281.5 945.99 L282.5 944.6 L283.5 943.21 L284.5 941.83 L285.5 940.44 L286.5 939.06 L287.5 937.68 L288.5 936.3 L289.5 934.93 L290.5 933.57 L291.5 932.22 L292.5 930.88 L293.5 929.56 L294.5 928.25 L295.5 926.95 L296.5 925.68 L297.5 924.42 L298.5 923.17 L299.5 921.95 L300.5 920.75 L301.5 919.57 L302.5 918.4 L303.5 917.26 L304.5 916.13 L305.5 915.03 L306.5 913.94 L307.5 912.88 L308.5 911.83 L309.5 910.81 L310.5 909.79 L311.5 908.8 L312.5 907.82 L313.5 906.86 L314.5 905.91 L315.5 904.97 L316.5 904.04 L317.5 903.13 L318.5 902.22 L319.5 901.32 L320.5 900.43 L321.5 899.55 L322.5 898.68 L323.5 897.81 L324.5 896.95 L325.5 896.1 L326.5 895.25 L327.5 894.41 L328.5 893.58 L329.5 892.76 L330.5 891.94 L331.5 891.13 L332.5 890.33 L333.5 889.53 L334.5 888.74 L335.5 887.96 L336.5 887.18 L337.5 886.41 L338.5 885.65 L339.5 884.89 L340.5 884.14 L341.5 883.4 L342.5 882.66 L343.5 881.93 L344.5 881.21 L345.5 880.49 L346.5 879.78 L347.5 879.07 L348.5 878.37 L349.5 877.68 L350.5 876.99 L351.5 876.31 L352.5 875.63 L353.5 874.96 L354.5 874.29 L355.5 873.64 L356.5 872.98 L357.5 872.33 L358.5 871.69 L359.5 871.05 L360.5 870.42 L361.5 869.79 L362.5 869.17 L363.5 868.56 L364.5 867.94 L365.5 867.34 L366.5 866.74 L367.5 866.14 L368.5 865.55 L369.5 864.96 L370.5 864.38 L371.5 863.8 L372.5 863.23 L373.5 862.66 L374.5 862.1 L375.5 861.54 L376.5 860.98 L377.5 860.43 L378.5 859.89 L379.5 859.34 L380.5 858.8 L381.5 858.27 L382.5 857.74 L383.5 857.21 L384.5 856.69 L385.5 856.17 L386.5 855.66 L387.5 855.15 L388.5 854.64 L389.5 854.14 L390.5 853.64 L391.5 853.14 L392.5 852.65 L393.5 852.16 L394.5 851.67 L395.5 851.19 L396.5 850.71 L397.5 850.23 L398.5 849.76 L399.5 849.29 L400.5 848.82 L401.5 848.36 L402.5 847.89 L403.5 847.43 L404.5 846.98 L405.5 846.52 L406.5 846.07 L407.5 845.62 L408.5 845.18 L409.5 844.73 L410.5 844.29 L411.5 843.85 L412.5 843.42 L413.5 842.98 L414.5 842.55 L415.5 842.12 L416.5 841.69 L417.5 841.26 L418.5 840.84 L419.5 840.42 L420.5 840 L421.5 839.58 L422.5 839.16 L423.5 838.74 L424.5 838.33 L425.5 837.92 L426.5 837.5 L427.5 837.09 L428.5 836.68 L429.5 836.28 L430.5 835.87 L431.5 835.47 L432.5 835.06 L433.5 834.66 L434.5 834.26 L435.5 833.85 L436.5 833.45 L437.5 833.05 L438.5 832.65 L439.5 832.26 L440.5 831.86 L441.5 831.46 L442.5 831.06 L443.5 830.67 L444.5 830.27 L445.5 829.88 L446.5 829.48 L447.5 829.08 L448.5 828.69 L449.5 828.29 L450.5 827.9 L451.5 827.5 L452.5 827.11 L453.5 826.71 L454.5 826.32 L455.5 825.92 L456.5 825.52 L457.5 825.13 L458.5 824.73 L459.5 824.33 L460.5 823.93 L461.5 823.53 L462.5 823.13 L463.5 822.73 L464.5 822.33 L465.5 821.93 L466.5 821.53 L467.5 821.12 L468.5 820.72 L469.5 820.31 L470.5 819.9 L471.5 819.5 L472.5 819.09 L473.5 818.67 L474.5 818.26 L475.5 817.85 L476.5 817.43 L477.5 817.01 L478.5 816.59 L479.5 816.17 L480.5 815.75 L481.5 815.33 L482.5 814.9 L483.5 814.47 L484.5 814.04 L485.5 813.61 L486.5 813.17 L487.5 812.74 L488.5 812.3 L489.5 811.86 L490.5 811.41 L491.5 810.97 L492.5 810.52 L493.5 810.07 L494.5 809.62 L495.5 809.16 L496.5 808.7 L497.5 808.24 L498.5 807.78 L499.5 807.32 L500.5 806.85 L501.5 806.38 L502.5 805.9 L503.5 805.43 L504.5 804.95 L505.5 804.47 L506.5 803.99 L507.5 803.51 L508.5 803.02 L509.5 802.53 L510.5 802.04 L511.5 801.55 L512.5 801.05 L513.5 800.55 L514.5 800.05 L515.5 799.55 L516.5 799.05 L517.5 798.55 L518.5 798.04 L519.5 797.53 L520.5 797.02 L521.5 796.51 L522.5 796 L523.5 795.49 L524.5 794.97 L525.5 794.46 L526.5 793.94 L527.5 793.42 L528.5 792.9 L529.5 792.38 L530.5 791.86 L531.5 791.34 L532.5 790.81 L533.5 790.29 L534.5 789.76 L535.5 789.24 L536.5 788.71 L537.5 788.18 L538.5 787.66 L539.5 787.13 L540.5 786.6 L541.5 786.07 L542.5 785.54 L543.5 785.01 L544.5 784.48 L545.5 783.95 L546.5 783.42 L547.5 782.89 L548.5 782.36 L549.5 781.83 L550.5 781.3 L551.5 780.77 L552.5 780.25 L553.5 779.72 L554.5 779.19 L555.5 778.66 L556.5 778.13 L557.5 777.6 L558.5 777.08 L559.5 776.55 L560.5 776.02 L561.5 775.5 L562.5 774.97 L563.5 774.45 L564.5 773.93 L565.5 773.4 L566.5 772.88 L567.5 772.36 L568.5 771.84 L569.5 771.32 L570.5 770.8 L571.5 770.28 L572.5 769.77 L573.5 769.25 L574.5 768.74 L575.5 768.22 L576.5 767.71 L577.5 767.2 L578.5 766.69 L579.5 766.18 L580.5 765.67 L581.5 765.16 L582.5 764.66 L583.5 764.15 L584.5 763.65 L585.5 763.15 L586.5 762.64 L587.5 762.15 L588.5 761.65 L589.5 761.15 L590.5 760.66 L591.5 760.16 L592.5 759.67 L593.5 759.18 L594.5 758.69 L595.5 758.2 L596.5 757.72 L597.5 757.23 L598.5 756.75 L599.5 756.27 L600.5 755.79 L601.5 755.31 L602.5 754.84 L603.5 754.36 L604.5 753.89 L605.5 753.41 L606.5 752.94 L607.5 752.47 L608.5 752 L609.5 751.54 L610.5 751.07 L611.5 750.6 L612.5 750.14 L613.5 749.67 L614.5 749.21 L615.5 748.74 L616.5 748.28 L617.5 747.82 L618.5 747.35 L619.5 746.89 L620.5 746.42 L621.5 745.92 L622.5 745.38 L623.5 744.81 L624.5 744.22 L625.5 743.59 L626.5 742.95 L627.5 742.29 L628.5 741.61 L629.5 740.93 L630.5 740.23 L631.5 739.53 L632.5 738.83 L633.5 738.14 L634.5 737.44 L635.5 736.75 L636.5 736.02 L637.5 735.24 L638.5 734.43 L639.5 733.61 L640.5 732.78 L641.5 731.96 L642.5 731.16 L643.5 730.39 L644.5 729.67 L645.5 729 L646.5 728.4 L647.5 727.88 L648.5 727.36 L649.5 726.83 L650.5 726.31 L651.5 725.78 L652.5 725.24 L653.5 724.7 L654.5 724.16 L655.5 723.61 L656.5 723.06 L657.5 722.5 L658.5 721.94 L659.5 721.37 L660.5 720.8 L661.5 720.22 L662.5 719.65 L663.5 719.2 L664.5 718.84 L665.5 718.56 L666.5 718.31 L667.5 718.07 L668.5 717.81 L669.5 717.5 L670.5 717.11 L671.5 716.61 L672.5 715.98 L673.5 715.33 L674.5 714.68 L675.5 714.01 L676.5 713.34 L677.5 712.66 L678.5 711.98 L679.5 711.3 L680.5 710.64 L681.5 710 L682.5 709.4 L683.5 708.81 L684.5 708.31 L685.5 707.82 L686.5 707.32 L687.5 706.83 L688.5 706.33 L689.5 705.83 L690.5 705.34 L691.18 705" fill="none" stroke="#1f77b4" stroke-width="2.08" stroke-linejoin="round" stroke-linecap="butt"/><path d="M691.18 707.01 L692.55 706.21 L693.93 705.39 L695.31 704.55 L696.69 703.71 L698.07 702.87 L699.45 702.03 L700.82 701.19 L702.2 700.35 L703.58 699.5 L704.96 698.65 L706.34 697.8 L707.72 696.94 L709.09 696.08 L710.47 695.21 L711.85 694.34 L713.23 693.46 L714.61 692.57 L715.99 691.68 L717.37 690.77 L718.74 689.86 L720.12 688.94 L721.5 688.01 L722.88 687.06 L724.26 686.11 L725.64 685.14 L727.01 684.17 L728.39 683.17 L729.77 682.17 L731.15 681.14 L732.53 680.09 L733.91 679.02 L735.28 677.92 L736.66 676.8 L738.04 675.66 L739.42 674.51 L740.8 673.34 L742.18 672.17 L743.55 670.98 L744.93 669.8 L746.31 668.61 L747.69 667.42 L749.07 666.23 L750.45 665.05 L751.82 663.86 L753.2 662.68 L754.58 661.49 L755.96 660.29 L757.34 659.09 L758.72 657.88 L760.09 656.67 L761.47 655.45 L762.85 654.23 L764.23 653.01 L765.61 651.77 L766.99 650.54 L768.36 649.3 L769.74 648.05 L771.12 646.8 L772.5 645.54" fill="none" stroke="#1f77b4" stroke-width="2.08" stroke-linejoin="round"/><path d="M691 1145.4 V594.7" stroke="#1f77b4" stroke-opacity="0.5" stroke-width="2.08" stroke-dasharray="7.74 3.315"/><path d="M74.99 1145.4 L77.85 1145.4 L80.72 1145.4 L83.58 1145.4 L86.45 1145.4 L89.32 1145.4 L92.18 1145.4 L95.05 1145.4 L97.91 1145.4 L100.78 1145.4 L103.65 1145.4 L106.51 1145.4 L109.38 1145.4 L112.24 1145.4 L115.11 1145.4 L117.98 1145.4 L120.84 1145.36 L123.71 1144.88 L126.57 1144.2 L129.44 1143.26 L132.31 1142.42 L135.17 1141.72 L138.04 1140.94 L140.9 1140.07 L143.77 1138.99 L146.64 1137.41 L149.5 1135.59 L152.37 1134.05 L155.23 1132.43 L158.1 1130.13 L160.97 1127.2 L163.83 1124.27 L166.7 1121.3 L169.56 1118.3 L172.43 1115.24 L175.3 1112.07 L178.16 1108.78 L181.03 1105.29 L183.89 1101.58 L186.76 1097.69 L189.63 1093.67 L192.49 1089.55 L195.36 1085.32 L198.22 1081 L201.09 1076.59 L203.96 1072.11 L206.82 1067.55 L209.69 1062.94 L212.55 1058.27 L215.42 1053.55 L218.29 1048.74 L221.15 1043.77 L224.02 1038.59 L226.88 1033.17 L229.75 1027.53 L232.62 1021.79 L235.48 1016.05 L238.35 1010.42 L241.21 1005 L244.08 999.86 L246.95 994.98 L249.81 990.33 L252.68 985.89 L255.54 981.62 L258.41 977.5 L261.28 973.49 L264.14 969.57 L267.01 965.72 L269.87 961.9 L272.74 958.08 L275.61 954.24 L278.47 950.35 L281.34 946.38 L284.2 942.34 L287.07 938.25 L289.94 934.16 L292.8 930.11 L295.67 926.17 L298.53 922.43 L301.4 918.93 L304.27 915.73 L307.13 912.76 L310 909.95 L312.86 907.22 L315.73 904.55 L318.6 901.94 L321.46 899.39 L324.33 896.91 L327.19 894.48 L330.06 892.11 L332.93 889.81 L335.79 887.55 L338.66 885.36 L341.52 883.22 L344.39 881.12 L347.26 879.09 L350.12 877.1 L352.99 875.15 L355.85 873.26 L358.72 871.41 L361.59 869.61 L364.45 867.84 L367.32 866.12 L370.18 864.44 L373.05 862.8 L375.92 861.19 L378.78 859.62 L381.65 858.09 L384.51 856.59 L387.38 855.11 L390.25 853.67 L393.11 852.26 L395.98 850.88 L398.84 849.52 L401.71 848.19 L404.58 846.87 L407.44 845.59 L410.31 844.32 L413.17 843.07 L416.04 841.84 L418.91 840.62 L421.77 839.42 L424.64 838.23 L427.5 837.06 L430.37 835.89 L433.24 834.74 L436.1 833.59 L438.97 832.45 L441.83 831.32 L444.7 830.18 L447.57 829.06 L450.43 827.93 L453.3 826.8 L456.16 825.67 L459.03 824.53 L461.9 823.4 L464.76 822.25 L467.63 821.1 L470.49 819.94 L473.36 818.77 L476.23 817.59 L479.09 816.39 L481.96 815.18 L484.82 813.96 L487.69 812.71 L490.56 811.45 L493.42 810.17 L496.29 808.87 L499.15 807.54 L502.02 806.2 L504.89 804.83 L507.75 803.44 L510.62 802.03 L513.48 800.61 L516.35 799.17 L519.22 797.72 L522.08 796.25 L524.95 794.77 L527.81 793.29 L530.68 791.79 L533.55 790.28 L536.41 788.77 L539.28 787.26 L542.14 785.74 L545.01 784.21 L547.88 782.69 L550.74 781.17 L553.61 779.65 L556.47 778.13 L559.34 776.62 L562.21 775.11 L565.07 773.61 L567.94 772.11 L570.8 770.62 L573.67 769.14 L576.54 767.66 L579.4 766.2 L582.27 764.74 L585.13 763.29 L588 761.86 L590.87 760.44 L593.73 759.02 L596.6 757.63 L599.46 756.24 L602.33 754.87 L605.2 753.52 L608.06 752.18 L610.93 750.85 L613.79 749.52 L616.66 748.2 L619.53 746.88 L622.39 745.56 L625.26 744.23 L628.12 742.9 L630.99 741.56 L633.86 740.2 L636.72 738.83 L639.59 737.44 L642.45 736.02 L645.32 734.58 L648.19 733.12 L651.05 731.62 L653.92 730.09 L656.78 728.52 L659.65 726.92 L662.52 725.27 L665.38 723.58 L668.25 721.84 L671.11 720.04 L673.98 718.2 L676.85 716.3 L679.71 714.34 L682.58 712.31 L685.44 710.22 M694.04 704.64 L696.91 701.62 L699.77 698.67 L702.64 695.78 L705.51 692.93 L708.37 690.12 L711.24 687.33 L714.1 684.54 L716.97 681.75 L719.84 678.93 L722.7 676.07 L725.57 673.17 L728.43 670.2 L731.3 667.16 L734.17 664.03 L737.03 660.79 L739.9 657.43 L742.76 653.94 L745.63 650.3 L748.5 646.51 L751.36 642.54 L754.23 638.39 L757.09 634.03 L759.96 629.46 L762.83 624.66 L765.69 619.62 L768.56 614.33 L771.42 608.76" stroke="#ff7f0e" stroke-width="8.2" stroke-linejoin="round" fill="none"/><path d="M74.99 1145.4h0M77.85 1145.4h0M80.72 1145.4h0M83.58 1145.4h0M86.45 1145.4h0M89.32 1145.4h0M92.18 1145.4h0M95.05 1145.4h0M97.91 1145.4h0M100.78 1145.4h0M103.65 1145.4h0M106.51 1145.4h0M109.38 1145.4h0M112.24 1145.4h0M115.11 1145.4h0M117.98 1145.4h0M120.84 1145.36h0M123.71 1144.88h0M126.57 1144.2h0M129.44 1143.26h0M132.31 1142.42h0M135.17 1141.72h0M138.04 1140.94h0M140.9 1140.07h0M143.77 1138.99h0M146.64 1137.41h0M149.5 1135.59h0M152.37 1134.05h0M155.23 1132.43h0M158.1 1130.13h0M160.97 1127.2h0M163.83 1124.27h0M166.7 1121.3h0M169.56 1118.3h0M172.43 1115.24h0M175.3 1112.07h0M178.16 1108.78h0M181.03 1105.29h0M183.89 1101.58h0M186.76 1097.69h0M189.63 1093.67h0M192.49 1089.55h0M195.36 1085.32h0M198.22 1081h0M201.09 1076.59h0M203.96 1072.11h0M206.82 1067.55h0M209.69 1062.94h0M212.55 1058.27h0M215.42 1053.55h0M218.29 1048.74h0M221.15 1043.77h0M224.02 1038.59h0M226.88 1033.17h0M229.75 1027.53h0M232.62 1021.79h0M235.48 1016.05h0M238.35 1010.42h0M241.21 1005h0M244.08 999.86h0M246.95 994.98h0M249.81 990.33h0M252.68 985.89h0M255.54 981.62h0M258.41 977.5h0M261.28 973.49h0M264.14 969.57h0M267.01 965.72h0M269.87 961.9h0M272.74 958.08h0M275.61 954.24h0M278.47 950.35h0M281.34 946.38h0M284.2 942.34h0M287.07 938.25h0M289.94 934.16h0M292.8 930.11h0M295.67 926.17h0M298.53 922.43h0M301.4 918.93h0M304.27 915.73h0M307.13 912.76h0M310 909.95h0M312.86 907.22h0M315.73 904.55h0M318.6 901.94h0M321.46 899.39h0M324.33 896.91h0M327.19 894.48h0M330.06 892.11h0M332.93 889.81h0M335.79 887.55h0M338.66 885.36h0M341.52 883.22h0M344.39 881.12h0M347.26 879.09h0M350.12 877.1h0M352.99 875.15h0M355.85 873.26h0M358.72 871.41h0M361.59 869.61h0M364.45 867.84h0M367.32 866.12h0M370.18 864.44h0M373.05 862.8h0M375.92 861.19h0M378.78 859.62h0M381.65 858.09h0M384.51 856.59h0M387.38 855.11h0M390.25 853.67h0M393.11 852.26h0M395.98 850.88h0M398.84 849.52h0M401.71 848.19h0M404.58 846.87h0M407.44 845.59h0M410.31 844.32h0M413.17 843.07h0M416.04 841.84h0M418.91 840.62h0M421.77 839.42h0M424.64 838.23h0M427.5 837.06h0M430.37 835.89h0M433.24 834.74h0M436.1 833.59h0M438.97 832.45h0M441.83 831.32h0M444.7 830.18h0M447.57 829.06h0M450.43 827.93h0M453.3 826.8h0M456.16 825.67h0M459.03 824.53h0M461.9 823.4h0M464.76 822.25h0M467.63 821.1h0M470.49 819.94h0M473.36 818.77h0M476.23 817.59h0M479.09 816.39h0M481.96 815.18h0M484.82 813.96h0M487.69 812.71h0M490.56 811.45h0M493.42 810.17h0M496.29 808.87h0M499.15 807.54h0M502.02 806.2h0M504.89 804.83h0M507.75 803.44h0M510.62 802.03h0M513.48 800.61h0M516.35 799.17h0M519.22 797.72h0M522.08 796.25h0M524.95 794.77h0M527.81 793.29h0M530.68 791.79h0M533.55 790.28h0M536.41 788.77h0M539.28 787.26h0M542.14 785.74h0M545.01 784.21h0M547.88 782.69h0M550.74 781.17h0M553.61 779.65h0M556.47 778.13h0M559.34 776.62h0M562.21 775.11h0M565.07 773.61h0M567.94 772.11h0M570.8 770.62h0M573.67 769.14h0M576.54 767.66h0M579.4 766.2h0M582.27 764.74h0M585.13 763.29h0M588 761.86h0M590.87 760.44h0M593.73 759.02h0M596.6 757.63h0M599.46 756.24h0M602.33 754.87h0M605.2 753.52h0M608.06 752.18h0M610.93 750.85h0M613.79 749.52h0M616.66 748.2h0M619.53 746.88h0M622.39 745.56h0M625.26 744.23h0M628.12 742.9h0M630.99 741.56h0M633.86 740.2h0M636.72 738.83h0M639.59 737.44h0M642.45 736.02h0M645.32 734.58h0M648.19 733.12h0M651.05 731.62h0M653.92 730.09h0M656.78 728.52h0M659.65 726.92h0M662.52 725.27h0M665.38 723.58h0M668.25 721.84h0M671.11 720.04h0M673.98 718.2h0M676.85 716.3h0M679.71 714.34h0M682.58 712.31h0M685.44 710.22h0M694.04 704.64h0M696.91 701.62h0M699.77 698.67h0M702.64 695.78h0M705.51 692.93h0M708.37 690.12h0M711.24 687.33h0M714.1 684.54h0M716.97 681.75h0M719.84 678.93h0M722.7 676.07h0M725.57 673.17h0M728.43 670.2h0M731.3 667.16h0M734.17 664.03h0M737.03 660.79h0M739.9 657.43h0M742.76 653.94h0M745.63 650.3h0M748.5 646.51h0M751.36 642.54h0M754.23 638.39h0M757.09 634.03h0M759.96 629.46h0M762.83 624.66h0M765.69 619.62h0M768.56 614.33h0M771.42 608.76h0" stroke="#ff7f0e" stroke-width="9.2" stroke-linecap="round" fill="none"/></g><rect x="77.5" y="592.5" width="694" height="553" fill="none" stroke="#000" stroke-width="1.11" stroke-linejoin="miter"/><path d="M72.64 1145.5H77.5M72.64 1027.5H77.5M72.64 909.5H77.5M72.64 791.5H77.5M72.64 672.5H77.5M158.5 1145.5v4.86M244.5 1145.5v4.86M333.5 1145.5v4.86M419.5 1145.5v4.86M508.5 1145.5v4.86M597.5 1145.5v4.86M683.5 1145.5v4.86M771.5 1145.5v4.86M77.5 1145.5v4.86M92.5 1145.5v2.78M112.5 1145.5v2.78M132.5 1145.5v2.78M152.5 1145.5v2.78M172.5 1145.5v2.78M192.5 1145.5v2.78M213.5 1145.5v2.78M233.5 1145.5v2.78M253.5 1145.5v2.78M273.5 1145.5v2.78M293.5 1145.5v2.78M313.5 1145.5v2.78M333.5 1145.5v2.78M353.5 1145.5v2.78M373.5 1145.5v2.78M393.5 1145.5v2.78M413.5 1145.5v2.78M433.5 1145.5v2.78M453.5 1145.5v2.78M473.5 1145.5v2.78M493.5 1145.5v2.78M513.5 1145.5v2.78M534.5 1145.5v2.78M554.5 1145.5v2.78M574.5 1145.5v2.78M594.5 1145.5v2.78M614.5 1145.5v2.78M634.5 1145.5v2.78M654.5 1145.5v2.78M674.5 1145.5v2.78M694.5 1145.5v2.78M714.5 1145.5v2.78M734.5 1145.5v2.78M754.5 1145.5v2.78" stroke="#000" stroke-width="1.11" fill="none"/><text x="59.29" y="1150.8" font-size="14.65" textLength="8.14" lengthAdjust="spacingAndGlyphs">0</text><text x="32.77" y="1032.8" font-size="14.65" textLength="34.7" lengthAdjust="spacingAndGlyphs">1000</text><text x="32.66" y="914.8" font-size="14.65" textLength="34.8" lengthAdjust="spacingAndGlyphs">2000</text><text x="32.9" y="796.8" font-size="14.65" textLength="34.56" lengthAdjust="spacingAndGlyphs">3000</text><text x="32.75" y="677.8" font-size="14.65" textLength="34.71" lengthAdjust="spacingAndGlyphs">4000</text><text x="145.86" y="1165.7" font-size="14.65" textLength="24.21" lengthAdjust="spacingAndGlyphs">Apr</text><text x="229.56" y="1165.7" font-size="14.65" textLength="28.19" lengthAdjust="spacingAndGlyphs">May</text><text x="320.84" y="1165.7" font-size="14.65" textLength="22.36" lengthAdjust="spacingAndGlyphs">Jun</text><text x="409.3" y="1165.7" font-size="14.65" textLength="17.29" lengthAdjust="spacingAndGlyphs">Jul</text><text x="493.97" y="1165.7" font-size="14.65" textLength="26.75" lengthAdjust="spacingAndGlyphs">Aug</text><text x="583.47" y="1165.7" font-size="14.65" textLength="25.77" lengthAdjust="spacingAndGlyphs">Sep</text><text x="670.33" y="1165.7" font-size="14.65" textLength="23.74" lengthAdjust="spacingAndGlyphs">Oct</text><text x="757.71" y="1165.7" font-size="14.65" textLength="26.61" lengthAdjust="spacingAndGlyphs">Nov</text><text x="140.36" y="1181.8" font-size="14.65" textLength="34.8" lengthAdjust="spacingAndGlyphs">2020</text><rect x="84.5" y="599.5" width="98.07" height="25" rx="2.8" ry="2.8" fill="#fff" fill-opacity="0.8" stroke="#cccccc" stroke-opacity="0.8" stroke-width="1.11"/><path d="M90.06 610.7H117.84" stroke="#1f77b4" stroke-width="2.08" stroke-linecap="square"/><text x="129.01" y="614.9" font-size="14.65" textLength="47.14" lengthAdjust="spacingAndGlyphs">deaths</text><text x="330.66" y="35.75" font-size="17.58" textLength="132.79" lengthAdjust="spacingAndGlyphs">Indiana 28 days</text></svg></body></html>
